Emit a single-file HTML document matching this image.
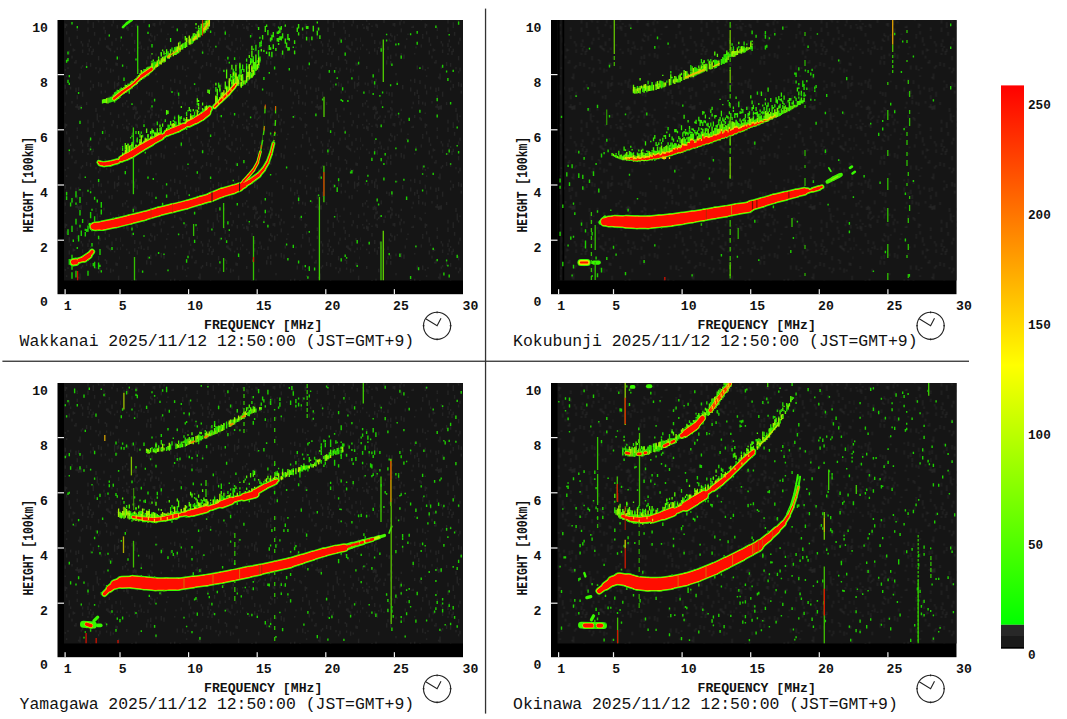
<!DOCTYPE html>
<html><head><meta charset="utf-8"><title>Ionogram</title>
<style>html,body{margin:0;padding:0;background:#fff;}svg{display:block}text{font-family:"Liberation Mono",monospace;fill:#111}.ax{font-size:13.15px;font-weight:bold}.st{font-size:16.45px}.cb{font-size:12.7px;font-weight:bold}</style></head><body>
<svg width="1067" height="719" viewBox="0 0 1067 719">
<defs><linearGradient id="cbg" x1="0" y1="0" x2="0" y2="1"><stop offset="0" stop-color="#ff0000"/><stop offset="0.519" stop-color="#ffff00"/><stop offset="1" stop-color="#00ff00"/></linearGradient><clipPath id="pc"><rect x="64" y="20" width="399" height="260.5"/></clipPath><filter id="bl" x="0" y="0" width="1067" height="719" filterUnits="userSpaceOnUse"><feGaussianBlur stdDeviation="0.45"/></filter><pattern id="noise" width="120" height="100" patternUnits="userSpaceOnUse"><path d="M38.7,14.5v3.5M9.3,51.4v2.6M6.7,48.7v1.6M52.0,6.7v1.8M50.7,79.4v1.9M26.7,60.2v4.3M69.3,38.1v4.4M5.3,82.4v2.4M17.3,11.3v2.4M97.3,17.3v3.2M77.3,35.8v3.1M8.0,5.7v2.1M81.3,41.0v2.4M70.6,43.5v2.4M96.0,67.1v2.2M69.3,50.4v4.1M88.0,27.6v4.4M14.7,40.1v3.8M18.7,46.9v1.6M80.0,73.4v3.2M105.3,30.1v3.6M72.0,55.7v2.9M101.3,90.7v2.9M80.0,5.8v3.6M77.3,95.3v4.0M34.7,37.0v3.5M2.7,44.3v2.0M14.7,5.7v3.8M16.0,23.8v2.7M104.0,7.7v2.8M65.3,84.8v4.0M104.0,26.7v2.7M42.7,84.9v4.4M18.7,16.9v2.2M28.0,46.6v3.3M32.0,0.4v2.8M44.0,54.4v4.4M82.6,49.5v3.4M81.3,5.2v4.2M93.3,84.0v3.9M46.7,38.3v1.8M76.0,6.0v1.7M25.3,15.6v2.5M6.7,0.0v2.0M12.0,34.9v1.6M105.3,59.0v1.9M30.7,33.3v2.6M14.7,81.5v4.5M56.0,46.4v1.8M12.0,32.9v2.3M100.0,15.5v1.6M114.6,50.7v1.9M65.3,2.6v3.1M117.3,82.9v3.6M32.0,35.2v2.0M92.0,51.1v3.8M40.0,21.4v3.9M118.6,81.9v3.9M98.6,71.0v2.2M62.7,34.1v1.6M4.0,26.8v2.3M82.6,91.8v2.8M112.0,94.9v4.4M44.0,21.2v2.2M24.0,19.6v3.4M108.0,80.7v2.9M78.6,76.8v1.8M78.6,87.3v3.8M90.6,45.9v2.0M94.6,31.9v3.9M116.0,38.0v2.7M113.3,69.6v2.0M14.7,14.5v4.2M97.3,14.0v4.0M117.3,63.1v2.6M65.3,12.6v1.5M116.0,62.4v3.1M112.0,41.6v4.1M98.6,20.3v2.3M34.7,23.1v3.3M30.7,40.2v1.9M109.3,34.0v2.9M70.6,86.8v2.8M110.6,48.2v3.1M62.7,1.8v2.8M21.3,0.4v3.9M21.3,45.5v3.7M66.6,31.3v3.1M66.6,75.3v1.8M66.6,23.9v2.3M93.3,48.7v3.2M90.6,87.6v2.8M73.3,48.5v3.0M82.6,43.4v3.1M57.3,90.4v3.6M105.3,90.4v2.3M66.6,90.6v4.0M16.0,11.7v2.8M9.3,23.1v1.7M80.0,75.3v4.2M18.7,68.7v3.5M17.3,84.8v4.4M26.7,91.4v2.7M58.7,95.0v4.0M20.0,41.4v3.0M41.3,18.8v2.5M86.6,1.9v3.2M53.3,1.7v2.5M74.6,49.2v1.7M118.6,75.7v4.4M12.0,25.5v1.6M93.3,26.0v1.9M50.7,87.5v4.0M30.7,14.3v4.3M68.0,67.2v1.8M6.7,66.1v2.8M9.3,90.1v3.4M96.0,8.0v4.1M8.0,82.8v2.9M41.3,53.1v4.3M32.0,12.4v3.1M28.0,10.5v2.0M6.7,19.4v2.4M36.0,72.9v2.4M60.0,17.1v2.5M2.7,24.0v1.5M88.0,52.9v2.1M57.3,89.7v1.8M98.6,41.5v3.0M100.0,37.7v3.0M82.6,94.3v2.5M100.0,67.8v3.4M48.0,33.4v1.7M16.0,6.8v3.7M30.7,15.7v1.8M101.3,83.6v3.5M33.3,23.3v2.4M54.7,15.1v2.8M32.0,92.3v4.4M65.3,23.5v4.4M37.3,34.2v1.5M45.3,45.6v3.0M24.0,48.5v1.5M32.0,8.6v2.7M5.3,2.2v2.4M28.0,56.2v3.1M90.6,63.1v3.6M105.3,37.4v2.5M118.6,14.3v3.7M77.3,4.2v4.0M106.6,60.2v3.7M97.3,13.4v3.1M60.0,80.2v3.9M98.6,56.1v4.2M81.3,66.6v2.2M4.0,12.8v2.6M12.0,80.2v3.2M76.0,60.1v3.5M58.7,0.3v3.9M89.3,48.3v3.1M78.6,6.3v3.7M30.7,7.1v2.3M88.0,19.7v3.7M117.3,47.4v2.6M57.3,65.6v3.8M74.6,61.7v1.7M17.3,24.4v3.7M36.0,54.5v1.5M6.7,25.8v3.5M82.6,64.9v2.4M61.3,44.6v2.9M14.7,85.8v2.1M117.3,89.9v1.6M54.7,78.7v4.4M53.3,25.8v2.1M113.3,20.2v3.2M17.3,50.3v4.4M16.0,78.7v3.0M106.6,67.5v2.2M108.0,46.7v1.6M0.0,47.2v2.9M36.0,13.5v2.5M37.3,80.7v1.5M90.6,80.6v1.9M110.6,68.5v4.2M34.7,35.7v2.7M120.0,56.6v2.6M52.0,26.4v1.6M12.0,80.1v2.4M112.0,23.9v2.3M61.3,18.2v2.6M114.6,84.9v3.9M76.0,87.7v4.3M65.3,69.1v1.6M88.0,43.3v3.8M77.3,27.5v1.6M110.6,12.2v2.9M41.3,28.6v3.7M117.3,25.0v3.5M36.0,53.5v2.7M20.0,15.5v2.1M109.3,47.7v2.2M109.3,95.7v2.8M17.3,18.5v1.8M41.3,8.7v2.2M30.7,54.7v4.2M89.3,39.6v2.7M62.7,36.2v2.5M8.0,26.6v4.4M14.7,48.3v3.4M104.0,20.7v2.3M29.3,38.4v2.8M114.6,81.5v4.1M2.7,3.1v3.6M108.0,45.4v3.3M0.0,37.6v4.3M98.6,82.1v4.4M29.3,10.5v2.0M62.7,65.5v4.3M86.6,62.1v3.8M54.7,52.9v1.6M93.3,22.3v4.3M77.3,29.2v1.9M30.7,61.1v3.6M13.3,6.8v3.1M69.3,37.3v2.2M72.0,1.0v2.4M54.7,92.1v3.4M106.6,45.6v2.2M29.3,92.2v3.6" stroke="#242424" stroke-width="1.3"/></pattern></defs>
<rect width="1067" height="719" fill="#fff"/>
<rect x="484.9" y="8.6" width="1.3" height="705" fill="#333"/>
<rect x="2.4" y="360.6" width="966.6" height="1.3" fill="#333"/>
<g transform="translate(0,0)">
<rect x="57.5" y="20" width="405.5" height="274.2" fill="#000"/>
<rect x="64" y="20" width="399" height="260.5" fill="#151515"/>
<rect x="64" y="20" width="399" height="260.5" fill="url(#noise)"/>
<g fill="none" stroke-linecap="round" clip-path="url(#pc)"><g filter="url(#bl)">
<path d="M93.2,226.6L95.1,226.3" stroke="#38f800" stroke-width="8.2"/>
<path d="M95.1,226.3L102.2,225.8" stroke="#38f800" stroke-width="9.7"/>
<path d="M102.2,225.8L116.2,222.9" stroke="#38f800" stroke-width="10.6"/>
<path d="M116.2,222.9L130.3,219.4" stroke="#38f800" stroke-width="10.7"/>
<path d="M130.3,219.4L144.3,215.9" stroke="#38f800" stroke-width="10.5"/>
<path d="M144.3,215.9L158.4,211.7" stroke="#38f800" stroke-width="10.2"/>
<path d="M158.4,211.7L172.5,208.2" stroke="#38f800" stroke-width="10.0"/>
<path d="M172.5,208.2L186.5,204.7" stroke="#38f800" stroke-width="9.9"/>
<path d="M186.5,204.7L200.6,200.4" stroke="#38f800" stroke-width="9.7"/>
<path d="M200.6,200.4L210.0,197.6" stroke="#38f800" stroke-width="9.7"/>
<path d="M210.0,197.6L211.7,196.8" stroke="#38f800" stroke-width="10.0"/>
<path d="M211.7,196.8L221.7,192.7" stroke="#38f800" stroke-width="10.3"/>
<path d="M221.7,192.7L233.4,189.3" stroke="#38f800" stroke-width="10.2"/>
<path d="M233.4,189.3L239.2,187.2" stroke="#38f800" stroke-width="9.7"/>
<path d="M239.2,187.2L243.7,185.0" stroke="#38f800" stroke-width="8.0"/>
<path d="M243.7,185.0L250.1,181.3" stroke="#38f800" stroke-width="6.5"/>
<path d="M250.1,181.3L258.4,175.3" stroke="#38f800" stroke-width="6.1"/>
<path d="M258.4,175.3L263.4,169.5" stroke="#38f800" stroke-width="5.4"/>
<path d="M263.4,169.5L267.6,162.6" stroke="#38f800" stroke-width="4.8"/>
<path d="M267.6,162.6L270.9,153.4" stroke="#38f800" stroke-width="4.3"/>
<path d="M270.9,153.4L273.4,143.4" stroke="#38f800" stroke-width="4.0"/>
<path d="M273.4,143.4L274.8,133.4" stroke="#38d800" stroke-width="1.6"/>
<path d="M274.8,133.4L275.5,120.0" stroke="#38d800" stroke-width="1.4"/>
<path d="M275.5,120.0L275.6,106.7" stroke="#38d800" stroke-width="1.3"/>
<path d="M240.6,184.5L243.7,181.1" stroke="#38f800" stroke-width="3.3"/>
<path d="M243.7,181.1L248.4,176.0" stroke="#38f800" stroke-width="3.8"/>
<path d="M248.4,176.0L253.4,170.1" stroke="#38f800" stroke-width="3.8"/>
<path d="M253.4,170.1L257.6,162.6" stroke="#38f800" stroke-width="3.4"/>
<path d="M257.6,162.6L260.4,151.8" stroke="#38f800" stroke-width="3.0"/>
<path d="M260.4,151.8L262.6,140.1" stroke="#38d800" stroke-width="1.6"/>
<path d="M262.6,140.1L264.3,128.4" stroke="#38d800" stroke-width="1.4"/>
<path d="M264.3,128.4L265.1,106.7" stroke="#38d800" stroke-width="1.3"/>
<path d="M89.8,224.3L91.6,226.0" stroke="#38f800" stroke-width="2.8"/>
<path d="M73.4,262.2L75.7,261.8" stroke="#38f800" stroke-width="8.4"/>
<path d="M79.3,260.4L84.2,258.9" stroke="#38f800" stroke-width="6.6"/>
<path d="M84.2,258.9L88.7,255.7" stroke="#38f800" stroke-width="7.5"/>
<path d="M88.7,255.7L92.1,251.7" stroke="#38f800" stroke-width="6.1"/>
<path d="M98.8,162.3L100.5,163.5" stroke="#38f800" stroke-width="4.8"/>
<path d="M100.5,163.5L104.0,164.1" stroke="#38f800" stroke-width="6.0"/>
<path d="M104.0,164.1L110.3,163.3" stroke="#38f800" stroke-width="6.4"/>
<path d="M110.3,163.3L117.6,161.3" stroke="#38f800" stroke-width="6.1"/>
<path d="M117.6,161.3L119.9,160.2" stroke="#38f800" stroke-width="4.6"/>
<path d="M119.9,160.2L121.8,158.8" stroke="#38f800" stroke-width="5.0"/>
<path d="M121.8,158.8L125.8,156.9" stroke="#38f800" stroke-width="7.5"/>
<path d="M125.8,156.9L131.4,154.1" stroke="#38f800" stroke-width="8.5"/>
<path d="M131.4,154.1L141.2,147.8" stroke="#38f800" stroke-width="8.6"/>
<path d="M141.2,147.8L151.1,142.2" stroke="#38f800" stroke-width="8.5"/>
<path d="M151.1,142.2L160.9,136.8" stroke="#38f800" stroke-width="7.8"/>
<path d="M160.9,136.8L164.1,135.3" stroke="#38f800" stroke-width="5.4"/>
<path d="M164.1,135.3L167.2,133.0" stroke="#38f800" stroke-width="5.4"/>
<path d="M167.2,133.0L172.2,130.9" stroke="#38f800" stroke-width="7.5"/>
<path d="M172.2,130.9L177.8,128.8" stroke="#38f800" stroke-width="7.8"/>
<path d="M177.8,128.8L183.4,126.1" stroke="#38f800" stroke-width="7.4"/>
<path d="M183.4,126.1L185.7,125.3" stroke="#38f800" stroke-width="5.4"/>
<path d="M185.7,125.3L189.0,123.6" stroke="#38f800" stroke-width="5.7"/>
<path d="M189.0,123.6L196.1,120.1" stroke="#38f800" stroke-width="7.9"/>
<path d="M196.1,120.1L201.7,116.9" stroke="#38f800" stroke-width="8.5"/>
<path d="M201.7,116.9L207.3,112.7" stroke="#38f800" stroke-width="8.3"/>
<path d="M207.3,112.7L209.8,108.7" stroke="#38f800" stroke-width="6.4"/>
<path d="M214.5,106.8L220.6,100.6" stroke="#38f800" stroke-width="4.8"/>
<path d="M220.6,100.6L228.2,93.3" stroke="#38f800" stroke-width="5.2"/>
<path d="M228.2,93.3L234.0,86.6" stroke="#38f800" stroke-width="5.0"/>
<path d="M234.0,86.6L235.9,84.1" stroke="#38f800" stroke-width="4.3"/>
<path d="M242.6,82.5V86.1M245.3,80.2V84.4M246.6,77.3V83.0M250.6,72.1V78.6M254.6,67.2V74.9M259.9,56.5V61.0" stroke="#30e800" stroke-width="1.45" stroke-linecap="butt"/>
<path d="M241.3,81.9V87.8M251.9,72.9V77.7M253.3,70.8V76.2M255.9,64.9V71.0M258.6,61.2V66.1" stroke="#58f800" stroke-width="1.45" stroke-linecap="butt"/>
<path d="M257.3,64.1V69.6" stroke="#90f000" stroke-width="1.45" stroke-linecap="butt"/>
<path d="M157.3,121.4V125.2M129.3,150.1V153.3M154.6,131.8V135.8M140.0,141.0V143.3M198.6,110.8V112.4M140.0,140.3V143.3M158.6,133.0V136.0M130.6,137.1V138.4M144.0,124.3V127.0M166.6,111.7V115.0M161.3,129.0V135.8M128.0,149.4V151.1M133.3,143.2V145.2M142.6,134.7V137.5M132.0,135.5V136.9M201.3,111.5V115.2M122.6,145.9V147.7M173.3,120.1V121.8M161.3,126.9V130.8M128.0,148.0V150.0M140.0,135.1V136.6M130.6,149.7V153.1M130.6,149.1V151.1M188.0,110.1V111.6M140.0,133.7V137.6M169.3,124.7V128.4M122.6,152.3V157.3M205.3,106.2V113.1M129.3,149.3V153.1M203.9,109.2V111.4M206.6,105.6V111.7M180.0,116.7V126.7M169.3,125.9V128.3M153.3,136.1V139.4M185.3,119.0V122.6M132.0,142.1V146.5M186.6,119.2V123.4M181.3,115.9V119.0M209.3,105.5V106.8M190.6,109.3V111.9M136.0,146.1V149.1M148.0,134.4V136.8M156.0,132.0V135.3M145.3,137.5V144.1M128.0,145.1V148.2M136.0,144.3V148.0M160.0,132.3V134.2M128.0,144.1V154.1M126.6,147.6V155.2M165.3,119.3V121.9M194.6,115.4V117.9M169.3,127.7V130.8M148.0,135.2V136.9M145.3,138.0V141.1M137.3,137.6V142.0M126.6,150.0V153.3M133.3,141.6V145.6M193.3,115.1V117.2M166.6,127.9V131.7M126.6,150.4V152.4M152.0,134.5V136.7M133.3,132.4V135.6M207.9,106.6V108.0M202.6,108.9V112.9M176.0,121.6V124.0M122.6,148.0V151.0M168.0,124.4V132.3M180.0,120.2V123.6M193.3,116.9V120.1M194.6,111.5V119.5M152.0,131.7V140.3M178.6,122.3V126.8M126.6,150.3V153.7M186.6,111.7V116.2M137.3,145.1V147.0M176.0,122.2V128.3M136.0,131.1V134.0M178.6,114.8V118.1M130.6,145.1V149.2M174.6,120.8V128.6" stroke="#25e000" stroke-width="1.3" stroke-linecap="butt"/>
<path d="M153.3,129.9V133.5M150.6,131.1V134.1M128.0,143.4V145.5M206.6,105.5V109.1M162.6,123.5V126.7M138.6,131.1V134.3M146.6,130.0V133.1M160.0,132.2V136.3M202.6,102.4V105.4M190.6,113.6V118.1M190.6,114.5V116.9M125.3,145.5V149.7M157.3,128.2V129.5M198.6,103.1V106.3M181.3,106.1V108.0M161.3,131.2V135.7M178.6,115.7V117.5M148.0,135.1V142.1M129.3,146.0V148.4M160.0,124.4V127.3M178.6,117.5V122.0M207.9,89.6V93.0M197.3,98.2V102.4M202.6,107.9V109.8M189.3,106.9V110.9M148.0,134.1V135.6M193.3,109.1V111.3M168.0,110.4V113.9M152.0,128.5V132.8M148.0,138.7V141.9M184.0,117.8V120.9M198.6,99.9V101.9M161.3,131.2V133.3M140.0,143.3V146.3M170.6,121.1V125.4M125.3,143.0V147.2M154.6,132.9V136.9M140.0,139.0V143.1M166.6,110.1V113.7M178.6,120.8V124.8M160.0,127.7V131.6M157.3,129.6V133.7M209.3,89.8V94.1M146.6,128.6V132.3M198.6,106.8V109.6M157.3,132.0V135.9M205.3,106.5V109.3M173.3,124.1V129.2" stroke="#50f800" stroke-width="1.3" stroke-linecap="butt"/>
<path d="M173.3,125.8V129.3M192.0,117.1V120.4M132.0,143.7V151.9M141.3,135.2V145.7M180.0,122.8V124.7M205.3,108.5V111.7M125.3,150.1V155.5M150.6,136.6V140.5M172.0,123.8V126.8M185.3,121.8V125.7M192.0,115.3V117.8M150.6,136.9V138.6M173.3,122.9V126.0M129.3,145.6V153.1M206.6,105.9V110.3M144.0,140.7V144.0M140.0,142.6V145.7M136.0,145.1V146.8M145.3,140.7V142.1M145.3,138.5V140.8M146.6,139.9V143.3M156.0,133.0V138.0M201.3,112.3V115.7M190.6,116.1V121.2M146.6,138.5V143.1M145.3,140.5V142.3M166.6,128.5V132.3M186.6,120.4V124.3M197.3,109.8V117.2M156.0,134.9V136.3M192.0,115.5V118.2M188.0,119.3V122.4M152.0,136.6V140.1M140.0,141.9V144.6M174.6,124.0V126.7M190.6,118.6V121.6M122.6,153.8V156.8M158.6,132.6V137.0M157.3,134.2V137.5M186.6,117.0V124.9M126.6,145.0V154.7M166.6,129.6V132.8" stroke="#a8f000" stroke-width="1.3" stroke-linecap="butt"/>
<path d="M221.3,93.3V98.1M246.6,63.6V69.6M255.9,61.3V63.0M227.9,86.5V88.1M258.6,54.6V68.2M247.9,73.5V75.2M227.9,87.9V90.5M254.6,68.9V71.0M254.6,67.5V70.5M253.3,56.2V62.2M241.3,69.3V73.8M259.9,59.1V62.1M234.6,71.3V77.7M243.9,68.9V72.1M242.6,77.3V85.2M226.6,85.7V90.6M218.6,82.7V87.7M238.6,74.5V80.4M241.3,82.8V85.9M247.9,71.8V78.8M251.9,58.6V63.0M226.6,88.6V91.9M226.6,85.9V87.2M258.6,54.2V61.4M233.3,79.6V87.0M242.6,82.0V84.4M242.6,79.3V81.3M234.6,77.9V84.6M239.9,69.9V75.3M215.9,96.0V101.5M229.3,80.8V90.7M253.3,66.5V72.6M231.9,79.7V88.1M253.3,74.1V75.6M259.9,58.4V62.5M253.3,48.4V50.0M251.9,67.2V68.6M215.9,100.9V105.3M239.9,72.9V79.4M230.6,78.0V81.5M234.6,79.6V82.9M221.3,95.9V97.6M241.3,78.7V80.1M251.9,67.5V69.6M249.3,70.6V72.9M258.6,49.9V56.0M255.9,44.7V50.8M223.9,69.8V71.9M217.3,94.3V100.5M251.9,70.1V71.5M233.3,68.7V74.9M249.3,65.6V68.6M261.3,40.6V44.6M219.9,88.5V92.2M251.9,73.6V77.2M215.9,87.0V91.7M230.6,88.1V92.4M217.3,94.0V104.0M215.9,96.8V102.5M259.9,41.9V47.3M250.6,58.1V64.6M233.3,74.4V88.2M231.9,82.4V86.8M222.6,95.5V98.8M247.9,77.7V80.7M246.6,58.4V61.7M261.3,44.8V46.3M238.6,82.8V85.9M239.9,64.3V70.1M253.3,71.2V74.5M226.6,90.2V95.6M242.6,64.6V69.9M230.6,74.0V80.6M229.3,87.1V90.2" stroke="#25e000" stroke-width="1.3" stroke-linecap="butt"/>
<path d="M221.3,92.6V97.5M215.9,97.7V104.6M225.3,81.6V87.8M249.3,55.1V58.1M226.6,69.5V72.2M242.6,74.0V78.8M219.9,84.8V90.8M246.6,72.0V75.9M231.9,64.8V69.6M239.9,62.8V68.4M235.9,64.8V71.3M251.9,45.7V50.1M238.6,80.7V84.2M217.3,97.5V103.7M241.3,83.3V86.5M253.3,60.3V65.8M261.3,48.9V51.4M246.6,66.2V72.3M258.6,57.5V62.1M255.9,65.0V70.0M250.6,61.3V64.8M251.9,50.5V57.2M217.3,88.8V91.2M225.3,84.0V89.3M251.9,51.0V55.8M255.9,54.6V67.3M246.6,71.8V75.2M242.6,78.4V82.6M251.9,67.7V69.9M253.3,64.5V68.8M215.9,97.4V100.7M215.9,82.7V85.4M217.3,89.2V95.1M249.3,64.0V69.0M231.9,81.7V83.9M246.6,71.4V77.1M255.9,57.9V63.3M235.9,72.2V78.6M231.9,76.1V77.6M254.6,62.1V68.9M239.9,74.4V76.7M226.6,72.3V78.5" stroke="#50f800" stroke-width="1.3" stroke-linecap="butt"/>
<path d="M249.3,74.5V79.0M233.3,83.9V87.0M249.3,64.6V79.5M246.6,75.7V81.7M251.9,74.5V77.5M226.6,91.1V95.5M233.3,72.6V87.4M258.6,57.7V61.7M233.3,77.7V86.2M241.3,81.7V86.4M223.9,90.2V96.5M249.3,69.9V76.5M247.9,72.0V77.1M234.6,83.3V87.4M237.3,76.6V81.9M253.3,70.0V74.7M222.6,92.2V95.7M241.3,74.6V81.3M249.3,69.3V75.7M258.6,58.9V64.9M223.9,93.1V98.5M238.6,79.6V84.3M233.3,83.2V86.9M243.9,80.5V84.6M219.9,97.0V99.3M215.9,100.5V104.2M237.3,77.4V85.6M251.9,65.5V72.3M226.6,87.3V91.3M221.3,95.4V97.5M229.3,81.9V92.3M229.3,78.3V93.1M235.9,73.2V85.4M215.9,95.5V106.1" stroke="#a8f000" stroke-width="1.3" stroke-linecap="butt"/>
<path d="M269.3,51.7v4.6M271.9,51.7v5.6M267.9,29.9v5.3M294.6,50.6v3.7M258.6,26.9v3.2M262.6,34.9v4.5M269.3,45.0v4.9M278.6,30.4v3.0M265.3,26.3v2.4M273.3,44.3v4.8M266.6,51.5v2.6M278.6,42.9v2.2M285.3,24.4v2.3M279.9,36.2v3.9M271.9,37.6v2.7M287.9,33.9v3.5M287.9,46.9v3.8M282.6,33.2v5.4M273.3,32.6v2.9M285.3,38.4v5.4M275.9,48.1v2.8M263.9,49.9v2.2M273.3,32.1v5.2M281.3,36.3v4.3M294.6,40.3v3.8M265.3,28.3v3.6M277.3,31.4v2.6M265.3,25.9v5.2M289.3,37.9v2.9M287.9,36.0v4.0M270.6,37.6v4.0M270.6,47.3v2.8M286.6,42.5v5.3M271.9,34.8v4.9M279.9,27.4v5.5M277.3,38.0v3.5M266.6,24.6v2.4M281.3,26.1v3.6M278.6,37.7v4.4M282.6,50.4v4.4M278.6,30.7v3.4M289.3,47.3v3.1" stroke="#30e000" stroke-width="1.4" stroke-linecap="butt"/>
<path d="M317.3,21.4v2.2M311.9,36.6v3.7M306.6,26.1v3.0M313.3,27.2v4.2M302.6,27.6v3.0M297.3,27.4v4.6M317.3,30.8v4.6M307.9,26.1v3.0M298.6,24.1v4.4M319.9,35.2v3.9M298.6,32.2v3.3M306.6,36.8v3.7M318.6,27.4v3.2M313.3,25.8v4.1" stroke="#30e000" stroke-width="1.4" stroke-linecap="butt"/>
<path d="M109.3,97.6V102.8M110.6,96.8V102.6M112.0,96.6V102.0" stroke="#30e800" stroke-width="1.45" stroke-linecap="butt"/>
<path d="M102.6,99.4V103.5M104.0,98.9V103.1M105.3,99.1V103.0M108.0,97.8V103.4M113.3,94.5V101.4" stroke="#58f800" stroke-width="1.45" stroke-linecap="butt"/>
<path d="M106.6,98.1V103.3" stroke="#90f000" stroke-width="1.45" stroke-linecap="butt"/>
<path d="M114.6,92.3V102.5M116.0,91.4V100.8M117.3,89.8V99.7M120.0,88.7V97.7M121.3,87.5V96.0M128.0,83.8V91.4M129.3,83.4V90.8M130.6,81.7V89.4M133.3,80.8V87.0M134.6,78.9V85.9M140.0,73.1V81.3M142.6,71.2V79.2M144.0,68.9V78.5M146.6,67.6V76.5M149.3,66.4V74.5M150.6,65.7V73.3" stroke="#30e800" stroke-width="1.45" stroke-linecap="butt"/>
<path d="M118.6,90.1V99.0M122.6,88.0V95.0M125.3,84.8V93.0M137.3,76.6V84.0M138.6,74.9V82.3M148.0,66.7V75.8" stroke="#58f800" stroke-width="1.45" stroke-linecap="butt"/>
<path d="M124.0,86.9V93.9M126.6,85.0V92.5M132.0,80.8V88.6M136.0,78.3V84.9M141.3,70.1V80.1M145.3,69.2V77.2" stroke="#90f000" stroke-width="1.45" stroke-linecap="butt"/>
<path d="M114.0,98.6L121.9,92.2" stroke="#38f800" stroke-width="4.6"/>
<path d="M121.9,92.2L129.8,86.8" stroke="#38f800" stroke-width="4.4"/>
<path d="M129.8,86.8L134.7,82.9" stroke="#38f800" stroke-width="3.9"/>
<path d="M134.7,82.9L141.6,76.0" stroke="#38f800" stroke-width="4.1"/>
<path d="M141.6,76.0L151.4,69.1" stroke="#38f800" stroke-width="5.0"/>
<path d="M153.3,62.6V70.1M158.6,58.3V66.3M168.0,51.2V59.1M181.3,45.2V49.8M184.0,43.1V48.1M192.0,36.4V43.9M193.3,35.4V42.6M196.0,34.3V40.0M201.3,26.8V35.3M205.3,20.6V32.7" stroke="#30e800" stroke-width="1.45" stroke-linecap="butt"/>
<path d="M160.0,60.2V64.5M164.0,56.5V62.4M165.3,55.5V61.8M170.6,49.2V57.2M174.6,48.5V55.0M176.0,46.7V55.0M177.3,48.0V53.7M178.6,46.8V53.2M182.6,44.4V49.4M185.3,41.7V48.1M186.6,37.8V46.9M197.3,31.3V39.5M199.9,30.8V37.3M203.9,23.1V33.6M206.6,21.5V30.6" stroke="#58f800" stroke-width="1.45" stroke-linecap="butt"/>
<path d="M152.0,65.4V71.2M154.6,63.6V69.6M156.0,62.6V67.8M157.3,60.4V67.1M161.3,58.3V64.5M162.6,56.7V62.5M169.3,53.2V58.8M173.3,50.5V56.2M180.0,45.6V51.8M189.3,39.6V44.7M190.6,38.6V44.5M194.6,33.2V40.8M198.6,29.4V37.6M207.9,19.7V28.9M209.3,16.1V26.4" stroke="#90f000" stroke-width="1.45" stroke-linecap="butt"/>
<path d="M170.6,37.9V42.0M202.6,20.8V25.0M177.3,46.8V50.1M196.0,27.4V28.6M206.6,18.1V20.3M199.9,28.1V33.5M153.3,62.4V66.9M203.9,26.0V31.0M166.6,52.5V57.1M165.3,53.1V54.3M207.9,17.1V21.3M154.6,62.8V66.6M196.0,27.2V28.6M156.0,61.7V65.5M154.6,61.5V65.4M172.0,47.4V51.3M202.6,24.0V28.5M174.6,47.1V52.6M198.6,27.6V29.0M205.3,23.4V28.2M201.3,25.9V31.3M152.0,60.8V62.7M161.3,51.9V54.5M180.0,41.4V44.4M207.9,17.3V21.3M194.6,33.6V35.9" stroke="#25e000" stroke-width="1.3" stroke-linecap="butt"/>
<path d="M193.3,33.2V39.2M161.3,52.3V56.4M185.3,36.1V40.4M158.6,56.5V58.3M198.6,25.6V27.6M166.6,49.2V52.7M153.3,59.4V61.6M189.3,36.8V38.2M152.0,53.3V54.6M164.0,51.3V54.7M166.6,50.3V53.2M162.6,49.4V51.3M182.6,43.5V46.5M201.3,23.8V27.9M205.3,13.3V16.0M196.0,23.1V25.2M152.0,63.9V67.4M207.9,15.1V16.4" stroke="#50f800" stroke-width="1.3" stroke-linecap="butt"/>
<path d="M186.6,38.1V41.9M177.3,46.6V51.4M157.3,62.2V65.2M210.6,16.7V20.1M181.3,44.6V46.6M202.6,23.4V30.7M178.6,45.9V49.2M189.3,39.2V42.9M178.6,42.5V49.4M206.6,20.5V23.5M205.3,23.2V24.4M158.6,59.5V60.8M196.0,34.3V37.4M189.3,35.4V42.4M177.3,48.1V51.9M152.0,63.1V67.0" stroke="#a8f000" stroke-width="1.3" stroke-linecap="butt"/>
<path d="M122.9,27.2L126.8,23.3" stroke="#38f800" stroke-width="2.5"/>
<path d="M126.8,23.3L131.8,19.9" stroke="#38f800" stroke-width="2.6"/>
<path d="M137.7,25.8V74.0" stroke="#30d000" stroke-width="1.3" stroke-linecap="butt"/>
<path d="M133.4,127.4V194.2" stroke="#30d000" stroke-width="1.3" stroke-linecap="butt"/>
<path d="M324.0,96.7V117.0" stroke="#50d000" stroke-width="1.3" stroke-linecap="butt"/>
<path d="M383.3,39.6V82.0" stroke="#50d000" stroke-width="1.3" stroke-linecap="butt"/>
<path d="M319.4,196.9V280.5" stroke="#40d000" stroke-width="1.3" stroke-linecap="butt"/>
<path d="M323.9,165.7V202.2" stroke="#40d000" stroke-width="1.3" stroke-linecap="butt"/>
<path d="M381.0,241.5V280.5" stroke="#40d000" stroke-width="1.3" stroke-linecap="butt"/>
<path d="M383.3,230.7V280.5" stroke="#60d000" stroke-width="1.3" stroke-linecap="butt"/>
<path d="M253.5,236.0V280.5" stroke="#30c000" stroke-width="1.3" stroke-linecap="butt"/>
<path d="M134.5,257.0V280.5" stroke="#30c000" stroke-width="1.3" stroke-linecap="butt"/>
<path d="M223.6,203.0V228.0" stroke="#30c000" stroke-width="1.3" stroke-linecap="butt"/>
<path d="M223.6,258.0V272.0" stroke="#30c000" stroke-width="1.3" stroke-linecap="butt"/>
<path d="M193.6,224.0V236.0" stroke="#30c000" stroke-width="1.3" stroke-linecap="butt"/>
<path d="M69.3,259.1v5.7M72.0,225.7v6.2M85.3,232.1v4.5M72.0,272.2v5.7M76.0,218.8v5.5M98.6,235.8v3.4M78.6,235.2v6.4M92.0,208.7v2.1M90.6,211.9v6.4M72.0,272.7v6.0M76.0,191.3v6.1M70.6,202.6v3.9M72.0,197.9v4.7M90.6,255.2v2.3M68.0,229.2v5.7M73.3,239.4v2.6M98.6,262.5v6.7M80.0,196.9v6.1M82.6,219.0v4.1M92.0,250.4v4.2M76.0,202.5v2.3M101.3,270.3v2.3M88.0,270.8v4.9M101.3,202.1v5.6M97.3,199.5v3.0M101.3,209.4v5.1M100.0,249.0v5.9M77.3,260.5v2.7M81.3,230.6v5.5M66.6,196.2v3.8M72.0,265.5v4.2M88.0,225.4v6.3M100.0,264.7v2.4M88.0,254.5v6.6M86.6,229.0v2.9M66.6,192.0v3.4M93.3,223.4v4.7M76.0,270.8v6.6M76.0,221.9v2.5M80.0,210.0v5.6M77.3,246.9v2.1M92.0,242.9v3.5M94.6,261.7v6.5M92.0,226.4v4.9M94.6,216.2v6.4" stroke="#1fd000" stroke-width="1.4" stroke-linecap="butt"/>
<path d="M377.2,198.4v3.0M85.3,228.7v2.4M337.2,187.3v2.3M357.2,240.1v3.5M72.0,254.8v3.1M301.3,215.8v2.2M225.3,31.4v3.4M385.2,152.9v2.7M391.9,63.5v2.6M351.9,169.9v3.5M166.6,194.6v3.1M219.9,261.2v2.3M122.6,64.5v2.3M457.2,254.8v3.3M327.9,149.6v2.8M305.3,264.9v2.3M219.9,207.3v3.1M358.6,61.8v2.8M172.0,91.1v2.0M68.0,51.6v2.8M381.2,48.3v3.4M249.3,220.9v1.6M97.3,229.1v1.7M80.0,189.0v1.6M229.3,229.3v1.7M399.9,253.5v3.5M309.3,230.9v1.8M293.3,244.7v3.2M133.3,232.7v2.3M267.9,224.7v2.8M194.6,239.7v3.4M386.6,33.7v1.5M293.3,46.4v1.7M410.6,33.2v2.1M186.6,259.3v3.4M375.9,138.2v1.7M447.9,78.1v2.8M374.6,151.2v3.3M437.2,114.5v2.9M102.6,131.1v2.8M174.6,116.4v3.0M149.3,256.7v1.8M153.3,178.0v2.0M398.6,112.7v1.8M330.6,130.2v2.7M109.3,34.5v2.1M269.3,71.9v1.9M397.2,82.8v2.2M410.6,276.0v3.0M121.3,216.4v1.7M382.6,91.5v1.9M234.6,57.3v2.8M391.9,191.3v3.1M129.3,90.6v3.2M194.6,211.8v2.6M124.0,77.6v3.3M422.6,173.3v1.5M72.0,260.6v3.1M342.6,87.3v3.3M94.6,196.8v2.9M211.9,228.6v1.9M446.6,259.4v2.2M196.0,224.1v2.2M298.6,197.6v3.4M363.9,91.5v2.2M94.6,226.5v3.2M153.3,141.6v2.2M177.3,28.5v2.7M442.6,64.7v3.0M371.9,157.8v3.2M233.3,179.7v1.6M125.3,171.0v3.2M253.3,259.5v2.5M227.9,221.2v3.3M422.6,189.5v1.9M188.0,163.4v1.6M184.0,222.3v2.0M322.6,98.6v1.8M197.3,103.1v2.1M188.0,255.7v2.6M262.6,88.5v2.1M382.6,106.3v1.8M218.6,193.0v3.4M395.9,147.4v1.8M417.2,31.1v2.7M450.6,102.0v2.5M186.6,127.2v1.7M310.6,200.2v1.8M69.3,82.7v2.2M237.3,203.0v2.5M77.3,25.9v2.4M132.0,227.5v3.0M383.9,178.6v1.9M379.9,94.9v1.8M80.0,120.7v3.4M337.2,189.6v2.3M238.6,253.4v3.5M197.3,171.2v2.5M145.3,151.7v1.7M381.2,124.4v2.8M374.6,81.2v3.4M457.2,145.0v1.6M318.6,194.4v1.9M373.2,93.0v2.0M98.6,179.1v3.0M341.2,99.0v2.1M86.6,65.9v2.0M148.0,31.8v2.3M69.3,149.6v1.5M215.9,45.7v1.8M341.2,39.6v3.1M334.6,184.7v2.6M351.9,77.3v2.3M72.0,22.1v2.3M309.3,267.7v3.2M86.6,255.4v2.3M229.3,61.7v1.7M243.9,160.1v3.2M329.3,70.0v2.7M390.6,84.2v2.1M168.0,269.4v1.8M315.9,113.4v2.9M263.9,76.9v3.2M278.6,26.6v1.9M132.0,103.3v1.8M321.3,176.5v2.3M166.6,183.3v2.3M369.2,241.7v2.9M437.2,98.0v3.2M226.6,240.2v2.7M178.6,92.6v3.2M257.3,60.0v2.7M121.3,36.6v2.0M373.2,74.2v3.2M81.3,107.1v1.5M338.6,178.2v3.1M389.2,252.9v2.3M210.6,176.5v2.5M141.3,131.5v2.3M417.2,41.7v3.0M345.2,254.5v2.6M345.2,52.5v3.2M85.3,176.4v1.7M156.0,196.7v2.3M337.2,77.2v1.7M202.6,150.2v3.1M409.2,117.7v3.4M289.3,68.1v2.5M334.6,215.9v1.7M450.6,163.3v1.5M178.6,233.6v1.6M189.3,194.3v1.8M350.6,171.6v2.0M386.6,39.6v1.9M367.9,174.8v1.9M221.3,237.7v1.8M90.6,148.4v1.9M335.9,83.5v1.9M309.3,266.2v2.6M449.2,274.4v3.0M293.3,116.1v1.7M274.6,66.8v2.6M237.3,163.3v2.7M287.9,258.0v2.6M112.0,247.0v3.0M210.6,134.4v2.6M219.9,192.1v3.5M85.3,255.4v3.5M407.9,139.4v2.8M250.6,116.4v1.8M145.3,142.9v2.1M148.0,176.6v2.1M395.9,43.5v2.0M233.3,75.7v3.2M259.9,36.8v1.9M342.6,99.9v2.1M149.3,24.2v3.0M194.6,83.3v1.7M265.3,209.8v3.4M435.9,25.4v2.5M257.3,161.3v2.4M433.2,172.7v2.4M446.6,153.3v1.5M314.6,267.6v2.8M144.0,235.2v1.6M401.2,55.5v3.2M136.0,58.4v2.0M265.3,197.9v2.5M93.3,263.0v3.2M210.6,30.6v2.3M447.9,264.7v1.8M142.6,270.6v2.2M341.2,258.3v3.2M383.9,177.5v3.1M158.6,252.0v1.9M113.3,217.6v3.5M366.6,180.2v1.7M274.6,66.6v2.6M227.9,56.8v2.6M378.6,203.6v1.8M437.2,259.1v2.2M453.2,69.7v2.3M398.6,43.0v2.3M69.3,75.1v2.2M395.9,180.8v1.7M381.2,214.9v2.1M133.3,208.8v3.4M152.0,105.3v2.2M449.2,34.0v1.5M137.3,139.1v3.4M80.0,224.8v2.6M418.6,267.3v2.9M164.0,253.6v1.5M457.2,126.6v2.0M415.9,148.4v2.3M186.6,128.1v2.0M270.6,132.4v2.0M66.6,59.7v3.1M346.6,257.0v1.8M433.2,247.7v2.2M443.9,272.4v3.2M286.6,243.6v1.8M117.3,56.5v2.9M446.6,70.6v1.8M415.9,245.4v1.8M78.6,92.1v2.0M68.0,58.1v3.2M90.6,137.6v2.9M347.9,100.1v1.8M234.6,113.0v2.4M181.3,142.4v3.4M68.0,79.7v3.2M263.9,221.3v1.7M458.6,21.6v3.1M162.6,202.8v3.1M357.2,265.0v1.9M403.9,178.8v1.9M152.0,44.1v3.3M196.0,109.6v1.7M383.9,163.1v1.9M381.2,158.1v3.1M345.2,131.2v2.2M419.9,67.3v1.7M406.6,196.6v3.4M307.9,276.3v2.4M90.6,191.2v2.0M221.3,115.1v2.2M270.6,174.0v1.6M419.9,109.8v3.0M202.6,51.5v2.2M154.6,98.7v2.8M334.6,69.9v2.9M309.3,62.5v2.7M88.0,189.8v2.0M298.6,260.6v2.9M286.6,166.6v2.0M250.6,34.9v2.5M449.2,149.5v3.0M423.9,165.6v1.8M458.6,151.0v2.4" stroke="#1fd000" stroke-width="1.4" stroke-linecap="butt"/>
<path d="M93.2,226.6L95.1,226.3" stroke="#f0e000" stroke-width="6.2"/>
<path d="M95.1,226.3L102.2,225.8" stroke="#f0e000" stroke-width="7.7"/>
<path d="M102.2,225.8L116.2,222.9" stroke="#f0e000" stroke-width="8.6"/>
<path d="M116.2,222.9L130.3,219.4" stroke="#f0e000" stroke-width="8.7"/>
<path d="M130.3,219.4L144.3,215.9" stroke="#f0e000" stroke-width="8.5"/>
<path d="M144.3,215.9L158.4,211.7" stroke="#f0e000" stroke-width="8.2"/>
<path d="M158.4,211.7L172.5,208.2" stroke="#f0e000" stroke-width="8.0"/>
<path d="M172.5,208.2L186.5,204.7" stroke="#f0e000" stroke-width="7.9"/>
<path d="M186.5,204.7L200.6,200.4" stroke="#f0e000" stroke-width="7.7"/>
<path d="M200.6,200.4L210.0,197.6" stroke="#f0e000" stroke-width="7.7"/>
<path d="M210.0,197.6L211.7,196.8" stroke="#f0e000" stroke-width="8.0"/>
<path d="M211.7,196.8L221.7,192.7" stroke="#f0e000" stroke-width="8.3"/>
<path d="M221.7,192.7L233.4,189.3" stroke="#f0e000" stroke-width="8.2"/>
<path d="M233.4,189.3L239.2,187.2" stroke="#f0e000" stroke-width="7.7"/>
<path d="M239.2,187.2L243.7,185.0" stroke="#f0e000" stroke-width="6.0"/>
<path d="M243.7,185.0L250.1,181.3" stroke="#f0e000" stroke-width="4.5"/>
<path d="M250.1,181.3L258.4,175.3" stroke="#f0e000" stroke-width="4.1"/>
<path d="M258.4,175.3L263.4,169.5" stroke="#f0e000" stroke-width="3.4"/>
<path d="M263.4,169.5L267.6,162.6" stroke="#f0e000" stroke-width="2.8"/>
<path d="M267.6,162.6L270.9,153.4" stroke="#f0e000" stroke-width="2.3"/>
<path d="M270.9,153.4L273.4,143.4" stroke="#f0e000" stroke-width="2.0"/>
<path d="M274.6,140.1L274.8,136.4" stroke="#f05000" stroke-width="1.0" fill="none"/>
<path d="M274.6,132.6L274.8,128.9" stroke="#f05000" stroke-width="1.0" fill="none"/>
<path d="M275.5,110.0L275.6,106.4" stroke="#f05000" stroke-width="1.0" fill="none"/>
<path d="M240.6,184.5L243.7,181.1" stroke="#f0e000" stroke-width="2.3"/>
<path d="M243.7,181.1L248.4,176.0" stroke="#f0e000" stroke-width="2.8"/>
<path d="M248.4,176.0L253.4,170.1" stroke="#f0e000" stroke-width="2.8"/>
<path d="M253.4,170.1L257.6,162.6" stroke="#f0e000" stroke-width="2.4"/>
<path d="M257.6,162.6L260.4,151.8" stroke="#f0e000" stroke-width="2.0"/>
<path d="M261.1,148.4L261.3,145.1" stroke="#f05000" stroke-width="1.0" fill="none"/>
<path d="M264.1,130.1L264.3,126.7" stroke="#f05000" stroke-width="1.0" fill="none"/>
<path d="M265.1,108.4L265.3,105.0" stroke="#f05000" stroke-width="1.0" fill="none"/>
<path d="M73.4,262.2L75.7,261.8" stroke="#f0e000" stroke-width="5.9"/>
<path d="M79.3,260.4L84.2,258.9" stroke="#f0e000" stroke-width="4.6"/>
<path d="M84.2,258.9L88.7,255.7" stroke="#f0e000" stroke-width="5.5"/>
<path d="M88.7,255.7L92.1,251.7" stroke="#f0e000" stroke-width="4.1"/>
<path d="M98.8,162.3L100.5,163.5" stroke="#f0e000" stroke-width="2.8"/>
<path d="M100.5,163.5L104.0,164.1" stroke="#f0e000" stroke-width="4.0"/>
<path d="M104.0,164.1L110.3,163.3" stroke="#f0e000" stroke-width="4.4"/>
<path d="M110.3,163.3L117.6,161.3" stroke="#f0e000" stroke-width="4.1"/>
<path d="M117.6,161.3L119.9,160.2" stroke="#f0e000" stroke-width="2.6"/>
<path d="M119.9,160.2L121.8,158.8" stroke="#f0e000" stroke-width="3.0"/>
<path d="M121.8,158.8L125.8,156.9" stroke="#f0e000" stroke-width="5.5"/>
<path d="M125.8,156.9L131.4,154.1" stroke="#f0e000" stroke-width="6.5"/>
<path d="M131.4,154.1L141.2,147.8" stroke="#f0e000" stroke-width="6.6"/>
<path d="M141.2,147.8L151.1,142.2" stroke="#f0e000" stroke-width="6.5"/>
<path d="M151.1,142.2L160.9,136.8" stroke="#f0e000" stroke-width="5.8"/>
<path d="M160.9,136.8L164.1,135.3" stroke="#f0e000" stroke-width="3.4"/>
<path d="M164.1,135.3L167.2,133.0" stroke="#f0e000" stroke-width="3.4"/>
<path d="M167.2,133.0L172.2,130.9" stroke="#f0e000" stroke-width="5.5"/>
<path d="M172.2,130.9L177.8,128.8" stroke="#f0e000" stroke-width="5.8"/>
<path d="M177.8,128.8L183.4,126.1" stroke="#f0e000" stroke-width="5.4"/>
<path d="M183.4,126.1L185.7,125.3" stroke="#f0e000" stroke-width="3.4"/>
<path d="M185.7,125.3L189.0,123.6" stroke="#f0e000" stroke-width="3.7"/>
<path d="M189.0,123.6L196.1,120.1" stroke="#f0e000" stroke-width="5.9"/>
<path d="M196.1,120.1L201.7,116.9" stroke="#f0e000" stroke-width="6.5"/>
<path d="M201.7,116.9L207.3,112.7" stroke="#f0e000" stroke-width="6.3"/>
<path d="M207.3,112.7L209.8,108.7" stroke="#f0e000" stroke-width="4.4"/>
<path d="M214.5,106.8L220.6,100.6" stroke="#f0e000" stroke-width="3.2"/>
<path d="M220.6,100.6L228.2,93.3" stroke="#f0e000" stroke-width="3.6"/>
<path d="M228.2,93.3L234.0,86.6" stroke="#f0e000" stroke-width="3.4"/>
<path d="M234.0,86.6L235.9,84.1" stroke="#f0e000" stroke-width="2.7"/>
<path d="M114.0,98.6L121.9,92.2" stroke="#f0e000" stroke-width="3.8"/>
<path d="M121.9,92.2L129.8,86.8" stroke="#f0e000" stroke-width="3.6"/>
<path d="M129.8,86.8L134.7,82.9" stroke="#f0e000" stroke-width="3.1"/>
<path d="M134.7,82.9L141.6,76.0" stroke="#f0e000" stroke-width="3.3"/>
<path d="M141.6,76.0L151.4,69.1" stroke="#f0e000" stroke-width="4.2"/>
<path d="M152.0,67.6V69.8M156.0,64.6V66.8M157.3,63.6V65.8M160.0,61.6V63.9M164.0,58.6V60.9M168.0,55.6V58.0M169.3,54.8V57.2M177.3,49.6V52.0M180.0,47.8V50.2M193.3,38.3V40.9M194.6,37.4V40.0M196.0,36.1V39.0M198.6,33.8V36.7M203.9,28.0V31.7M205.3,26.2V29.8M209.3,20.1V23.7" stroke="#e8d000" stroke-width="1.45" stroke-linecap="butt"/>
<path d="M167.2,57.3L171.1,54.4L176.0,51.4" stroke="#f0a000" stroke-width="1.2" fill="none"/>
<path d="M204.6,28.8L207.5,23.9" stroke="#f0c000" stroke-width="2.0" fill="none"/>
<path d="M202.6,20.0V35.7" stroke="#e03000" stroke-width="1.0" stroke-linecap="butt"/>
<path d="M323.9,172.0V196.0" stroke="#d02000" stroke-width="1.3" stroke-linecap="butt"/>
<path d="M77.6,271.0V280.5" stroke="#d01000" stroke-width="1.3" stroke-linecap="butt"/>
<path d="M253.5,257.0V262.0" stroke="#d02000" stroke-width="1.3" stroke-linecap="butt"/>
<path d="M93.2,226.6L95.1,226.3" stroke="#ff0800" stroke-width="5.2"/>
<path d="M95.1,226.3L102.2,225.8" stroke="#ff0800" stroke-width="6.7"/>
<path d="M102.2,225.8L116.2,222.9" stroke="#ff0800" stroke-width="7.6"/>
<path d="M116.2,222.9L130.3,219.4" stroke="#ff0800" stroke-width="7.7"/>
<path d="M130.3,219.4L144.3,215.9" stroke="#ff0800" stroke-width="7.5"/>
<path d="M144.3,215.9L158.4,211.7" stroke="#ff0800" stroke-width="7.2"/>
<path d="M158.4,211.7L172.5,208.2" stroke="#ff0800" stroke-width="7.0"/>
<path d="M172.5,208.2L186.5,204.7" stroke="#ff0800" stroke-width="6.9"/>
<path d="M186.5,204.7L200.6,200.4" stroke="#ff0800" stroke-width="6.7"/>
<path d="M200.6,200.4L210.0,197.6" stroke="#ff0800" stroke-width="6.7"/>
<path d="M210.0,197.6L211.7,196.8" stroke="#ff0800" stroke-width="7.0"/>
<path d="M211.7,196.8L221.7,192.7" stroke="#ff0800" stroke-width="7.3"/>
<path d="M221.7,192.7L233.4,189.3" stroke="#ff0800" stroke-width="7.2"/>
<path d="M233.4,189.3L239.2,187.2" stroke="#ff0800" stroke-width="6.7"/>
<path d="M239.2,187.2L243.7,185.0" stroke="#ff0800" stroke-width="5.0"/>
<path d="M243.7,185.0L250.1,181.3" stroke="#ff0800" stroke-width="3.5"/>
<path d="M250.1,181.3L258.4,175.3" stroke="#ff0800" stroke-width="3.1"/>
<path d="M258.4,175.3L263.4,169.5" stroke="#ff0800" stroke-width="2.4"/>
<path d="M263.4,169.5L267.6,162.6" stroke="#ff0800" stroke-width="1.8"/>
<path d="M267.6,162.6L270.9,153.4" stroke="#ff0800" stroke-width="1.3"/>
<path d="M270.9,153.4L273.4,143.4" stroke="#ff0800" stroke-width="1.0"/>
<path d="M240.6,184.5L243.7,181.1" stroke="#ff0800" stroke-width="1.3"/>
<path d="M243.7,181.1L248.4,176.0" stroke="#ff0800" stroke-width="1.8"/>
<path d="M248.4,176.0L253.4,170.1" stroke="#ff0800" stroke-width="1.8"/>
<path d="M253.4,170.1L257.6,162.6" stroke="#ff0800" stroke-width="1.4"/>
<path d="M257.6,162.6L260.4,151.8" stroke="#ff0800" stroke-width="1.0"/>
<path d="M73.4,262.2L75.7,261.8" stroke="#ff0800" stroke-width="4.9"/>
<path d="M79.3,260.4L84.2,258.9" stroke="#ff0800" stroke-width="3.6"/>
<path d="M84.2,258.9L88.7,255.7" stroke="#ff0800" stroke-width="4.5"/>
<path d="M88.7,255.7L92.1,251.7" stroke="#ff0800" stroke-width="3.1"/>
<path d="M98.8,162.3L100.5,163.5" stroke="#ff0800" stroke-width="1.8"/>
<path d="M100.5,163.5L104.0,164.1" stroke="#ff0800" stroke-width="3.0"/>
<path d="M104.0,164.1L110.3,163.3" stroke="#ff0800" stroke-width="3.4"/>
<path d="M110.3,163.3L117.6,161.3" stroke="#ff0800" stroke-width="3.1"/>
<path d="M117.6,161.3L119.9,160.2" stroke="#ff0800" stroke-width="1.6"/>
<path d="M119.9,160.2L121.8,158.8" stroke="#ff0800" stroke-width="2.0"/>
<path d="M121.8,158.8L125.8,156.9" stroke="#ff0800" stroke-width="4.5"/>
<path d="M125.8,156.9L131.4,154.1" stroke="#ff0800" stroke-width="5.5"/>
<path d="M131.4,154.1L141.2,147.8" stroke="#ff0800" stroke-width="5.6"/>
<path d="M141.2,147.8L151.1,142.2" stroke="#ff0800" stroke-width="5.5"/>
<path d="M151.1,142.2L160.9,136.8" stroke="#ff0800" stroke-width="4.8"/>
<path d="M160.9,136.8L164.1,135.3" stroke="#ff0800" stroke-width="2.4"/>
<path d="M164.1,135.3L167.2,133.0" stroke="#ff0800" stroke-width="2.4"/>
<path d="M167.2,133.0L172.2,130.9" stroke="#ff0800" stroke-width="4.5"/>
<path d="M172.2,130.9L177.8,128.8" stroke="#ff0800" stroke-width="4.8"/>
<path d="M177.8,128.8L183.4,126.1" stroke="#ff0800" stroke-width="4.4"/>
<path d="M183.4,126.1L185.7,125.3" stroke="#ff0800" stroke-width="2.4"/>
<path d="M185.7,125.3L189.0,123.6" stroke="#ff0800" stroke-width="2.7"/>
<path d="M189.0,123.6L196.1,120.1" stroke="#ff0800" stroke-width="4.9"/>
<path d="M196.1,120.1L201.7,116.9" stroke="#ff0800" stroke-width="5.5"/>
<path d="M201.7,116.9L207.3,112.7" stroke="#ff0800" stroke-width="5.3"/>
<path d="M207.3,112.7L209.8,108.7" stroke="#ff0800" stroke-width="3.4"/>
<path d="M214.5,106.8L220.6,100.6" stroke="#ff0800" stroke-width="1.6"/>
<path d="M220.6,100.6L228.2,93.3" stroke="#ff0800" stroke-width="2.0"/>
<path d="M228.2,93.3L234.0,86.6" stroke="#ff0800" stroke-width="1.8"/>
<path d="M234.0,86.6L235.9,84.1" stroke="#ff0800" stroke-width="1.1"/>
<path d="M114.0,98.6L121.9,92.2" stroke="#ff0800" stroke-width="2.4"/>
<path d="M121.9,92.2L129.8,86.8" stroke="#ff0800" stroke-width="2.2"/>
<path d="M129.8,86.8L134.7,82.9" stroke="#ff0800" stroke-width="1.7"/>
<path d="M134.7,82.9L141.6,76.0" stroke="#ff0800" stroke-width="1.9"/>
<path d="M141.6,76.0L151.4,69.1" stroke="#ff0800" stroke-width="2.8"/>
<path d="M275.5,113.4V120.0" stroke="#151515" stroke-width="2.6" stroke-linecap="butt"/>
<path d="M275.1,125.9V131.7" stroke="#151515" stroke-width="2.6" stroke-linecap="butt"/>
<path d="M264.8,113.4V125.9" stroke="#151515" stroke-width="2.6" stroke-linecap="butt"/>
<path d="M263.8,135.1V140.1" stroke="#151515" stroke-width="2.6" stroke-linecap="butt"/>
<path d="M274.5,135.9V140.1" stroke="#151515" stroke-width="2.6" stroke-linecap="butt"/>
<path d="M218.3,101.7V104.2" stroke="#f0e000" stroke-width="1.1" stroke-linecap="butt"/>
<path d="M222.9,97.1V99.6" stroke="#f0e000" stroke-width="1.1" stroke-linecap="butt"/>
<path d="M226.7,93.3V95.8" stroke="#f0e000" stroke-width="1.1" stroke-linecap="butt"/>
<path d="M231.0,88.7V91.2" stroke="#f0e000" stroke-width="1.1" stroke-linecap="butt"/>
<path d="M212.0,191.7V201.7" stroke="#151515" stroke-width="0.9" stroke-linecap="butt"/>
<path d="M239.6,182.6V191.4" stroke="#151515" stroke-width="0.9" stroke-linecap="butt"/>
<path d="M172.5,203.6V212.8" stroke="#c03000" stroke-width="0.7" stroke-linecap="butt"/>
<path d="M151.0,209.2V218.7" stroke="#c03000" stroke-width="0.7" stroke-linecap="butt"/>
</g></g>
<rect x="57.5" y="239.6" width="6.5" height="1.2" fill="#eee"/>
<rect x="57.5" y="184.4" width="6.5" height="1.2" fill="#eee"/>
<rect x="57.5" y="129.2" width="6.5" height="1.2" fill="#eee"/>
<rect x="57.5" y="74.0" width="6.5" height="1.2" fill="#eee"/>
<rect x="64.5" y="289.2" width="1.2" height="5" fill="#eee"/>
<rect x="119.4" y="289.2" width="1.2" height="5" fill="#eee"/>
<rect x="188.0" y="289.2" width="1.2" height="5" fill="#eee"/>
<rect x="256.6" y="289.2" width="1.2" height="5" fill="#eee"/>
<rect x="325.2" y="289.2" width="1.2" height="5" fill="#eee"/>
<rect x="393.8" y="289.2" width="1.2" height="5" fill="#eee"/>
<text class="ax" x="48" y="306.4" text-anchor="end">0</text>
<text class="ax" x="48" y="252.4" text-anchor="end">2</text>
<text class="ax" x="48" y="197.2" text-anchor="end">4</text>
<text class="ax" x="48" y="142.0" text-anchor="end">6</text>
<text class="ax" x="48" y="86.8" text-anchor="end">8</text>
<text class="ax" x="48" y="31.6" text-anchor="end">10</text>
<text class="ax" x="63.8" y="309.8">1</text>
<text class="ax" x="118.7" y="309.8">5</text>
<text class="ax" x="187.3" y="309.8">10</text>
<text class="ax" x="255.9" y="309.8">15</text>
<text class="ax" x="324.5" y="309.8">20</text>
<text class="ax" x="393.1" y="309.8">25</text>
<text class="ax" x="462.6" y="309.8">30</text>
<text class="ax" x="204" y="328.6">FREQUENCY [MHz]</text>
<text class="ax" transform="translate(33,232.5) rotate(-90) scale(0.866,1.16)">HEIGHT [100km]</text>
<text class="st" x="19.6" y="346.3">Wakkanai 2025/11/12 12:50:00 (JST=GMT+9)</text>
<g fill="none" stroke="#222" stroke-width="1.1">
<circle cx="437.1" cy="325.8" r="13.6"/>
<path d="M425.70000000000005,318.8 L437.1,325.8 L441.0,318.2"/>
<path d="M437.1,311.4 v1.8 M437.1,338.40000000000003 v1.8 M422.7,325.8 h1.8 M449.70000000000005,325.8 h1.8"/>
</g>
</g>
<g transform="translate(493.5,0)">
<rect x="57.5" y="20" width="405.5" height="274.2" fill="#000"/>
<rect x="64" y="20" width="399" height="260.5" fill="#151515"/>
<rect x="64" y="20" width="399" height="260.5" fill="url(#noise)"/>
<rect x="64" y="20" width="2.2" height="260.5" fill="#000"/><rect x="68.9" y="20" width="1.8" height="260.5" fill="#000"/>
<g fill="none" stroke-linecap="round" clip-path="url(#pc)"><g filter="url(#bl)">
<path d="M111.0,221.7L115.0,221.4" stroke="#38f800" stroke-width="9.9"/>
<path d="M115.0,221.4L121.2,221.2" stroke="#38f800" stroke-width="12.0"/>
<path d="M121.2,221.2L132.4,221.7" stroke="#38f800" stroke-width="13.1"/>
<path d="M132.4,221.7L143.5,222.3" stroke="#38f800" stroke-width="13.9"/>
<path d="M143.5,222.3L154.6,222.3" stroke="#38f800" stroke-width="14.1"/>
<path d="M154.6,222.3L165.7,221.2" stroke="#38f800" stroke-width="13.9"/>
<path d="M165.7,221.2L176.9,220.1" stroke="#38f800" stroke-width="13.7"/>
<path d="M176.9,220.1L188.0,218.5" stroke="#38f800" stroke-width="13.5"/>
<path d="M188.0,218.5L199.1,216.8" stroke="#38f800" stroke-width="13.0"/>
<path d="M199.1,216.8L210.2,215.0" stroke="#38f800" stroke-width="12.8"/>
<path d="M210.2,215.0L221.3,213.0" stroke="#38f800" stroke-width="12.8"/>
<path d="M221.3,213.0L232.5,211.2" stroke="#38f800" stroke-width="12.6"/>
<path d="M232.5,211.2L243.6,209.0" stroke="#38f800" stroke-width="12.1"/>
<path d="M243.6,209.0L254.7,207.4" stroke="#38f800" stroke-width="11.9"/>
<path d="M254.7,207.4L257.7,205.5" stroke="#38f800" stroke-width="11.4"/>
<path d="M257.7,205.5L269.0,202.2" stroke="#38f800" stroke-width="10.8"/>
<path d="M269.0,202.2L280.2,198.8" stroke="#38f800" stroke-width="10.5"/>
<path d="M280.2,198.8L291.5,196.0" stroke="#38f800" stroke-width="10.2"/>
<path d="M291.5,196.0L302.7,193.2" stroke="#38f800" stroke-width="9.6"/>
<path d="M302.7,193.2L310.6,191.3" stroke="#38f800" stroke-width="9.0"/>
<path d="M310.6,191.3L314.0,190.6" stroke="#38f800" stroke-width="6.8"/>
<path d="M314.0,190.6L316.5,190.8" stroke="#38f800" stroke-width="4.3"/>
<path d="M316.5,190.8L319.6,189.8" stroke="#38f800" stroke-width="4.7"/>
<path d="M319.6,189.8L325.2,188.1" stroke="#38f800" stroke-width="5.9"/>
<path d="M325.2,188.1L328.4,186.8" stroke="#38f800" stroke-width="5.0"/>
<path d="M334.0,181.7L339.8,178.6" stroke="#40f000" stroke-width="4.1"/>
<path d="M339.8,178.6L345.5,175.7" stroke="#40f000" stroke-width="4.5"/>
<path d="M345.5,175.7L347.5,174.7" stroke="#40f000" stroke-width="3.8"/>
<path d="M356.5,167.9L358.4,166.7" stroke="#38f800" stroke-width="2.7"/>
<path d="M359.0,173.5L361.4,171.8" stroke="#38f800" stroke-width="2.5"/>
<path d="M335.3,167.9L337.4,171.2" stroke="#38f800" stroke-width="1.7"/>
<path d="M107.0,222.1L111.4,217.2" stroke="#38f800" stroke-width="3.6"/>
<path d="M107.0,222.5L110.1,222.1" stroke="#38f800" stroke-width="4.3"/>
<path d="M87.4,262.4L93.7,262.4" stroke="#38f800" stroke-width="7.0"/>
<path d="M100.1,262.6L105.2,262.6" stroke="#38f800" stroke-width="4.3"/>
<path d="M118.6,153.1V155.7M121.3,154.9V156.9M122.6,154.4V158.0M125.3,156.4V158.7M128.0,154.6V159.7M132.0,153.5V160.3M134.6,154.8V160.7M136.0,151.1V161.0M137.3,152.1V160.7M138.6,153.2V161.0M141.3,155.2V161.6M144.0,152.5V161.9M145.3,153.5V161.4M146.6,154.6V161.8M153.3,152.9V161.3M154.6,150.7V161.1M157.3,152.1V160.3M160.0,147.3V159.6M161.3,150.5V159.7M162.6,151.1V159.8M164.0,146.4V159.3M165.3,150.4V159.2M166.6,147.3V158.6M169.3,148.5V157.6M172.0,146.0V157.5M174.6,146.3V157.1M177.3,147.4V156.3M178.6,142.5V155.9M180.0,144.4V155.3M181.3,143.1V154.9M182.6,143.4V154.4M190.6,137.0V151.9M192.0,138.7V151.8M193.3,141.7V150.8M194.6,136.7V150.6M196.0,136.5V150.5M197.3,133.7V149.9M198.6,133.6V149.2M199.9,133.5V148.8M202.6,139.3V148.2M205.3,133.0V147.3M206.6,134.4V147.1M207.9,131.5V146.5M209.3,128.7V145.8M211.9,128.2V145.0M213.3,132.9V144.6M217.3,132.1V143.4M218.6,126.5V143.2M221.3,127.7V141.9M222.6,127.9V141.5M227.9,121.2V139.3M230.6,126.9V139.1M231.9,125.1V138.1M234.6,123.8V137.2M235.9,120.8V136.6M237.3,122.7V136.4M242.6,119.8V134.4M243.9,121.5V133.8M245.3,123.0V132.8M247.9,120.6V132.2M249.3,122.7V131.9M251.9,119.5V130.5M253.3,122.2V130.3M254.6,120.0V129.1M258.6,118.3V127.7M259.9,116.3V127.0M261.3,119.7V127.1M262.6,118.8V126.6M265.3,113.8V125.4M266.6,116.3V124.8M267.9,115.3V124.0M269.3,118.4V123.8M270.6,115.7V122.6M278.6,112.5V119.8M285.3,110.6V116.6M286.6,113.1V115.9M287.9,108.5V115.1M289.3,110.2V113.9M291.9,109.7V113.1M294.6,107.5V111.2M295.9,101.5V111.2M297.3,105.7V110.2M299.9,104.7V108.5M302.6,105.0V107.3M303.9,101.0V106.6M305.3,100.9V105.1M306.6,101.0V104.9M307.9,97.6V103.6M309.3,100.2V103.4M310.6,97.7V102.1" stroke="#40f000" stroke-width="1.45" stroke-linecap="butt"/>
<path d="M120.0,153.8V156.3M124.0,155.7V158.2M126.6,154.7V159.2M129.3,156.3V160.2M130.6,154.7V160.2M133.3,151.9V160.8M140.0,156.3V161.8M142.6,156.2V161.8M148.0,149.7V161.1M149.3,152.3V161.1M150.6,155.1V161.3M152.0,153.3V161.0M156.0,153.9V160.5M158.6,152.3V160.4M168.0,145.4V158.6M170.6,147.1V157.9M173.3,145.2V157.3M176.0,148.0V156.4M184.0,145.4V153.9M185.3,143.7V153.4M186.6,145.1V153.6M188.0,139.3V153.0M189.3,138.3V152.7M201.3,139.4V148.7M203.9,136.2V147.9M210.6,132.4V145.6M214.6,128.8V144.5M215.9,133.5V144.1M219.9,130.7V142.2M223.9,128.6V140.8M225.3,128.7V140.6M226.6,124.6V140.4M229.3,123.7V139.0M233.3,125.6V138.2M238.6,121.2V136.0M239.9,121.7V135.4M241.3,122.4V134.5M246.6,124.2V132.7M250.6,122.3V131.3M255.9,116.7V128.7M257.3,118.8V128.0M263.9,117.4V125.6M271.9,111.1V122.2M273.3,112.6V121.9M274.6,111.4V121.4M275.9,113.8V120.5M277.3,111.9V119.7M279.9,112.7V118.5M281.3,109.2V117.8M282.6,112.1V117.7M283.9,107.7V117.0M290.6,106.2V113.2M293.3,107.3V112.3M298.6,105.7V109.2M301.3,104.7V107.5" stroke="#78f800" stroke-width="1.45" stroke-linecap="butt"/>
<path d="M122.6,152.9V154.3M125.3,150.7V155.2M130.6,146.5V150.7M132.0,149.2V151.0M137.3,145.7V147.8M138.6,148.9V150.5M140.0,152.2V155.8M145.3,149.6V151.4M146.6,153.0V154.4M149.3,148.7V151.3M150.6,152.8V154.7M152.0,141.2V145.6M153.3,150.5V152.1M156.0,151.1V153.8M157.3,140.7V142.3M158.6,150.1V151.8M160.0,137.5V141.2M161.3,135.0V138.8M162.6,141.9V146.1M164.0,144.5V146.1M165.3,142.3V145.0M166.6,139.2V141.3M168.0,141.9V144.6M169.3,137.8V142.1M170.6,135.1V137.1M172.0,135.0V139.1M173.3,131.6V133.2M174.6,142.2V145.4M176.0,145.1V148.0M176.0,133.7V137.1M177.3,143.1V146.8M177.3,142.4V146.1M178.6,136.6V139.3M178.6,138.9V140.2M180.0,138.5V141.8M181.3,128.9V132.3M182.6,128.9V132.2M184.0,130.7V133.2M184.0,139.8V142.1M185.3,135.9V139.3M186.6,137.8V141.7M186.6,139.1V143.0M188.0,126.0V130.3M188.0,125.3V129.0M189.3,132.2V134.7M189.3,132.5V136.8M190.6,131.1V133.6M190.6,114.7V118.8M192.0,129.0V130.7M192.0,131.4V135.7M193.3,137.3V139.4M193.3,131.8V134.2M194.6,132.5V135.5M194.6,120.0V122.4M196.0,129.5V133.4M196.0,126.1V129.2M197.3,131.6V133.3M198.6,131.9V133.6M198.6,128.3V130.1M199.9,128.4V131.3M201.3,129.9V133.4M201.3,121.5V123.3M202.6,132.1V135.4M202.6,119.8V124.0M203.9,131.7V134.2M203.9,130.5V133.2M205.3,116.8V121.3M205.3,127.3V130.8M206.6,122.6V125.9M206.6,119.8V123.4M207.9,128.1V129.7M207.9,120.1V123.2M209.3,111.1V114.7M209.3,121.8V126.0M210.6,120.2V122.4M210.6,111.6V113.5M211.9,114.6V118.4M211.9,120.4V123.2M213.3,123.4V125.7M213.3,128.0V131.3M214.6,122.8V126.8M214.6,124.4V125.8M215.9,126.0V128.6M215.9,117.6V119.0M217.3,109.6V113.0M217.3,122.5V126.4M218.6,106.8V109.9M218.6,113.5V116.4M219.9,121.4V125.8M219.9,123.7V126.5M221.3,116.9V118.4M221.3,115.0V117.6M222.6,115.0V117.0M222.6,124.9V127.7M223.9,124.6V127.6M223.9,124.3V127.8M225.3,120.9V125.2M225.3,119.3V120.9M226.6,98.7V100.1M226.6,117.1V121.0M227.9,110.7V113.4M227.9,112.8V116.6M229.3,103.9V105.3M229.3,117.5V121.3M230.6,123.8V125.1M230.6,119.6V122.5M231.9,121.3V123.9M231.9,117.4V119.9M233.3,115.2V117.0M233.3,116.4V118.1M234.6,116.2V119.0M234.6,117.1V119.2M235.9,101.9V106.3M235.9,111.2V114.3M237.3,113.0V116.0M237.3,113.3V117.6M238.6,117.0V120.2M239.9,109.7V112.1M239.9,106.6V109.0M241.3,113.9V118.1M241.3,112.9V115.5M242.6,113.2V114.9M242.6,96.6V99.1M243.9,113.1V117.4M243.9,115.2V116.8M245.3,101.5V105.9M245.3,103.9V107.2M246.6,111.2V114.0M246.6,118.6V121.5M247.9,108.6V110.6M247.9,111.6V113.6M249.3,119.2V121.1M249.3,109.1V113.3M250.6,117.9V121.7M250.6,118.7V120.6M251.9,114.1V118.5M251.9,114.1V118.0M253.3,106.8V109.7M253.3,107.8V110.1M254.6,116.9V118.3M254.6,113.0V116.8M255.9,111.2V115.4M257.3,95.2V98.5M258.6,107.1V110.7M258.6,100.5V104.2M259.9,104.7V109.1M259.9,111.5V115.4M261.3,112.5V114.1M262.6,112.0V114.6M262.6,107.1V111.1M263.9,113.6V117.1M263.9,111.4V114.0M265.3,103.0V104.9M266.6,109.4V112.0M266.6,113.5V115.5M267.9,111.8V113.5M267.9,91.6V95.9M269.3,111.1V114.6M269.3,104.6V106.5M270.6,111.7V113.7M270.6,106.9V110.8M271.9,98.2V100.4M271.9,102.4V105.3M273.3,108.0V112.0M273.3,105.2V108.0M274.6,87.6V91.8M274.6,102.6V106.7M275.9,108.3V112.1M277.3,98.0V102.1M278.6,109.0V112.3M278.6,105.0V109.2M279.9,106.9V108.8M281.3,104.2V106.8M281.3,105.1V107.6M282.6,100.2V102.8M282.6,97.2V101.6M283.9,99.5V103.8M285.3,105.6V109.2M285.3,96.1V99.8M286.6,103.7V108.0M286.6,98.9V100.5M287.9,92.5V96.7M287.9,98.3V101.4M289.3,100.5V104.0M289.3,104.9V109.1M290.6,95.6V99.7M290.6,103.2V104.9M291.9,106.1V108.3M291.9,105.2V109.2M294.6,100.0V102.5M295.9,98.0V101.0M297.3,98.0V100.8M298.6,102.2V104.6M299.9,100.4V104.7M301.3,96.2V98.2M302.6,97.7V101.0M303.9,87.5V91.4M305.3,91.5V95.4M306.6,99.6V100.9M307.9,90.7V94.7M310.6,92.2V96.2" stroke="#30e800" stroke-width="1.3" stroke-linecap="butt"/>
<path d="M176.0,157.0v1.9M165.3,156.4v2.1M164.0,153.1v2.8M157.3,154.4v2.5M152.0,156.1v2.2M157.3,155.6v2.5M169.3,156.4v2.7M156.0,155.2v2.8M140.0,155.3v2.3M156.0,152.6v1.9M170.6,156.4v3.0M172.0,156.4v2.7M145.3,155.5v2.8M172.0,153.4v2.6" stroke="#f0d800" stroke-width="1.3" stroke-linecap="butt"/>
<path d="M309.3,80.6v3.3M314.6,69.9v3.1M302.6,72.5v3.6M319.9,74.1v3.4M305.3,82.9v2.4M302.6,80.6v2.9M318.6,68.7v2.2M301.3,72.5v2.2M317.3,98.8v2.0M310.6,83.9v2.7M321.3,99.2v1.6M309.3,84.0v3.1M311.9,94.5v1.7M310.6,94.9v1.9M305.3,87.2v1.9M311.9,69.5v2.0M307.9,93.2v3.0M313.3,87.6v2.5M321.3,86.4v3.1M302.6,74.0v3.0M321.3,90.3v1.6M317.3,72.6v3.0M305.3,67.2v3.4M310.6,86.8v3.3M313.3,80.0v2.3" stroke="#1fd000" stroke-width="1.4" stroke-linecap="butt"/>
<path d="M144.0,86.4V93.5M149.3,86.2V92.1M153.3,86.6V92.2M157.3,85.4V91.1M158.6,82.1V90.4M168.0,83.9V88.5M169.3,81.2V87.4M177.3,78.2V84.9M180.0,78.7V83.4M182.6,76.6V82.5M185.3,76.3V82.4M192.0,73.7V79.2M197.3,71.4V77.6M201.3,67.1V76.2M202.6,67.6V75.5M203.9,68.4V74.7M207.9,64.6V73.3M221.3,60.3V68.6M222.6,59.8V68.0M223.9,60.5V66.5M227.9,59.1V64.9M229.3,57.0V63.7M230.6,57.8V64.1M235.9,53.4V57.5M237.3,53.5V57.2M251.9,47.7V52.2M257.3,45.7V49.4M258.6,46.1V49.0" stroke="#30e800" stroke-width="1.45" stroke-linecap="butt"/>
<path d="M140.0,89.2V93.3M141.3,87.1V93.8M146.6,85.9V93.5M150.6,87.4V92.7M152.0,83.9V91.1M162.6,84.4V89.9M172.0,82.7V86.5M184.0,78.7V82.4M186.6,77.5V82.2M188.0,76.9V81.1M193.3,71.2V78.8M198.6,71.7V77.1M209.3,66.6V72.6M213.3,63.7V71.6M217.3,63.6V69.6M231.9,55.3V62.7M233.3,55.7V62.5M239.9,49.0V57.1M247.9,46.0V53.8M249.3,47.5V52.6M250.6,46.6V52.7M254.6,47.3V50.0" stroke="#58f800" stroke-width="1.45" stroke-linecap="butt"/>
<path d="M142.6,88.8V93.4M145.3,87.7V93.1M154.6,85.8V91.3M156.0,85.2V90.9M160.0,84.8V90.6M164.0,81.0V89.0M165.3,83.4V88.9M166.6,81.5V87.5M170.6,82.6V87.3M176.0,79.3V85.4M181.3,76.1V83.9M190.6,72.6V80.1M194.6,73.7V78.4M199.9,70.4V77.2M205.3,68.4V74.3M206.6,68.3V73.6M210.6,64.4V71.7M211.9,64.7V70.8M215.9,60.8V69.3M218.6,63.3V69.1M225.3,60.6V66.0M234.6,52.4V60.0M238.6,51.8V56.7M241.3,51.0V56.7M242.6,51.1V55.3M243.9,50.2V54.9M246.6,49.3V53.3M253.3,46.8V50.7" stroke="#90f000" stroke-width="1.45" stroke-linecap="butt"/>
<path d="M162.6,82.2V85.0M253.3,43.6V45.2M210.6,61.0V62.5M207.9,59.1V63.5M245.3,45.9V48.4M207.9,67.9V70.2M221.3,59.6V61.7M158.6,84.6V87.1M144.0,86.1V91.0M193.3,73.8V75.4M239.9,46.3V49.9M215.9,61.5V62.9M193.3,72.8V76.0M165.3,84.5V86.5M168.0,80.8V84.9M193.3,72.7V76.4M217.3,58.9V63.1M243.9,47.2V48.7M190.6,76.3V77.6M214.6,59.2V61.3M180.0,79.4V82.7M197.3,68.0V71.1M238.6,43.3V45.8M190.6,73.8V76.7M233.3,54.1V57.4M206.6,67.5V68.7M250.6,41.6V45.4M177.3,71.1V73.4M173.3,80.5V82.7M154.6,80.8V84.4M247.9,47.1V50.5M181.3,77.5V79.3M257.3,40.7V43.2M166.6,80.5V83.3M150.6,87.4V89.6M239.9,50.5V53.7M193.3,74.9V77.0M209.3,67.1V69.3M144.0,86.5V91.1M234.6,52.3V55.7M230.6,54.3V57.7M185.3,75.3V77.1M233.3,53.1V56.7M231.9,54.0V58.9M210.6,64.9V67.2" stroke="#25e000" stroke-width="1.3" stroke-linecap="butt"/>
<path d="M219.9,60.1V62.2M169.3,74.7V76.0M177.3,74.2V78.5M250.6,48.9V51.5M190.6,70.1V72.5M211.9,63.8V68.9M210.6,60.1V62.7M221.3,51.5V55.4M238.6,51.9V54.4M188.0,72.7V75.2M237.3,46.9V51.1M242.6,51.4V54.2M178.6,76.7V78.2M209.3,62.2V64.8M205.3,65.5V68.1M186.6,73.7V76.6M246.6,49.3V52.8M210.6,61.6V62.9M198.6,66.2V70.4M215.9,61.7V63.8M209.3,63.4V64.9M245.3,41.8V44.2M233.3,50.6V55.1M198.6,69.4V71.6M146.6,78.1V80.6M150.6,85.4V88.3M153.3,85.5V89.0M223.9,53.8V57.1M258.6,43.6V45.5M209.3,65.4V66.9M258.6,40.4V42.1M249.3,45.9V48.6M166.6,80.7V82.9M140.0,84.7V87.1" stroke="#50f800" stroke-width="1.3" stroke-linecap="butt"/>
<path d="M162.6,84.3V86.2M176.0,79.1V82.2M144.0,88.2V91.1M180.0,79.7V82.7M211.9,66.4V68.4M245.3,50.8V53.2M150.6,84.4V88.2M238.6,51.0V55.6M140.0,86.7V89.5M257.3,42.4V46.8M238.6,51.3V56.3M239.9,51.0V53.8M172.0,82.5V85.0M218.6,61.4V64.5M199.9,67.9V72.0M140.0,89.1V91.5M206.6,68.9V70.9M243.9,48.5V52.4M182.6,78.6V82.1M192.0,71.1V77.2M207.9,66.3V68.5M146.6,88.0V90.2M241.3,50.9V53.4M148.0,85.4V88.4M186.6,75.5V79.7M152.0,83.9V89.7M247.9,47.0V50.7M249.3,49.2V51.3M255.9,47.3V49.3M210.6,64.5V69.2M247.9,50.2V52.5" stroke="#a8f000" stroke-width="1.3" stroke-linecap="butt"/>
<path d="M258.6,30.6v3.7M271.9,31.1v3.5M275.9,37.2v2.1M271.9,35.1v3.6M271.9,45.6v3.9M281.3,33.1v2.4M273.3,44.8v3.0M262.6,34.7v3.1" stroke="#1fd000" stroke-width="1.4" stroke-linecap="butt"/>
<path d="M120.8,20.0V54.0" stroke="#60c000" stroke-width="1.3" stroke-linecap="butt"/>
<path d="M120.8,56.0V60.0" stroke="#40b000" stroke-width="1.3" stroke-linecap="butt"/>
<path d="M120.8,62.0V66.0" stroke="#40b000" stroke-width="1.3" stroke-linecap="butt"/>
<path d="M236.7,22.0V27.7" stroke="#38b800" stroke-width="1.3" stroke-linecap="butt"/>
<path d="M236.7,40.0V43.7" stroke="#38b800" stroke-width="1.3" stroke-linecap="butt"/>
<path d="M236.7,49.0V53.8" stroke="#38b800" stroke-width="1.3" stroke-linecap="butt"/>
<path d="M236.7,58.0V62.1" stroke="#38b800" stroke-width="1.3" stroke-linecap="butt"/>
<path d="M236.7,67.0V70.9" stroke="#38b800" stroke-width="1.3" stroke-linecap="butt"/>
<path d="M236.7,85.0V91.7" stroke="#38b800" stroke-width="1.3" stroke-linecap="butt"/>
<path d="M236.7,94.0V98.4" stroke="#38b800" stroke-width="1.3" stroke-linecap="butt"/>
<path d="M236.7,103.0V107.8" stroke="#38b800" stroke-width="1.3" stroke-linecap="butt"/>
<path d="M236.7,121.0V126.0" stroke="#38b800" stroke-width="1.3" stroke-linecap="butt"/>
<path d="M236.7,130.0V134.7" stroke="#38b800" stroke-width="1.3" stroke-linecap="butt"/>
<path d="M236.7,139.0V145.8" stroke="#38b800" stroke-width="1.3" stroke-linecap="butt"/>
<path d="M236.7,148.0V153.8" stroke="#38b800" stroke-width="1.3" stroke-linecap="butt"/>
<path d="M236.7,157.0V160.4" stroke="#38b800" stroke-width="1.3" stroke-linecap="butt"/>
<path d="M236.7,175.0V179.1" stroke="#38b800" stroke-width="1.3" stroke-linecap="butt"/>
<path d="M236.7,211.0V215.7" stroke="#38b800" stroke-width="1.3" stroke-linecap="butt"/>
<path d="M236.7,220.0V226.8" stroke="#38b800" stroke-width="1.3" stroke-linecap="butt"/>
<path d="M236.7,229.0V235.1" stroke="#38b800" stroke-width="1.3" stroke-linecap="butt"/>
<path d="M236.7,238.0V242.8" stroke="#38b800" stroke-width="1.3" stroke-linecap="butt"/>
<path d="M236.7,247.0V251.6" stroke="#38b800" stroke-width="1.3" stroke-linecap="butt"/>
<path d="M236.7,256.0V260.8" stroke="#38b800" stroke-width="1.3" stroke-linecap="butt"/>
<path d="M236.7,265.0V269.2" stroke="#38b800" stroke-width="1.3" stroke-linecap="butt"/>
<path d="M236.7,274.0V278.6" stroke="#38b800" stroke-width="1.3" stroke-linecap="butt"/>
<path d="M236.7,30.0V50.0" stroke="#70c000" stroke-width="1.3" stroke-linecap="butt"/>
<path d="M236.7,70.0V83.0" stroke="#70c000" stroke-width="1.3" stroke-linecap="butt"/>
<path d="M236.7,117.0V145.0" stroke="#60c000" stroke-width="1.3" stroke-linecap="butt"/>
<path d="M236.7,157.0V178.0" stroke="#70c000" stroke-width="1.3" stroke-linecap="butt"/>
<path d="M236.7,262.0V276.0" stroke="#50c000" stroke-width="1.3" stroke-linecap="butt"/>
<path d="M113.2,109.5V125.0" stroke="#2a9000" stroke-width="1.3" stroke-linecap="butt"/>
<path d="M244.7,228.0V239.0" stroke="#30b000" stroke-width="1.3" stroke-linecap="butt"/>
<path d="M97.9,212.0V216.0" stroke="#30c000" stroke-width="1.3" stroke-linecap="butt"/>
<path d="M97.9,220.0V224.0" stroke="#30c000" stroke-width="1.3" stroke-linecap="butt"/>
<path d="M97.9,228.0V232.0" stroke="#30c000" stroke-width="1.3" stroke-linecap="butt"/>
<path d="M97.9,236.0V240.0" stroke="#30c000" stroke-width="1.3" stroke-linecap="butt"/>
<path d="M97.9,244.0V248.0" stroke="#30c000" stroke-width="1.3" stroke-linecap="butt"/>
<path d="M97.9,252.0V256.0" stroke="#30c000" stroke-width="1.3" stroke-linecap="butt"/>
<path d="M97.9,260.0V264.0" stroke="#30c000" stroke-width="1.3" stroke-linecap="butt"/>
<path d="M97.9,268.0V272.0" stroke="#30c000" stroke-width="1.3" stroke-linecap="butt"/>
<path d="M97.9,276.0V280.0" stroke="#30c000" stroke-width="1.3" stroke-linecap="butt"/>
<path d="M101.7,225.0V250.0" stroke="#30c000" stroke-width="1.3" stroke-linecap="butt"/>
<path d="M101.7,262.0V280.0" stroke="#30c000" stroke-width="1.3" stroke-linecap="butt"/>
<path d="M399.2,44.5V52.0" stroke="#50c000" stroke-width="1.3" stroke-linecap="butt"/>
<path d="M399.2,55.0V58.0" stroke="#30c000" stroke-width="1.3" stroke-linecap="butt"/>
<path d="M399.2,60.0V63.0" stroke="#30c000" stroke-width="1.3" stroke-linecap="butt"/>
<path d="M399.2,65.0V68.0" stroke="#30c000" stroke-width="1.3" stroke-linecap="butt"/>
<path d="M399.2,70.0V73.0" stroke="#30c000" stroke-width="1.3" stroke-linecap="butt"/>
<path d="M394.3,82.0V85.0" stroke="#30c000" stroke-width="1.3" stroke-linecap="butt"/>
<path d="M394.3,110.0V120.0" stroke="#30c000" stroke-width="1.3" stroke-linecap="butt"/>
<path d="M394.3,150.0V156.0" stroke="#30c000" stroke-width="1.3" stroke-linecap="butt"/>
<path d="M394.3,178.0V190.0" stroke="#30c000" stroke-width="1.3" stroke-linecap="butt"/>
<path d="M394.3,208.0V222.0" stroke="#30c000" stroke-width="1.3" stroke-linecap="butt"/>
<path d="M394.3,244.0V258.0" stroke="#30c000" stroke-width="1.3" stroke-linecap="butt"/>
<path d="M394.3,273.0V280.0" stroke="#30c000" stroke-width="1.3" stroke-linecap="butt"/>
<path d="M311.5,150.0V156.0" stroke="#2cb000" stroke-width="1.3" stroke-linecap="butt"/>
<path d="M311.5,165.0V168.0" stroke="#2cb000" stroke-width="1.3" stroke-linecap="butt"/>
<path d="M311.5,178.0V186.0" stroke="#2cb000" stroke-width="1.3" stroke-linecap="butt"/>
<path d="M311.5,245.0V249.0" stroke="#2cb000" stroke-width="1.3" stroke-linecap="butt"/>
<path d="M311.5,273.0V276.0" stroke="#2cb000" stroke-width="1.3" stroke-linecap="butt"/>
<path d="M311.5,32.0V36.0" stroke="#2cb000" stroke-width="1.3" stroke-linecap="butt"/>
<path d="M311.5,60.0V66.0" stroke="#2cb000" stroke-width="1.3" stroke-linecap="butt"/>
<path d="M311.5,105.0V108.0" stroke="#2cb000" stroke-width="1.3" stroke-linecap="butt"/>
<path d="M413.5,30.0V33.0" stroke="#2cc000" stroke-width="1.3" stroke-linecap="butt"/>
<path d="M413.5,40.0V43.0" stroke="#2cc000" stroke-width="1.3" stroke-linecap="butt"/>
<path d="M413.5,60.0V62.0" stroke="#2cc000" stroke-width="1.3" stroke-linecap="butt"/>
<path d="M414.8,80.0V84.0" stroke="#2cc000" stroke-width="1.3" stroke-linecap="butt"/>
<path d="M416.1,91.0V97.0" stroke="#2cc000" stroke-width="1.3" stroke-linecap="butt"/>
<path d="M416.1,110.0V114.0" stroke="#2cc000" stroke-width="1.3" stroke-linecap="butt"/>
<path d="M416.1,118.0V126.0" stroke="#2cc000" stroke-width="1.3" stroke-linecap="butt"/>
<path d="M413.5,132.0V136.0" stroke="#2cc000" stroke-width="1.3" stroke-linecap="butt"/>
<path d="M413.5,140.0V145.0" stroke="#2cc000" stroke-width="1.3" stroke-linecap="butt"/>
<path d="M413.5,152.0V156.0" stroke="#2cc000" stroke-width="1.3" stroke-linecap="butt"/>
<path d="M413.5,160.0V166.0" stroke="#2cc000" stroke-width="1.3" stroke-linecap="butt"/>
<path d="M414.8,172.0V176.0" stroke="#2cc000" stroke-width="1.3" stroke-linecap="butt"/>
<path d="M413.5,183.0V186.0" stroke="#2cc000" stroke-width="1.3" stroke-linecap="butt"/>
<path d="M416.1,196.0V199.0" stroke="#2cc000" stroke-width="1.3" stroke-linecap="butt"/>
<path d="M416.1,205.0V211.0" stroke="#2cc000" stroke-width="1.3" stroke-linecap="butt"/>
<path d="M414.8,218.0V223.0" stroke="#2cc000" stroke-width="1.3" stroke-linecap="butt"/>
<path d="M414.8,244.0V250.0" stroke="#2cc000" stroke-width="1.3" stroke-linecap="butt"/>
<path d="M413.5,255.0V258.0" stroke="#2cc000" stroke-width="1.3" stroke-linecap="butt"/>
<path d="M414.8,274.0V278.0" stroke="#2cc000" stroke-width="1.3" stroke-linecap="butt"/>
<path d="M298.5,218.0V227.0" stroke="#30c000" stroke-width="1.3" stroke-linecap="butt"/>
<path d="M355.9,222.0v2.7M331.9,149.4v3.5M134.6,208.7v2.8M377.2,122.8v1.7M243.9,255.8v1.9M415.9,274.0v2.7M68.0,115.8v2.1M197.3,65.0v3.3M136.0,173.7v2.0M391.9,250.7v2.6M215.9,177.5v2.2M386.6,181.5v2.6M397.2,102.7v2.7M353.2,77.0v3.3M174.6,42.4v2.4M181.3,169.8v2.8M137.3,27.4v1.7M322.6,85.1v3.0M331.9,111.8v2.4M263.9,91.4v3.4M411.9,192.6v2.3M407.9,70.9v2.1M457.2,46.6v2.3M74.6,244.5v2.1M78.6,274.5v2.1M132.0,272.1v3.2M198.6,274.2v2.2M457.2,85.9v3.5M293.3,196.9v2.5M196.0,130.2v3.3M234.6,100.0v1.5M409.2,40.4v2.1M305.3,96.4v2.4M261.3,141.4v3.3M401.2,110.3v2.9M153.3,112.5v3.1M319.9,180.3v2.8M82.6,95.3v1.8M265.3,259.2v1.9M116.0,64.8v2.8M457.2,23.6v2.6M323.9,33.2v1.6M168.0,225.0v3.4M150.6,260.0v3.1M401.2,32.7v2.5M122.6,253.6v2.1M258.6,48.8v2.3M80.0,202.6v2.1M334.6,203.8v1.6M104.0,210.2v2.5M385.2,132.8v3.3M164.0,36.5v2.8M261.3,219.8v3.0M419.9,179.9v2.0M161.3,45.9v2.9M161.3,157.4v3.5M303.9,220.8v1.7M90.6,157.0v2.7M333.2,93.9v3.2M279.9,205.6v2.7M289.3,26.4v3.4M370.6,175.0v2.5M323.9,188.5v2.0M120.0,245.8v3.0M81.3,212.3v2.7M161.3,244.3v2.1M345.2,59.6v1.8M113.3,138.8v3.0M117.3,209.5v1.5M299.9,237.1v1.9M345.2,159.3v1.8M189.3,104.6v2.2M98.6,232.0v3.5M359.9,196.3v1.8M104.0,104.7v3.3M439.9,99.2v2.2M411.9,238.6v3.0M207.9,223.2v2.5M322.6,121.7v3.1M314.6,45.4v2.7M389.2,120.1v1.9M94.6,87.3v1.9M355.9,230.5v2.7M116.0,114.9v2.6M297.3,250.0v3.1M419.9,55.4v2.2M144.0,198.1v1.5M389.2,127.5v2.9M92.0,229.3v3.1M174.6,127.1v3.2M349.2,111.5v2.2M410.6,127.9v2.4M94.6,108.0v2.8M89.3,186.3v3.4M132.0,113.6v1.7M96.0,47.7v1.8M379.9,270.4v1.6M114.6,149.6v2.6M227.9,254.1v2.5M219.9,159.1v2.4" stroke="#1fd000" stroke-width="1.4" stroke-linecap="butt"/>
<path d="M98.6,274.9v2.2M96.0,179.6v3.3M66.6,178.6v3.8M118.6,219.4v4.0M105.3,188.6v3.9M73.3,172.2v4.4M76.0,182.2v3.9M108.0,153.6v3.9M74.6,164.7v2.4M66.6,185.7v3.0M80.0,264.8v3.6M80.0,235.7v2.0M77.3,236.5v3.3M102.6,162.9v2.2M69.3,204.6v3.3M78.6,164.3v4.0M92.0,240.6v4.6M89.3,174.8v4.2M108.0,267.7v4.9M85.3,150.8v2.6M88.0,222.4v3.3M110.6,152.1v2.2M102.6,256.5v3.0M85.3,173.3v4.7M92.0,244.7v3.8M100.0,171.2v4.7M104.0,273.2v4.1M66.6,231.8v4.3M113.3,257.1v2.8M69.3,261.8v4.4" stroke="#1fd000" stroke-width="1.4" stroke-linecap="butt"/>
<path d="M111.0,221.7L115.0,221.4" stroke="#f0e000" stroke-width="7.9"/>
<path d="M115.0,221.4L121.2,221.2" stroke="#f0e000" stroke-width="10.0"/>
<path d="M121.2,221.2L132.4,221.7" stroke="#f0e000" stroke-width="11.1"/>
<path d="M132.4,221.7L143.5,222.3" stroke="#f0e000" stroke-width="11.9"/>
<path d="M143.5,222.3L154.6,222.3" stroke="#f0e000" stroke-width="12.1"/>
<path d="M154.6,222.3L165.7,221.2" stroke="#f0e000" stroke-width="11.9"/>
<path d="M165.7,221.2L176.9,220.1" stroke="#f0e000" stroke-width="11.7"/>
<path d="M176.9,220.1L188.0,218.5" stroke="#f0e000" stroke-width="11.5"/>
<path d="M188.0,218.5L199.1,216.8" stroke="#f0e000" stroke-width="11.0"/>
<path d="M199.1,216.8L210.2,215.0" stroke="#f0e000" stroke-width="10.8"/>
<path d="M210.2,215.0L221.3,213.0" stroke="#f0e000" stroke-width="10.8"/>
<path d="M221.3,213.0L232.5,211.2" stroke="#f0e000" stroke-width="10.6"/>
<path d="M232.5,211.2L243.6,209.0" stroke="#f0e000" stroke-width="10.1"/>
<path d="M243.6,209.0L254.7,207.4" stroke="#f0e000" stroke-width="9.9"/>
<path d="M254.7,207.4L257.7,205.5" stroke="#f0e000" stroke-width="9.4"/>
<path d="M257.7,205.5L269.0,202.2" stroke="#f0e000" stroke-width="8.8"/>
<path d="M269.0,202.2L280.2,198.8" stroke="#f0e000" stroke-width="8.5"/>
<path d="M280.2,198.8L291.5,196.0" stroke="#f0e000" stroke-width="8.2"/>
<path d="M291.5,196.0L302.7,193.2" stroke="#f0e000" stroke-width="7.6"/>
<path d="M302.7,193.2L310.6,191.3" stroke="#f0e000" stroke-width="7.0"/>
<path d="M310.6,191.3L314.0,190.6" stroke="#f0e000" stroke-width="4.8"/>
<path d="M314.0,190.6L316.5,190.8" stroke="#f0e000" stroke-width="2.3"/>
<path d="M316.5,190.8L319.6,189.8" stroke="#f0e000" stroke-width="2.7"/>
<path d="M319.6,189.8L325.2,188.1" stroke="#f0e000" stroke-width="3.9"/>
<path d="M325.2,188.1L328.4,186.8" stroke="#f0e000" stroke-width="3.0"/>
<path d="M337.6,180.0L344.3,176.4" stroke="#90f000" stroke-width="1.4" fill="none"/>
<path d="M87.4,262.4L93.7,262.4" stroke="#f0e000" stroke-width="5.0"/>
<path d="M130.6,158.6V159.1M132.0,156.9V159.2M133.3,157.3V159.7M134.6,157.0V159.6M136.0,157.1V159.9M137.3,156.7V159.6M138.6,156.4V159.9M140.0,157.8V160.7M141.3,157.1V160.5M142.6,158.1V160.7M144.0,156.3V160.8M145.3,157.3V160.3M146.6,157.3V160.7M148.0,156.7V160.0M149.3,156.6V160.0M150.6,157.8V160.2M152.0,156.3V159.9M153.3,156.1V160.2M154.6,156.1V160.0M156.0,155.9V159.4M157.3,155.4V159.2M158.6,155.5V159.3M160.0,153.3V158.5M161.3,154.6V158.6M162.6,153.9V158.7M164.0,153.7V158.2M165.3,152.5V158.1M166.6,153.9V157.5M168.0,152.9V157.5M169.3,151.4V156.5M170.6,151.7V156.8M172.0,151.9V156.4M173.3,151.6V156.2M174.6,151.3V156.0M176.0,151.2V155.3M177.3,150.2V155.2M178.6,149.8V154.8M180.0,148.0V154.2M181.3,147.8V153.8M182.6,147.4V153.3M184.0,148.0V152.8M185.3,147.0V152.3M186.6,147.6V152.5M188.0,145.5V151.9M189.3,143.4V151.6M190.6,143.8V150.8M192.0,144.1V150.7M193.3,144.6V149.7M194.6,142.0V149.5M196.0,141.9V149.4M197.3,138.7V148.8M198.6,138.4V148.1M199.9,139.9V147.7M201.3,141.5V147.6M202.6,141.5V147.1M203.9,138.5V146.8M205.3,138.4V146.2M206.6,138.1V146.0M207.9,139.1V145.4M209.3,134.1V144.7M210.6,137.1V144.5M211.9,135.9V143.9M213.3,135.9V143.5M214.6,136.5V143.4M215.9,136.5V143.0M217.3,136.3V142.3M218.6,135.8V142.1M219.9,134.8V141.1M221.3,134.3V140.8M222.6,134.1V140.4M223.9,133.5V139.7M225.3,133.4V139.5M226.6,131.4V139.3M227.9,129.0V138.2M229.3,132.0V137.9M230.6,130.3V138.0M231.9,129.6V137.0M233.3,129.5V137.1M234.6,130.6V136.1M235.9,127.0V135.5M237.3,129.2V135.3M238.6,128.6V134.9M239.9,127.4V134.3M241.3,126.4V133.4M242.6,125.8V133.3M243.9,126.6V132.7M245.3,127.5V131.7M246.6,126.9V131.6M247.9,126.1V131.1M249.3,125.6V130.8M250.6,124.8V130.2M251.9,124.8V129.4M253.3,124.4V129.2M254.6,123.6V128.0M255.9,123.9V127.6M257.3,124.4V126.9M258.6,122.0V126.6M259.9,121.4V125.9M261.3,122.4V126.0M262.6,121.9V125.5M263.9,120.8V124.5M265.3,122.1V124.3M266.6,120.5V123.7M267.9,120.2V122.9M269.3,120.9V122.7M270.6,119.0V121.5M271.9,118.9V121.1M273.3,119.3V120.8M274.6,118.8V120.3M275.9,117.2V119.4M277.3,116.2V118.6M278.6,116.5V118.7M279.9,116.1V117.4M281.3,114.6V116.7M282.6,116.7V116.6" stroke="#f0d800" stroke-width="1.45" stroke-linecap="butt"/>
<path d="M192.3,77.6L200.1,74.0L210.0,70.1" stroke="#e8c000" stroke-width="2.2" fill="none"/>
<path d="M219.8,66.6L225.7,63.8" stroke="#e0d000" stroke-width="1.5" fill="none"/>
<path d="M399.2,20.0V44.5" stroke="#e0a000" stroke-width="1.3" stroke-linecap="butt"/>
<path d="M171.3,277.0V280.5" stroke="#d01000" stroke-width="1.3" stroke-linecap="butt"/>
<path d="M111.0,221.7L115.0,221.4" stroke="#ff0800" stroke-width="6.9"/>
<path d="M115.0,221.4L121.2,221.2" stroke="#ff0800" stroke-width="9.0"/>
<path d="M121.2,221.2L132.4,221.7" stroke="#ff0800" stroke-width="10.1"/>
<path d="M132.4,221.7L143.5,222.3" stroke="#ff0800" stroke-width="10.9"/>
<path d="M143.5,222.3L154.6,222.3" stroke="#ff0800" stroke-width="11.1"/>
<path d="M154.6,222.3L165.7,221.2" stroke="#ff0800" stroke-width="10.9"/>
<path d="M165.7,221.2L176.9,220.1" stroke="#ff0800" stroke-width="10.7"/>
<path d="M176.9,220.1L188.0,218.5" stroke="#ff0800" stroke-width="10.5"/>
<path d="M188.0,218.5L199.1,216.8" stroke="#ff0800" stroke-width="10.0"/>
<path d="M199.1,216.8L210.2,215.0" stroke="#ff0800" stroke-width="9.8"/>
<path d="M210.2,215.0L221.3,213.0" stroke="#ff0800" stroke-width="9.8"/>
<path d="M221.3,213.0L232.5,211.2" stroke="#ff0800" stroke-width="9.6"/>
<path d="M232.5,211.2L243.6,209.0" stroke="#ff0800" stroke-width="9.1"/>
<path d="M243.6,209.0L254.7,207.4" stroke="#ff0800" stroke-width="8.9"/>
<path d="M254.7,207.4L257.7,205.5" stroke="#ff0800" stroke-width="8.4"/>
<path d="M257.7,205.5L269.0,202.2" stroke="#ff0800" stroke-width="7.8"/>
<path d="M269.0,202.2L280.2,198.8" stroke="#ff0800" stroke-width="7.5"/>
<path d="M280.2,198.8L291.5,196.0" stroke="#ff0800" stroke-width="7.2"/>
<path d="M291.5,196.0L302.7,193.2" stroke="#ff0800" stroke-width="6.6"/>
<path d="M302.7,193.2L310.6,191.3" stroke="#ff0800" stroke-width="6.0"/>
<path d="M310.6,191.3L314.0,190.6" stroke="#ff0800" stroke-width="3.8"/>
<path d="M314.0,190.6L316.5,190.8" stroke="#ff0800" stroke-width="1.3"/>
<path d="M316.5,190.8L319.6,189.8" stroke="#ff0800" stroke-width="1.7"/>
<path d="M319.6,189.8L325.2,188.1" stroke="#ff0800" stroke-width="2.9"/>
<path d="M325.2,188.1L328.4,186.8" stroke="#ff0800" stroke-width="2.0"/>
<path d="M87.4,262.4L93.7,262.4" stroke="#ff0800" stroke-width="2.0"/>
<path d="M132.0,159.0V159.0M133.3,159.3V159.5M134.6,158.6V159.4M136.0,159.1V159.7M137.3,157.9V159.4M138.6,157.8V159.7M140.0,159.6V160.5M141.3,159.2V160.3M142.6,159.3V160.5M144.0,158.3V160.6M145.3,158.8V160.1M146.6,158.9V160.5M148.0,158.4V159.8M149.3,157.7V159.8M150.6,158.6V160.0M152.0,157.9V159.7M153.3,157.7V160.0M154.6,157.6V159.8M156.0,157.7V159.2M157.3,156.5V159.0M158.6,157.1V159.1M160.0,155.0V158.3M161.3,156.1V158.4M162.6,155.1V158.5M164.0,154.6V158.0M165.3,154.2V157.9M166.6,155.5V157.3M168.0,154.7V157.3M169.3,153.4V156.3M170.6,153.9V156.6M172.0,153.7V156.2M173.3,152.5V156.0M174.6,152.4V155.8M176.0,152.8V155.1M177.3,151.9V155.0M178.6,151.6V154.6M180.0,149.3V154.0M181.3,149.8V153.6M182.6,148.3V153.1M184.0,149.5V152.6M185.3,148.0V152.1M186.6,148.6V152.3M188.0,147.5V151.7M189.3,145.2V151.4M190.6,145.8V150.6M192.0,145.7V150.5M193.3,145.7V149.5M194.6,142.9V149.3M196.0,143.2V149.2M197.3,140.8V148.6M198.6,140.2V147.9M199.9,140.8V147.5M201.3,143.0V147.4M202.6,142.5V146.9M203.9,140.6V146.6M205.3,140.4V146.0M206.6,139.0V145.8M207.9,141.0V145.2M209.3,136.3V144.5M210.6,138.5V144.3M211.9,137.3V143.7M213.3,137.1V143.3M214.6,138.1V143.2M215.9,137.8V142.8M217.3,137.3V142.1M218.6,137.0V141.9M219.9,135.7V140.9M221.3,135.4V140.6M222.6,135.7V140.2M223.9,134.8V139.5M225.3,134.6V139.3M226.6,133.6V139.1M227.9,131.2V138.0M229.3,133.7V137.7M230.6,132.4V137.8M231.9,130.5V136.8M233.3,131.0V136.9M234.6,132.4V135.9M235.9,129.1V135.3M237.3,131.0V135.1M238.6,130.1V134.7M239.9,129.5V134.1M241.3,128.1V133.2M242.6,127.8V133.1M243.9,127.7V132.5M245.3,129.0V131.5M246.6,128.5V131.4M247.9,128.1V130.9M249.3,127.1V130.6M250.6,126.8V130.0M251.9,125.6V129.2M253.3,126.5V129.0M254.6,124.6V127.8M255.9,125.6V127.4M257.3,125.3V126.7M258.6,123.8V126.4M259.9,123.6V125.7M261.3,124.4V125.8M262.6,123.7V125.3M263.9,122.5V124.3M265.3,123.3V124.1M266.6,122.3V123.5M267.9,121.8V122.7M269.3,121.9V122.5M270.6,120.3V121.3M271.9,120.4V120.9M273.3,120.2V120.6M274.6,119.9V120.1M275.9,119.1V119.2M277.3,118.2V118.4M278.6,118.4V118.5M279.9,117.1V117.2M281.3,116.7V116.5" stroke="#ff0800" stroke-width="1.45" stroke-linecap="butt"/>
<path d="M258.9,201.1V209.3" stroke="#501000" stroke-width="0.8" stroke-linecap="butt"/>
<path d="M263.4,199.8V207.9" stroke="#501000" stroke-width="0.8" stroke-linecap="butt"/>
<path d="M295.4,191.5V198.5" stroke="#501000" stroke-width="0.8" stroke-linecap="butt"/>
<path d="M212.9,209.5V219.5" stroke="#b03000" stroke-width="0.8" stroke-linecap="butt"/>
<path d="M238.0,205.4V214.7" stroke="#c0a000" stroke-width="0.8" stroke-linecap="butt"/>
<path d="M259.2,201.0V209.2" stroke="#701000" stroke-width="0.8" stroke-linecap="butt"/>
</g></g>
<rect x="57.5" y="239.6" width="6.5" height="1.2" fill="#eee"/>
<rect x="57.5" y="184.4" width="6.5" height="1.2" fill="#eee"/>
<rect x="57.5" y="129.2" width="6.5" height="1.2" fill="#eee"/>
<rect x="57.5" y="74.0" width="6.5" height="1.2" fill="#eee"/>
<rect x="64.5" y="289.2" width="1.2" height="5" fill="#eee"/>
<rect x="119.4" y="289.2" width="1.2" height="5" fill="#eee"/>
<rect x="188.0" y="289.2" width="1.2" height="5" fill="#eee"/>
<rect x="256.6" y="289.2" width="1.2" height="5" fill="#eee"/>
<rect x="325.2" y="289.2" width="1.2" height="5" fill="#eee"/>
<rect x="393.8" y="289.2" width="1.2" height="5" fill="#eee"/>
<text class="ax" x="48" y="306.4" text-anchor="end">0</text>
<text class="ax" x="48" y="252.4" text-anchor="end">2</text>
<text class="ax" x="48" y="197.2" text-anchor="end">4</text>
<text class="ax" x="48" y="142.0" text-anchor="end">6</text>
<text class="ax" x="48" y="86.8" text-anchor="end">8</text>
<text class="ax" x="48" y="31.6" text-anchor="end">10</text>
<text class="ax" x="63.8" y="309.8">1</text>
<text class="ax" x="118.7" y="309.8">5</text>
<text class="ax" x="187.3" y="309.8">10</text>
<text class="ax" x="255.9" y="309.8">15</text>
<text class="ax" x="324.5" y="309.8">20</text>
<text class="ax" x="393.1" y="309.8">25</text>
<text class="ax" x="462.6" y="309.8">30</text>
<text class="ax" x="204" y="328.6">FREQUENCY [MHz]</text>
<text class="ax" transform="translate(33,232.5) rotate(-90) scale(0.866,1.16)">HEIGHT [100km]</text>
<text class="st" x="19.6" y="346.3">Kokubunji 2025/11/12 12:50:00 (JST=GMT+9)</text>
<g fill="none" stroke="#222" stroke-width="1.1">
<circle cx="437.1" cy="325.8" r="13.6"/>
<path d="M425.70000000000005,318.8 L437.1,325.8 L441.0,318.2"/>
<path d="M437.1,311.4 v1.8 M437.1,338.40000000000003 v1.8 M422.7,325.8 h1.8 M449.70000000000005,325.8 h1.8"/>
</g>
</g>
<g transform="translate(0,363)">
<rect x="57.5" y="20" width="405.5" height="274.2" fill="#000"/>
<rect x="64" y="20" width="399" height="260.5" fill="#151515"/>
<rect x="64" y="20" width="399" height="260.5" fill="url(#noise)"/>
<g fill="none" stroke-linecap="round" clip-path="url(#pc)"><g filter="url(#bl)">
<path d="M104.4,230.8L109.5,225.7" stroke="#38f800" stroke-width="6.3"/>
<path d="M109.5,225.7L115.1,221.4" stroke="#38f800" stroke-width="8.3"/>
<path d="M115.1,221.4L121.7,219.4" stroke="#38f800" stroke-width="10.8"/>
<path d="M121.7,219.4L132.9,219.0" stroke="#38f800" stroke-width="13.2"/>
<path d="M132.9,219.0L144.0,220.1" stroke="#38f800" stroke-width="14.3"/>
<path d="M144.0,220.1L155.1,221.2" stroke="#38f800" stroke-width="14.3"/>
<path d="M155.1,221.2L166.2,221.2" stroke="#38f800" stroke-width="13.9"/>
<path d="M166.2,221.2L177.4,221.2" stroke="#38f800" stroke-width="13.7"/>
<path d="M177.4,221.2L192.9,219.0" stroke="#38f800" stroke-width="13.2"/>
<path d="M192.9,219.0L206.3,217.2" stroke="#38f800" stroke-width="12.6"/>
<path d="M206.3,217.2L221.8,214.5" stroke="#38f800" stroke-width="12.6"/>
<path d="M221.8,214.5L233.0,212.3" stroke="#38f800" stroke-width="12.8"/>
<path d="M233.0,212.3L248.5,209.0" stroke="#38f800" stroke-width="12.6"/>
<path d="M248.5,209.0L259.7,206.7" stroke="#38f800" stroke-width="12.1"/>
<path d="M259.7,206.7L290.0,199.8" stroke="#38f800" stroke-width="11.5"/>
<path d="M290.0,199.8L301.2,196.3" stroke="#38f800" stroke-width="10.9"/>
<path d="M301.2,196.3L312.5,192.7" stroke="#38f800" stroke-width="10.4"/>
<path d="M312.5,192.7L323.7,189.3" stroke="#38f800" stroke-width="10.0"/>
<path d="M323.7,189.3L335.0,186.5" stroke="#38f800" stroke-width="9.5"/>
<path d="M335.0,186.5L344.5,184.7" stroke="#38f800" stroke-width="9.0"/>
<path d="M344.5,184.7L351.9,182.3" stroke="#48f800" stroke-width="6.7"/>
<path d="M351.9,182.3L363.1,179.1" stroke="#48f800" stroke-width="5.9"/>
<path d="M363.1,179.1L372.1,176.5" stroke="#48f800" stroke-width="5.2"/>
<path d="M372.1,176.5L378.8,174.3" stroke="#48f800" stroke-width="4.3"/>
<path d="M378.8,174.3L384.5,172.4" stroke="#48f800" stroke-width="3.2"/>
<path d="M389.1,170.0L391.8,163.4" stroke="#38f800" stroke-width="1.7"/>
<path d="M83.5,261.2L93.3,262.1" stroke="#38f800" stroke-width="7.0"/>
<path d="M86.6,261.2L91.0,262.6" stroke="#38f800" stroke-width="6.3"/>
<path d="M93.9,257.9L97.7,254.1" stroke="#38f800" stroke-width="3.2"/>
<path d="M97.7,262.4L100.8,262.4" stroke="#38f800" stroke-width="3.6"/>
<path d="M122.6,148.9V154.7M130.6,148.2V156.3M132.0,150.9V156.1M140.0,150.6V158.3M141.3,148.1V157.8M142.6,149.3V159.2M144.0,152.3V159.3M145.3,150.1V159.3M149.3,152.6V158.3M170.6,150.2V157.7M177.3,148.2V156.4" stroke="#30e800" stroke-width="1.45" stroke-linecap="butt"/>
<path d="M120.0,148.8V154.7M121.3,149.9V155.5M124.0,150.0V155.8M129.3,147.6V156.5M133.3,149.3V157.4M150.6,152.6V158.7M152.0,152.4V159.6M153.3,149.1V160.0M157.3,150.9V159.6M158.6,152.1V158.8M162.6,151.8V158.8M169.3,150.2V157.3M173.3,148.9V156.9" stroke="#58f800" stroke-width="1.45" stroke-linecap="butt"/>
<path d="M118.6,149.0V154.1M125.3,148.5V154.7M128.0,147.8V155.5M134.6,148.5V157.3M136.0,150.0V158.0M137.3,151.6V157.2M138.6,151.6V158.4M146.6,150.2V158.6M148.0,149.4V159.7M154.6,149.8V159.3M156.0,152.7V160.2M161.3,150.7V158.0M164.0,149.9V158.2M165.3,150.6V158.5M168.0,149.5V157.5M172.0,150.2V157.1M174.6,149.5V156.3M176.0,147.9V156.8" stroke="#90f000" stroke-width="1.45" stroke-linecap="butt"/>
<path d="M132.9,154.0L144.0,155.8" stroke="#38f800" stroke-width="5.2"/>
<path d="M144.0,155.8L155.1,156.7" stroke="#38f800" stroke-width="5.9"/>
<path d="M155.1,156.7L166.2,155.1" stroke="#38f800" stroke-width="6.3"/>
<path d="M166.2,155.1L177.4,152.5" stroke="#38f800" stroke-width="6.6"/>
<path d="M177.4,152.5L182.2,151.4" stroke="#38f800" stroke-width="5.2"/>
<path d="M182.2,151.4L188.5,150.5" stroke="#38f800" stroke-width="5.9"/>
<path d="M188.5,150.5L192.9,149.6" stroke="#38f800" stroke-width="8.1"/>
<path d="M192.9,149.6L206.3,146.0" stroke="#38f800" stroke-width="8.6"/>
<path d="M206.3,146.0L211.8,144.5" stroke="#38f800" stroke-width="6.6"/>
<path d="M211.8,144.5L221.8,141.1" stroke="#38f800" stroke-width="6.8"/>
<path d="M221.8,141.1L230.7,137.8" stroke="#38f800" stroke-width="9.2"/>
<path d="M230.7,137.8L235.2,136.2" stroke="#38f800" stroke-width="6.8"/>
<path d="M235.2,136.2L244.1,134.0" stroke="#38f800" stroke-width="6.8"/>
<path d="M244.1,134.0L255.2,131.1" stroke="#38f800" stroke-width="9.0"/>
<path d="M255.2,131.1L255.0,129.2" stroke="#38f800" stroke-width="8.1"/>
<path d="M255.0,129.2L264.8,123.6" stroke="#38f800" stroke-width="7.5"/>
<path d="M264.8,123.6L274.7,118.9" stroke="#38f800" stroke-width="6.9"/>
<path d="M274.7,118.9L277.0,117.3" stroke="#38f800" stroke-width="5.2"/>
<path d="M293.3,105.3V112.3M299.9,105.3V109.7M301.3,101.9V108.5M302.6,103.1V108.5M303.9,100.6V107.0M305.3,102.6V107.4M306.6,102.2V106.6M327.9,91.8V96.6M333.3,90.6V92.5M338.6,87.6V91.3M341.2,86.4V90.4" stroke="#30e800" stroke-width="1.45" stroke-linecap="butt"/>
<path d="M278.6,114.5V118.4M285.3,108.9V114.5M286.6,109.5V113.6M289.3,106.8V113.9M290.6,107.2V112.0M291.9,107.6V111.8M295.9,105.2V111.2M307.9,102.5V105.5M309.3,102.2V105.7M311.9,100.9V104.5M314.6,99.5V103.1M321.3,97.2V100.5M325.3,91.9V98.2M329.3,92.2V95.3M335.9,87.8V91.7" stroke="#58f800" stroke-width="1.45" stroke-linecap="butt"/>
<path d="M281.3,113.1V117.3M282.6,110.1V116.4M298.6,105.7V109.3M313.3,101.1V104.4M315.9,99.5V103.6M318.6,96.6V101.4M326.6,91.3V97.7M342.6,86.9V88.9" stroke="#90f000" stroke-width="1.45" stroke-linecap="butt"/>
<path d="M267.9,104.4V107.4M259.9,117.4V121.0M202.6,136.9V140.7M269.3,115.2V119.4M261.3,119.2V124.9M133.3,149.7V153.2M126.6,141.9V145.3M142.6,148.9V150.5M197.3,143.5V145.3M275.9,108.4V111.5M136.0,144.9V147.3M249.3,127.0V129.1M174.6,144.0V151.9M150.6,151.1V154.8M254.6,125.3V128.0M189.3,145.3V148.8M178.6,148.3V149.5M149.3,150.6V151.9M181.3,148.7V151.8M214.6,133.5V143.3M149.3,146.1V154.8M173.3,143.5V145.9M206.6,136.8V140.7M239.9,128.1V134.4M274.6,115.0V118.3M201.3,138.4V142.5M194.6,140.0V147.5M251.9,125.6V130.2M230.6,125.4V127.6M221.3,132.0V138.9M170.6,149.3V152.7M218.6,121.9V124.6M197.3,142.7V146.6M221.3,123.3V126.1M274.6,100.5V102.9M197.3,137.8V146.5M234.6,133.4V136.5M145.3,136.5V140.1M219.9,136.7V139.8M156.0,150.2V152.4M152.0,149.3V154.9M124.0,138.0V140.8M197.3,140.2V146.7M134.6,149.5V153.5M194.6,134.1V135.7M239.9,124.3V126.5M210.6,139.3V142.1M172.0,148.1V152.6M229.3,131.6V133.4M207.9,138.6V141.2M234.6,132.6V136.4M222.6,133.7V137.8M170.6,143.9V152.7M223.9,133.7V138.6M199.9,139.8V143.7M263.9,118.0V122.4M154.6,149.6V155.0M177.3,143.1V151.3M234.6,125.3V129.4M154.6,152.0V155.0M196.0,141.7V143.7M218.6,136.8V141.0M221.3,120.5V123.6M226.6,132.7V136.9M177.3,148.1V151.4M205.3,136.9V139.3M136.0,149.6V153.6M132.0,150.0V153.1M140.0,136.6V138.2M230.6,129.9V135.7M271.9,116.2V119.5M227.9,128.0V131.0M227.9,132.8V136.6M213.3,136.1V139.4M181.3,146.2V151.6M246.6,124.4V126.6M202.6,141.9V144.9M237.3,132.4V135.4M249.3,119.7V121.9" stroke="#25e000" stroke-width="1.3" stroke-linecap="butt"/>
<path d="M178.6,137.4V141.8M210.6,136.4V138.1M254.6,107.8V112.0M197.3,136.6V140.2M178.6,141.3V144.2M203.9,134.6V138.1M192.0,130.5V134.4M267.9,112.8V116.2M265.3,116.4V118.6M140.0,147.7V154.1M258.6,116.0V117.4M138.6,142.4V145.4M198.6,131.4V134.8M122.6,134.5V136.4M185.3,144.6V147.4M190.6,128.7V132.5M156.0,138.7V142.8M246.6,125.4V126.7M217.3,137.2V140.1M219.9,135.4V137.9M190.6,140.8V148.5M239.9,118.8V120.1M194.6,130.4V131.6M245.3,128.0V131.7M250.6,110.1V114.4M235.9,123.5V125.9M243.9,117.3V119.9M177.3,135.5V138.4M215.9,136.6V140.0M125.3,144.8V152.5M202.6,126.2V129.1M203.9,141.7V144.7M136.0,144.0V146.1M129.3,141.4V145.4M169.3,136.9V139.4M253.3,110.2V113.7M218.6,137.0V138.7M142.6,148.9V150.7M196.0,134.7V137.3M221.3,127.9V131.4M138.6,148.8V152.1M275.9,109.9V113.1M156.0,151.8V154.8M246.6,112.6V115.3M152.0,138.5V140.7M133.3,140.5V142.4M198.6,143.3V146.4M158.6,145.4V147.4M130.6,150.2V151.9M186.6,142.8V145.6M219.9,135.5V136.8M223.9,129.8V133.5M233.3,127.3V136.1M206.6,137.2V139.4M161.3,146.0V148.0M189.3,139.1V143.6M205.3,136.1V138.7M144.0,145.8V147.5M270.6,112.4V115.3" stroke="#50f800" stroke-width="1.3" stroke-linecap="butt"/>
<path d="M213.3,137.0V144.0M162.6,148.9V154.2M213.3,138.9V143.4M223.9,135.3V138.6M124.0,149.3V152.4M124.0,148.1V149.4M170.6,148.5V152.8M211.9,141.2V144.8M148.0,148.1V152.0M185.3,142.1V150.9M149.3,147.8V154.8M146.6,147.4V154.7M142.6,145.5V154.4M218.6,137.7V140.0M199.9,140.3V145.9M275.9,113.7V118.0M181.3,145.9V149.8M170.6,148.3V151.5M254.6,123.7V125.2M190.6,145.5V148.5M229.3,132.1V135.0M251.9,125.4V129.7M124.0,143.8V152.4M142.6,149.8V154.4M152.0,150.4V154.9M154.6,152.0V155.0M219.9,130.8V140.1M185.3,147.4V150.5M134.6,148.8V150.9M237.3,129.8V135.6M274.6,113.2V118.4M194.6,143.5V147.5M215.9,138.5V142.4M205.3,139.9V144.3M270.6,115.0V118.2M217.3,138.0V139.6M154.6,150.0V152.6M126.6,145.9V152.6M227.9,132.3V133.5M118.6,148.0V152.4M122.6,148.0V152.4M201.3,142.5V145.6M206.6,135.9V144.3M266.6,115.3V118.9M235.9,132.9V136.1M203.9,140.5V142.7M141.3,151.1V154.3M217.3,136.1V142.2M196.0,143.5V147.0M174.6,143.5V151.8M166.6,150.5V151.9M118.6,145.6V152.4M129.3,149.9V152.9M249.3,127.6V130.6M207.9,138.4V142.4M251.9,126.6V129.9M118.6,148.3V152.4M273.3,114.7V116.2M266.6,115.4V118.4M128.0,149.3V151.6M184.0,144.8V151.0M198.6,139.3V143.1" stroke="#a8f000" stroke-width="1.3" stroke-linecap="butt"/>
<path d="M301.3,103.4V107.4M309.3,96.1V99.3M341.2,83.9V86.1M333.2,86.8V89.7M278.6,104.8V106.3M338.6,87.0V90.8M283.9,109.8V113.4M334.6,87.6V90.7M330.6,88.9V92.2M291.9,105.9V110.2M282.6,105.7V109.5M315.9,96.0V101.4M282.6,111.5V114.1M275.9,114.4V117.4M337.2,87.7V91.5M295.9,97.9V101.4M303.9,94.8V97.0M337.2,87.6V91.0M309.3,94.1V98.3M330.6,86.4V90.1M327.9,91.9V95.4M329.3,89.2V95.2M342.6,82.7V89.7M310.6,100.2V103.6" stroke="#25e000" stroke-width="1.3" stroke-linecap="butt"/>
<path d="M337.2,85.0V88.1M330.6,87.0V91.2M310.6,96.6V97.9M287.9,106.0V109.2M317.3,97.3V99.2M333.2,88.0V90.7M323.9,93.0V96.1M275.9,114.0V117.2M319.9,86.9V89.1M341.2,83.5V85.8M277.3,109.3V112.9M278.6,109.8V112.2M278.6,112.8V116.1" stroke="#50f800" stroke-width="1.3" stroke-linecap="butt"/>
<path d="M330.6,92.0V95.0M318.6,96.8V101.1M303.9,102.8V105.9M278.6,111.2V114.2M298.6,104.2V107.3M319.9,95.8V98.7M293.3,107.1V108.9M342.6,83.2V88.7M327.9,92.8V95.9M299.9,103.9V107.7M282.6,108.7V112.6M287.9,108.5V112.1M317.3,96.8V99.3" stroke="#a8f000" stroke-width="1.3" stroke-linecap="butt"/>
<path d="M374.6,87.5v4.2M330.6,80.4v3.5M338.6,101.3v3.2M334.6,70.1v1.6M373.2,65.0v4.4M330.6,81.0v2.6M330.6,76.6v4.4M349.2,82.4v3.4M321.3,83.8v3.9M338.6,84.8v3.5M341.2,93.4v2.7M342.6,80.2v3.8M343.9,80.5v2.9M321.3,87.9v4.2M325.3,98.7v3.0M341.2,62.3v4.9M367.9,78.3v1.7M361.2,78.9v2.4M325.3,79.4v4.8M375.9,69.3v4.7M341.2,78.5v1.6M334.6,85.9v4.9M334.6,100.0v2.8M361.2,73.5v2.1M341.2,91.5v2.4M329.3,72.5v2.0M371.9,101.2v4.2M351.9,94.9v3.0M373.2,92.0v2.9M335.9,77.3v3.5M325.3,77.1v1.9M371.9,88.5v2.8M367.9,72.4v4.4M362.6,87.9v3.8M366.6,68.2v2.7M323.9,101.4v2.6M355.9,93.9v4.0M331.9,89.8v2.9M369.2,88.1v2.3M334.6,96.8v2.4M334.6,98.1v1.9M365.2,82.5v4.8M321.3,97.1v2.9M370.6,100.2v4.4M353.2,99.5v2.6" stroke="#1fd000" stroke-width="1.4" stroke-linecap="butt"/>
<path d="M146.6,85.8V90.1M166.6,84.0V88.0M170.6,81.2V86.7M176.0,80.6V86.1M180.0,80.7V85.0M181.3,78.6V84.3M185.3,76.9V83.7M192.0,74.0V80.8M197.3,75.0V79.0M199.9,72.2V77.6M201.3,72.9V77.4M213.3,68.5V71.9M219.9,63.9V69.2M226.6,60.8V65.5M231.9,56.7V62.7M235.9,56.2V59.7M238.6,54.1V58.7M247.9,49.1V53.0M249.3,46.9V53.2M250.6,45.0V51.2M255.9,45.4V49.4M261.3,44.1V46.7" stroke="#30e800" stroke-width="1.45" stroke-linecap="butt"/>
<path d="M148.0,86.7V90.8M150.6,85.1V89.6M153.3,85.8V89.3M154.6,86.4V89.6M156.0,85.8V90.2M162.6,83.8V88.6M168.0,82.9V86.8M169.3,82.9V87.7M177.3,81.9V85.2M182.6,80.4V84.2M188.0,75.5V82.1M193.3,74.1V81.2M198.6,72.1V78.9M202.6,72.4V76.2M205.3,70.0V75.8M210.6,67.6V73.2M214.6,64.9V71.6M217.3,63.6V70.6M223.9,60.1V67.1M229.3,59.5V64.1M233.3,56.5V61.9M234.6,55.5V61.4M237.3,55.5V59.0M239.9,53.7V57.6M242.6,51.7V56.0M253.3,46.5V49.9M254.6,43.7V49.5M259.9,44.4V47.4" stroke="#58f800" stroke-width="1.45" stroke-linecap="butt"/>
<path d="M149.3,87.1V90.6M157.3,85.3V89.1M158.6,83.7V88.7M161.3,84.2V88.4M164.0,84.7V87.6M178.6,81.5V84.7M186.6,76.4V83.1M189.3,77.4V81.4M190.6,76.4V81.1M196.0,73.1V79.6M206.6,68.6V75.5M207.9,70.6V74.3M209.3,68.6V73.3M211.9,67.4V72.4M215.9,67.3V71.1M218.6,63.8V69.3M221.3,61.5V68.2M222.6,61.9V68.1M230.6,56.6V63.8M241.3,52.7V56.8M243.9,48.5V55.8M245.3,49.4V54.3M251.9,46.3V50.6" stroke="#90f000" stroke-width="1.45" stroke-linecap="butt"/>
<path d="M186.6,77.7V79.5M250.6,46.2V49.7M211.9,66.8V69.2M148.0,85.9V88.6M185.3,74.5V79.0M245.3,49.0V52.8M202.6,72.6V74.8M217.3,64.1V67.4M152.0,83.9V86.0M172.0,78.3V82.6M186.6,76.8V80.9M198.6,71.3V72.6M156.0,85.6V88.3M215.9,63.0V67.4M161.3,85.2V87.2M251.9,37.9V40.9M226.6,58.4V62.6M181.3,80.9V83.1M158.6,82.3V85.3M242.6,50.2V54.3M173.3,74.4V76.0M156.0,79.6V83.7M161.3,76.9V81.4M211.9,61.9V65.2M217.3,66.0V69.4M221.3,62.4V66.5M247.9,44.0V46.5M190.6,75.4V79.3M149.3,86.9V89.1" stroke="#25e000" stroke-width="1.3" stroke-linecap="butt"/>
<path d="M184.0,77.7V80.0M246.6,45.5V48.4M192.0,69.2V72.3M189.3,73.9V77.3M249.3,47.5V49.2M249.3,41.6V44.7M199.9,68.8V71.2M223.9,60.4V62.5M219.9,62.7V64.5M241.3,52.6V54.9M193.3,76.6V78.8M222.6,62.5V64.4M214.6,60.6V64.1M178.6,77.4V80.9M246.6,44.2V47.4M218.6,62.5V65.7M253.3,43.2V47.0M201.3,69.0V71.2M229.3,59.3V60.6M188.0,71.2V72.7M156.0,80.8V84.7M250.6,44.2V47.9M178.6,79.3V81.0M182.6,78.5V79.8M234.6,54.1V57.1" stroke="#50f800" stroke-width="1.3" stroke-linecap="butt"/>
<path d="M246.6,49.8V51.9M238.6,52.4V57.2M162.6,80.8V85.0M189.3,77.8V80.2M259.9,44.1V46.1M245.3,48.3V52.7M148.0,86.5V89.6M177.3,81.0V82.5M234.6,56.3V59.3M197.3,72.6V75.7M234.6,55.0V59.6M254.6,46.3V48.5M190.6,77.0V79.9M229.3,57.6V61.6M146.6,85.8V87.8M169.3,79.7V83.7" stroke="#a8f000" stroke-width="1.3" stroke-linecap="butt"/>
<path d="M126.6,82.3v2.1M121.3,83.8v2.6M126.6,81.5v2.4M122.6,79.4v2.3M133.3,79.5v3.0M124.0,84.0v2.7" stroke="#1fd000" stroke-width="1.4" stroke-linecap="butt"/>
<path d="M267.9,26.7v4.7M298.6,39.7v3.8M279.9,39.2v4.5M293.3,28.3v4.5M298.6,34.6v2.0M263.9,36.3v3.3M295.9,36.1v4.1M262.6,33.5v4.1M295.9,41.8v2.8M278.6,43.5v2.3M258.6,26.0v4.2M270.6,37.6v4.5M291.9,22.9v4.1M290.6,37.5v4.6" stroke="#1fd000" stroke-width="1.4" stroke-linecap="butt"/>
<path d="M123.9,29.8V46.5" stroke="#a0c000" stroke-width="1.3" stroke-linecap="butt"/>
<path d="M131.4,93.7V112.4" stroke="#80c000" stroke-width="1.3" stroke-linecap="butt"/>
<path d="M133.7,125.0V147.0" stroke="#40a000" stroke-width="1.0" stroke-linecap="butt"/>
<path d="M206.0,117.0V123.0" stroke="#30d000" stroke-width="1.3" stroke-linecap="butt"/>
<path d="M206.0,126.0V134.0" stroke="#30d000" stroke-width="1.3" stroke-linecap="butt"/>
<path d="M206.0,136.0V141.0" stroke="#30d000" stroke-width="1.3" stroke-linecap="butt"/>
<path d="M244.0,24.0V28.0" stroke="#30c000" stroke-width="1.3" stroke-linecap="butt"/>
<path d="M244.0,31.0V35.0" stroke="#30c000" stroke-width="1.3" stroke-linecap="butt"/>
<path d="M244.0,38.0V42.0" stroke="#30c000" stroke-width="1.3" stroke-linecap="butt"/>
<path d="M244.0,45.0V49.0" stroke="#30c000" stroke-width="1.3" stroke-linecap="butt"/>
<path d="M244.0,52.0V56.0" stroke="#30c000" stroke-width="1.3" stroke-linecap="butt"/>
<path d="M244.0,59.0V63.0" stroke="#30c000" stroke-width="1.3" stroke-linecap="butt"/>
<path d="M244.0,66.0V70.0" stroke="#30c000" stroke-width="1.3" stroke-linecap="butt"/>
<path d="M123.5,173.4V190.0" stroke="#b0b000" stroke-width="1.3" stroke-linecap="butt"/>
<path d="M133.5,177.8V204.5" stroke="#40c000" stroke-width="1.3" stroke-linecap="butt"/>
<path d="M234.8,170.0V175.0" stroke="#30c000" stroke-width="1.3" stroke-linecap="butt"/>
<path d="M234.8,179.0V184.0" stroke="#30c000" stroke-width="1.3" stroke-linecap="butt"/>
<path d="M234.8,188.0V193.0" stroke="#30c000" stroke-width="1.3" stroke-linecap="butt"/>
<path d="M234.8,197.0V202.0" stroke="#30c000" stroke-width="1.3" stroke-linecap="butt"/>
<path d="M234.8,206.0V211.0" stroke="#30c000" stroke-width="1.3" stroke-linecap="butt"/>
<path d="M234.8,215.0V220.0" stroke="#30c000" stroke-width="1.3" stroke-linecap="butt"/>
<path d="M234.8,224.0V229.0" stroke="#30c000" stroke-width="1.3" stroke-linecap="butt"/>
<path d="M234.8,233.0V238.0" stroke="#30c000" stroke-width="1.3" stroke-linecap="butt"/>
<path d="M363.3,20.0V40.6" stroke="#40d000" stroke-width="1.3" stroke-linecap="butt"/>
<path d="M381.0,113.4V159.0" stroke="#40d000" stroke-width="1.3" stroke-linecap="butt"/>
<path d="M390.9,95.7V143.0" stroke="#60c000" stroke-width="1.6" stroke-linecap="butt"/>
<path d="M391.2,143.0V261.0" stroke="#58c000" stroke-width="1.3" stroke-linecap="butt"/>
<path d="M307.2,21.0V25.0" stroke="#30c000" stroke-width="1.3" stroke-linecap="butt"/>
<path d="M307.2,27.0V31.0" stroke="#30c000" stroke-width="1.3" stroke-linecap="butt"/>
<path d="M307.2,33.0V37.0" stroke="#30c000" stroke-width="1.3" stroke-linecap="butt"/>
<path d="M307.2,39.0V43.0" stroke="#30c000" stroke-width="1.3" stroke-linecap="butt"/>
<path d="M307.2,45.0V49.0" stroke="#30c000" stroke-width="1.3" stroke-linecap="butt"/>
<path d="M307.2,51.0V55.0" stroke="#30c000" stroke-width="1.3" stroke-linecap="butt"/>
<path d="M274.7,54.0V58.0" stroke="#30c000" stroke-width="1.3" stroke-linecap="butt"/>
<path d="M274.7,65.0V69.0" stroke="#30c000" stroke-width="1.3" stroke-linecap="butt"/>
<path d="M274.7,76.0V80.0" stroke="#30c000" stroke-width="1.3" stroke-linecap="butt"/>
<path d="M274.7,98.0V102.0" stroke="#30c000" stroke-width="1.3" stroke-linecap="butt"/>
<path d="M274.7,109.0V113.0" stroke="#30c000" stroke-width="1.3" stroke-linecap="butt"/>
<path d="M274.7,153.0V157.0" stroke="#30c000" stroke-width="1.3" stroke-linecap="butt"/>
<path d="M274.7,164.0V168.0" stroke="#30c000" stroke-width="1.3" stroke-linecap="butt"/>
<path d="M274.7,175.0V179.0" stroke="#30c000" stroke-width="1.3" stroke-linecap="butt"/>
<path d="M274.7,186.0V190.0" stroke="#30c000" stroke-width="1.3" stroke-linecap="butt"/>
<path d="M274.7,197.0V201.0" stroke="#30c000" stroke-width="1.3" stroke-linecap="butt"/>
<path d="M274.7,208.0V212.0" stroke="#30c000" stroke-width="1.3" stroke-linecap="butt"/>
<path d="M274.7,219.0V223.0" stroke="#30c000" stroke-width="1.3" stroke-linecap="butt"/>
<path d="M274.7,230.0V234.0" stroke="#30c000" stroke-width="1.3" stroke-linecap="butt"/>
<path d="M274.7,252.0V256.0" stroke="#30c000" stroke-width="1.3" stroke-linecap="butt"/>
<path d="M274.7,263.0V267.0" stroke="#30c000" stroke-width="1.3" stroke-linecap="butt"/>
<path d="M274.7,274.0V278.0" stroke="#30c000" stroke-width="1.3" stroke-linecap="butt"/>
<path d="M253.3,58.0v3.4M209.3,232.9v2.4M194.6,235.6v2.0M269.3,184.3v3.5M343.9,34.1v2.4M442.6,239.4v2.2M116.0,89.8v3.0M136.0,248.9v2.0M338.6,198.3v2.0M270.6,181.5v2.0M275.9,181.3v3.4M177.3,65.4v2.5M301.3,145.5v3.3M145.3,150.9v2.4M144.0,137.2v2.4M214.6,218.6v3.5M449.2,76.7v2.2M442.6,42.2v1.7M90.6,266.3v2.5M237.3,46.1v3.3M458.6,196.7v3.3M290.6,100.5v1.9M185.3,59.3v2.2M84.0,31.4v3.3M401.2,229.2v2.2M243.9,159.7v3.1M185.3,151.9v2.6M398.6,110.3v1.5M225.3,246.8v1.8M313.3,54.8v2.0M313.3,47.2v2.4M298.6,120.2v3.0M401.2,92.3v3.0M365.2,173.3v2.7M290.6,210.0v2.9M172.0,187.1v2.9M247.9,249.9v2.1M283.9,166.3v2.7M138.6,191.7v1.7M277.3,136.3v2.9M405.2,272.5v2.0M426.6,141.6v2.5M81.3,240.6v2.0M174.6,99.0v2.0M180.0,94.6v2.6M207.9,214.3v3.4M434.6,116.9v2.9M355.9,206.2v2.3M141.3,214.6v2.8M203.9,191.3v1.6M375.9,250.5v3.4M110.6,197.6v3.1M121.3,176.9v1.9M152.0,28.2v2.1M402.6,170.9v3.1M450.6,59.7v3.2M421.2,186.9v2.2M134.6,133.2v2.2M168.0,193.3v2.8M168.0,65.1v2.5M346.6,191.0v2.8M421.2,214.6v2.4M361.2,190.8v2.2M132.0,117.4v2.9M362.6,98.7v2.6M94.6,173.8v2.4M369.2,241.0v1.6M447.9,64.8v3.4M455.9,77.7v2.1M122.6,253.6v3.0M449.2,227.2v2.2M371.9,112.0v2.2M234.6,199.9v2.1M287.9,166.0v3.1M251.9,128.4v2.6M247.9,207.9v1.7M136.0,30.8v2.3M402.6,174.2v2.8M435.9,230.9v2.1M153.3,158.3v2.0M301.3,41.2v2.3M351.9,86.1v1.8M362.6,70.5v3.3M307.9,248.1v2.6M258.6,86.9v1.6M443.9,76.9v1.7M434.6,158.2v2.7M429.2,208.0v2.0M177.3,188.7v2.9M154.6,84.8v2.5M88.0,226.6v2.8M125.3,169.1v2.7M100.0,130.8v3.1M245.3,206.7v2.0M461.2,191.8v2.6M69.3,111.9v1.5M239.9,66.2v2.0M186.6,57.9v2.1M265.3,55.3v2.6M441.2,205.3v3.4M108.0,189.8v2.0M435.9,147.7v2.9M373.2,54.9v1.7M386.6,230.3v2.4M74.6,27.2v3.1M341.2,116.5v2.9M385.2,22.8v3.0M453.2,243.1v3.3M239.9,176.0v1.7M379.9,189.6v2.3M85.3,66.8v2.3M430.6,141.5v3.2M140.0,85.7v2.0M178.6,224.2v2.2M192.0,195.1v2.4M413.2,198.8v3.2M234.6,121.9v2.4M457.2,262.2v2.6M261.3,39.5v3.2M306.6,126.3v1.8M251.9,202.1v2.0M170.6,151.6v2.5M68.0,37.0v2.2M346.6,118.5v1.5M161.3,70.9v3.0M156.0,271.6v2.1M136.0,25.8v2.5M269.3,220.6v2.8M279.9,34.6v3.4M164.0,80.9v1.8M298.6,188.3v2.1M166.6,23.8v2.7M347.9,51.6v2.0M363.9,202.4v1.8M457.2,204.1v2.9M192.0,267.9v2.4M317.3,272.1v3.2M134.6,54.2v1.9M112.0,247.2v2.6M254.6,115.2v2.5M238.6,206.3v2.3M409.2,237.1v3.2M362.6,65.0v2.3M398.6,112.1v2.6M149.3,231.7v2.2M207.9,229.8v1.7M68.0,129.5v2.4M109.3,121.3v3.0M415.9,256.6v3.1M94.6,114.4v2.4M76.0,220.5v2.1M374.6,193.6v2.0M201.3,136.0v1.9M69.3,128.7v2.0M166.6,222.1v3.0M227.9,27.3v3.0M169.3,46.7v3.0M423.9,86.4v2.6M417.2,153.8v2.2M126.6,28.1v3.3M387.9,67.4v2.8M141.3,211.9v2.3M341.2,157.5v1.7M290.6,188.1v1.6M80.0,89.9v2.9M453.2,135.2v3.2M346.6,90.8v2.4M399.9,144.3v2.5M351.9,58.9v2.4M271.9,166.0v2.9M172.0,142.1v2.4M106.6,222.0v3.4M286.6,125.9v2.2M245.3,115.6v2.0M441.2,114.6v1.9M326.6,22.4v2.2M287.9,230.3v2.1M85.3,268.2v1.5M230.6,151.7v3.5M206.6,82.8v2.1M214.6,58.1v3.3M269.3,208.6v2.1M329.3,254.1v2.0M443.9,93.8v2.9M438.6,139.5v3.4M222.6,132.7v3.3M303.9,34.6v1.8M277.3,107.8v1.6M387.9,104.3v3.3M210.6,67.9v2.3M393.2,252.1v2.6M165.3,155.8v2.0M207.9,22.9v1.5M435.9,217.0v2.0M309.3,31.4v3.2M307.9,205.0v2.4M237.3,229.5v2.1M96.0,50.4v3.3M174.6,37.3v2.6M116.0,130.0v3.0M157.3,128.8v3.4M410.6,242.9v1.6M450.6,164.2v1.8M455.9,52.4v3.5M77.3,41.0v2.4M306.6,170.6v3.1M108.0,206.4v2.1M443.9,180.9v2.9M117.3,254.6v2.1M148.0,128.4v3.1M193.3,141.3v2.7M162.6,51.3v2.3M347.9,194.3v1.9M326.6,234.7v2.9M137.3,31.8v3.5M346.6,90.8v3.0M295.9,182.0v2.2M330.6,118.7v2.3M193.3,209.2v3.2M181.3,40.1v2.0M365.2,112.0v1.5M399.9,132.0v1.6M361.2,150.7v3.2M395.9,231.4v3.3M217.3,227.7v2.5M323.9,76.5v2.8M94.6,240.9v1.9M290.6,236.2v3.2M405.2,129.7v1.6M455.9,99.0v3.2M227.9,133.7v2.6M281.3,220.3v2.7M132.0,157.0v1.7M403.9,66.0v2.2M299.9,108.3v3.3M379.9,106.0v2.4M358.6,151.5v2.8M198.6,166.4v2.7M422.6,110.8v3.1M150.6,95.2v2.0M433.2,45.4v2.1M250.6,202.5v2.8M113.3,120.8v2.9M121.3,52.2v3.1M65.3,41.3v1.9M395.9,110.0v2.4M279.9,248.7v1.6M141.3,123.7v2.8M117.3,132.2v2.6M90.6,105.8v1.6M426.6,23.8v1.8M307.9,79.8v2.6M199.9,274.1v2.6M205.3,67.1v2.5M371.9,203.9v2.9M270.6,259.8v2.3M282.6,265.1v3.1M253.3,224.2v3.0M181.3,123.2v3.0M213.3,110.6v2.6M94.6,87.8v3.5M164.0,227.1v1.5M186.6,152.7v2.1M439.9,265.8v2.1M120.0,256.1v3.1M270.6,36.0v1.5M338.6,196.0v2.4M197.3,91.5v2.2M230.6,177.4v2.3M198.6,78.5v2.8M437.2,68.0v3.0M321.3,80.2v1.8M397.2,58.9v1.7M101.3,229.1v2.3M65.3,92.7v2.5M253.3,58.6v3.2M341.2,90.9v2.1M166.6,26.5v2.7M173.3,189.9v3.2M192.0,94.0v2.2M253.3,33.0v2.3M189.3,49.4v3.2M341.2,145.7v1.6M353.2,118.0v3.3M321.3,82.3v3.0M299.9,111.5v3.1M196.0,57.7v1.6M307.9,90.9v1.8M84.0,218.6v2.1M406.6,249.2v3.1M154.6,262.0v2.7M401.2,253.0v2.1M214.6,250.1v2.1M104.0,30.7v2.6M186.6,262.8v1.5M222.6,202.9v2.7M395.9,187.1v3.2M449.2,241.3v2.7M223.9,156.5v1.9M166.6,153.7v2.4M218.6,42.8v3.5M197.3,143.6v2.2M285.3,220.3v3.4M303.9,260.6v2.2M253.3,107.3v3.4M116.0,78.5v3.0M160.0,37.7v2.2M249.3,137.2v2.0M202.6,94.4v1.9M266.6,79.2v1.9M434.6,247.5v2.3M274.6,45.9v1.5M269.3,262.5v1.7M245.3,223.7v1.5M297.3,87.9v3.0M391.9,246.6v3.1M100.0,188.9v2.6M184.0,72.3v2.4M233.3,125.0v3.4M156.0,239.7v1.8M338.6,134.2v2.3M254.6,55.0v1.9M227.9,70.1v3.2M339.9,181.8v2.9M129.3,23.7v1.7M415.9,145.6v3.4M193.3,119.4v2.8M401.2,130.3v2.5M206.6,81.9v3.3M423.9,132.5v1.8M410.6,139.6v3.0M230.6,41.6v3.0M106.6,260.5v1.8M201.3,21.9v1.9M322.6,44.5v1.7M89.3,24.5v2.5M154.6,213.3v2.9M265.3,258.1v3.4M186.6,218.9v2.9M138.6,221.4v1.6M331.9,252.4v2.8M341.2,189.4v2.3M109.3,117.6v2.1M387.9,245.7v3.4M197.3,249.4v3.3M73.3,160.8v1.7M97.3,134.2v2.9M136.0,103.1v2.5M281.3,52.5v1.8M70.6,103.2v3.5M138.6,213.9v2.8M406.6,226.3v1.6M196.0,234.0v2.8M403.9,29.2v3.2M222.6,222.3v2.7M206.6,155.3v1.6M435.9,244.3v2.8M321.3,209.1v2.4M161.3,186.8v3.5M409.2,224.9v1.8M189.3,92.7v2.6M422.6,179.6v2.7M234.6,65.9v2.0M454.6,253.0v2.8M337.2,78.7v1.5M74.6,25.6v1.9M454.6,168.5v1.9M101.3,25.4v1.5M118.6,106.9v1.8M156.0,180.7v1.8M118.6,218.3v2.1M314.6,93.8v2.9M69.3,90.1v3.2M181.3,183.6v1.9M108.0,129.4v2.4M78.6,155.9v2.3M207.9,214.8v3.3M226.6,98.8v3.0M366.6,151.8v2.7M199.9,206.2v2.7M406.6,97.7v1.6M409.2,170.7v3.1M361.2,218.1v2.2M407.9,178.6v2.3M132.0,45.4v2.0M192.0,105.5v2.7M446.6,165.0v2.8M69.3,198.8v2.6M373.2,110.3v2.8M267.9,220.6v2.4M391.9,243.0v2.6M263.9,201.3v2.5M450.6,259.7v2.5M338.6,48.0v3.3M310.6,27.6v1.5M401.2,220.7v2.7M225.3,83.1v2.5M425.2,182.0v1.6M146.6,42.7v3.2M401.2,257.6v2.4M190.6,36.6v2.0M201.3,120.4v2.2M354.6,240.3v2.3M389.2,95.6v2.0M381.2,43.8v1.7M458.6,141.4v2.3M371.9,248.5v2.2M385.2,54.0v3.3M229.3,119.5v1.5M92.0,120.9v1.7M327.9,275.6v2.1M363.9,170.3v2.7M373.2,144.8v3.2M128.0,195.2v2.6M144.0,79.5v3.4M317.3,148.0v2.5M402.6,182.8v1.9M437.2,238.0v3.1M346.6,192.9v2.1M453.2,203.0v1.8M386.6,130.1v1.6M415.9,78.6v2.3M102.6,154.4v2.6M391.9,264.6v3.3M330.6,123.5v3.4M156.0,101.8v2.6M210.6,166.0v1.7M162.6,26.3v2.4M160.0,229.3v2.0M141.3,204.2v1.9M398.6,156.4v1.8M343.9,275.8v2.1M285.3,160.6v3.4M457.2,36.7v2.3M385.2,128.0v2.5M289.3,24.1v1.6M421.2,122.2v2.4M286.6,213.0v3.3M98.6,182.4v1.5M281.3,229.5v2.5M211.9,239.7v2.9M427.9,159.3v2.1M339.9,145.6v1.5M116.0,266.0v2.8M78.6,213.2v3.0M84.0,273.8v1.8M266.6,202.9v2.5M202.6,143.0v2.8M442.6,246.0v3.5M383.9,142.9v2.2M426.6,256.5v2.1M377.2,110.0v1.6M251.9,250.7v2.6M387.9,236.0v3.1M184.0,253.7v1.7M265.3,42.3v2.3M417.2,228.7v3.5M287.9,153.9v1.8M257.3,252.7v2.2M403.9,98.6v3.1M141.3,267.2v1.7M97.3,167.4v3.1M346.6,124.6v2.9M145.3,104.7v2.1M154.6,31.9v1.9M279.9,176.2v2.2M307.9,105.5v3.1M70.6,218.3v3.3M294.6,183.8v3.5M122.6,45.3v2.5M351.9,157.9v2.5M237.3,138.6v3.3M92.0,188.6v1.7M399.9,88.0v3.1M192.0,183.0v2.5M443.9,141.7v2.5M263.9,85.0v3.4M201.3,59.6v1.9M350.6,251.7v2.7M445.2,78.3v3.3M370.6,75.6v1.7M233.3,127.9v2.5M351.9,79.4v2.0M197.3,62.2v2.4M302.6,90.6v1.8M354.6,43.2v3.2M309.3,78.9v1.5M399.9,26.7v3.0M277.3,197.4v1.9M354.6,86.3v2.7M447.9,173.3v1.8M161.3,125.2v3.2M381.2,121.0v2.7M205.3,146.3v2.1M439.9,116.2v2.1M311.9,77.2v1.7M241.3,232.2v2.2M177.3,95.1v2.7M172.0,157.2v2.5M80.0,103.3v3.1M149.3,212.6v1.7M258.6,129.0v2.8M66.6,52.2v2.3M429.2,149.3v3.2M275.9,273.0v1.7M410.6,86.4v1.9M274.6,127.8v3.5M435.9,206.0v2.0M157.3,133.6v2.1M152.0,73.5v2.0M184.0,49.2v2.1M442.6,234.9v2.7M445.2,260.9v1.7M84.0,106.2v2.6M461.2,27.9v2.9M379.9,88.1v3.0M409.2,44.8v2.8M253.3,218.0v1.8M327.9,24.0v1.6M235.9,109.6v2.4" stroke="#1fd000" stroke-width="1.4" stroke-linecap="butt"/>
<path d="M104.4,230.8L109.5,225.7" stroke="#f0e000" stroke-width="4.3"/>
<path d="M109.5,225.7L115.1,221.4" stroke="#f0e000" stroke-width="6.3"/>
<path d="M115.1,221.4L121.7,219.4" stroke="#f0e000" stroke-width="8.8"/>
<path d="M121.7,219.4L132.9,219.0" stroke="#f0e000" stroke-width="11.2"/>
<path d="M132.9,219.0L144.0,220.1" stroke="#f0e000" stroke-width="12.3"/>
<path d="M144.0,220.1L155.1,221.2" stroke="#f0e000" stroke-width="12.3"/>
<path d="M155.1,221.2L166.2,221.2" stroke="#f0e000" stroke-width="11.9"/>
<path d="M166.2,221.2L177.4,221.2" stroke="#f0e000" stroke-width="11.7"/>
<path d="M177.4,221.2L192.9,219.0" stroke="#f0e000" stroke-width="11.2"/>
<path d="M192.9,219.0L206.3,217.2" stroke="#f0e000" stroke-width="10.6"/>
<path d="M206.3,217.2L221.8,214.5" stroke="#f0e000" stroke-width="10.6"/>
<path d="M221.8,214.5L233.0,212.3" stroke="#f0e000" stroke-width="10.8"/>
<path d="M233.0,212.3L248.5,209.0" stroke="#f0e000" stroke-width="10.6"/>
<path d="M248.5,209.0L259.7,206.7" stroke="#f0e000" stroke-width="10.1"/>
<path d="M259.7,206.7L290.0,199.8" stroke="#f0e000" stroke-width="9.5"/>
<path d="M290.0,199.8L301.2,196.3" stroke="#f0e000" stroke-width="8.9"/>
<path d="M301.2,196.3L312.5,192.7" stroke="#f0e000" stroke-width="8.4"/>
<path d="M312.5,192.7L323.7,189.3" stroke="#f0e000" stroke-width="8.0"/>
<path d="M323.7,189.3L335.0,186.5" stroke="#f0e000" stroke-width="7.5"/>
<path d="M335.0,186.5L344.5,184.7" stroke="#f0e000" stroke-width="7.0"/>
<path d="M344.5,184.7L351.9,182.3L363.1,179.1L372.1,176.5L378.8,174.3" stroke="#c8f000" stroke-width="2.6" fill="none"/>
<path d="M86.6,261.2L91.0,262.6" stroke="#f0e000" stroke-width="4.3"/>
<path d="M86.1,270.0V280.5" stroke="#d01000" stroke-width="1.3" stroke-linecap="butt"/>
<path d="M96.2,275.0V280.5" stroke="#d01000" stroke-width="1.3" stroke-linecap="butt"/>
<path d="M118.0,277.0V280.5" stroke="#d01000" stroke-width="1.3" stroke-linecap="butt"/>
<path d="M132.9,154.0L144.0,155.8" stroke="#f0e000" stroke-width="3.2"/>
<path d="M144.0,155.8L155.1,156.7" stroke="#f0e000" stroke-width="3.9"/>
<path d="M155.1,156.7L166.2,155.1" stroke="#f0e000" stroke-width="4.3"/>
<path d="M166.2,155.1L177.4,152.5" stroke="#f0e000" stroke-width="4.6"/>
<path d="M177.4,152.5L182.2,151.4" stroke="#f0e000" stroke-width="3.2"/>
<path d="M182.2,151.4L188.5,150.5" stroke="#f0e000" stroke-width="3.9"/>
<path d="M188.5,150.5L192.9,149.6" stroke="#f0e000" stroke-width="6.1"/>
<path d="M192.9,149.6L206.3,146.0" stroke="#f0e000" stroke-width="6.6"/>
<path d="M206.3,146.0L211.8,144.5" stroke="#f0e000" stroke-width="4.6"/>
<path d="M211.8,144.5L221.8,141.1" stroke="#f0e000" stroke-width="4.8"/>
<path d="M221.8,141.1L230.7,137.8" stroke="#f0e000" stroke-width="7.2"/>
<path d="M230.7,137.8L235.2,136.2" stroke="#f0e000" stroke-width="4.8"/>
<path d="M235.2,136.2L244.1,134.0" stroke="#f0e000" stroke-width="4.8"/>
<path d="M244.1,134.0L255.2,131.1" stroke="#f0e000" stroke-width="7.0"/>
<path d="M255.2,131.1L255.0,129.2" stroke="#f0e000" stroke-width="6.1"/>
<path d="M255.0,129.2L264.8,123.6" stroke="#f0e000" stroke-width="5.5"/>
<path d="M264.8,123.6L274.7,118.9" stroke="#f0e000" stroke-width="4.9"/>
<path d="M274.7,118.9L277.0,117.3" stroke="#f0e000" stroke-width="3.2"/>
<path d="M281.3,114.3V116.0M286.6,111.7V113.4M298.6,106.9V108.7M309.3,103.2V104.8" stroke="#d0e800" stroke-width="1.45" stroke-linecap="butt"/>
<path d="M191.6,79.6L194.0,78.4" stroke="#f08000" stroke-width="2.0" fill="none"/>
<path d="M205.0,74.2L207.3,73.1" stroke="#f08000" stroke-width="2.0" fill="none"/>
<path d="M230.6,61.8L232.9,60.7" stroke="#f08000" stroke-width="2.0" fill="none"/>
<path d="M242.4,54.0L244.7,52.8" stroke="#f08000" stroke-width="2.0" fill="none"/>
<path d="M104.8,72.0V78.0" stroke="#d0a000" stroke-width="1.3" stroke-linecap="butt"/>
<path d="M104.4,230.8L109.5,225.7" stroke="#ff0800" stroke-width="3.3"/>
<path d="M109.5,225.7L115.1,221.4" stroke="#ff0800" stroke-width="5.3"/>
<path d="M115.1,221.4L121.7,219.4" stroke="#ff0800" stroke-width="7.8"/>
<path d="M121.7,219.4L132.9,219.0" stroke="#ff0800" stroke-width="10.2"/>
<path d="M132.9,219.0L144.0,220.1" stroke="#ff0800" stroke-width="11.3"/>
<path d="M144.0,220.1L155.1,221.2" stroke="#ff0800" stroke-width="11.3"/>
<path d="M155.1,221.2L166.2,221.2" stroke="#ff0800" stroke-width="10.9"/>
<path d="M166.2,221.2L177.4,221.2" stroke="#ff0800" stroke-width="10.7"/>
<path d="M177.4,221.2L192.9,219.0" stroke="#ff0800" stroke-width="10.2"/>
<path d="M192.9,219.0L206.3,217.2" stroke="#ff0800" stroke-width="9.6"/>
<path d="M206.3,217.2L221.8,214.5" stroke="#ff0800" stroke-width="9.6"/>
<path d="M221.8,214.5L233.0,212.3" stroke="#ff0800" stroke-width="9.8"/>
<path d="M233.0,212.3L248.5,209.0" stroke="#ff0800" stroke-width="9.6"/>
<path d="M248.5,209.0L259.7,206.7" stroke="#ff0800" stroke-width="9.1"/>
<path d="M259.7,206.7L290.0,199.8" stroke="#ff0800" stroke-width="8.5"/>
<path d="M290.0,199.8L301.2,196.3" stroke="#ff0800" stroke-width="7.9"/>
<path d="M301.2,196.3L312.5,192.7" stroke="#ff0800" stroke-width="7.4"/>
<path d="M312.5,192.7L323.7,189.3" stroke="#ff0800" stroke-width="7.0"/>
<path d="M323.7,189.3L335.0,186.5" stroke="#ff0800" stroke-width="6.5"/>
<path d="M335.0,186.5L344.5,184.7" stroke="#ff0800" stroke-width="6.0"/>
<path d="M347.0,183.7L349.9,182.9" stroke="#ff0800" stroke-width="2.6" fill="none"/>
<path d="M352.0,182.2L354.0,181.6" stroke="#ff0800" stroke-width="2.6" fill="none"/>
<path d="M356.0,181.2L358.5,180.5" stroke="#ff0800" stroke-width="2.6" fill="none"/>
<path d="M361.1,179.8L362.9,179.3" stroke="#ff0800" stroke-width="2.6" fill="none"/>
<path d="M366.5,178.1L368.7,177.5" stroke="#ff0800" stroke-width="2.6" fill="none"/>
<path d="M370.9,176.8L372.9,176.2" stroke="#ff0800" stroke-width="2.6" fill="none"/>
<path d="M86.6,261.2L91.0,262.6" stroke="#ff0800" stroke-width="3.3"/>
<path d="M132.9,154.0L144.0,155.8" stroke="#ff0800" stroke-width="2.2"/>
<path d="M144.0,155.8L155.1,156.7" stroke="#ff0800" stroke-width="2.9"/>
<path d="M155.1,156.7L166.2,155.1" stroke="#ff0800" stroke-width="3.3"/>
<path d="M166.2,155.1L177.4,152.5" stroke="#ff0800" stroke-width="3.6"/>
<path d="M177.4,152.5L182.2,151.4" stroke="#ff0800" stroke-width="2.2"/>
<path d="M182.2,151.4L188.5,150.5" stroke="#ff0800" stroke-width="2.9"/>
<path d="M188.5,150.5L192.9,149.6" stroke="#ff0800" stroke-width="5.1"/>
<path d="M192.9,149.6L206.3,146.0" stroke="#ff0800" stroke-width="5.6"/>
<path d="M206.3,146.0L211.8,144.5" stroke="#ff0800" stroke-width="3.6"/>
<path d="M211.8,144.5L221.8,141.1" stroke="#ff0800" stroke-width="3.8"/>
<path d="M221.8,141.1L230.7,137.8" stroke="#ff0800" stroke-width="6.2"/>
<path d="M230.7,137.8L235.2,136.2" stroke="#ff0800" stroke-width="3.8"/>
<path d="M235.2,136.2L244.1,134.0" stroke="#ff0800" stroke-width="3.8"/>
<path d="M244.1,134.0L255.2,131.1" stroke="#ff0800" stroke-width="6.0"/>
<path d="M255.2,131.1L255.0,129.2" stroke="#ff0800" stroke-width="5.1"/>
<path d="M255.0,129.2L264.8,123.6" stroke="#ff0800" stroke-width="4.5"/>
<path d="M264.8,123.6L274.7,118.9" stroke="#ff0800" stroke-width="3.9"/>
<path d="M274.7,118.9L277.0,117.3" stroke="#ff0800" stroke-width="2.2"/>
<path d="M184.0,215.1V225.5" stroke="#d08000" stroke-width="0.9" stroke-linecap="butt"/>
<path d="M213.0,211.2V220.9" stroke="#d08000" stroke-width="0.9" stroke-linecap="butt"/>
<path d="M239.6,206.0V215.8" stroke="#d08000" stroke-width="0.9" stroke-linecap="butt"/>
<path d="M259.7,202.2V211.3" stroke="#d08000" stroke-width="0.9" stroke-linecap="butt"/>
<path d="M259.4,202.2V211.3" stroke="#a03000" stroke-width="0.8" stroke-linecap="butt"/>
<path d="M261.7,201.7V210.8" stroke="#a03000" stroke-width="0.8" stroke-linecap="butt"/>
<path d="M136.2,152.2V155.8" stroke="#f0e000" stroke-width="1.1" stroke-linecap="butt"/>
<path d="M142.2,154.5V158.0" stroke="#f0e000" stroke-width="1.1" stroke-linecap="butt"/>
<path d="M148.4,153.6V157.1" stroke="#f0e000" stroke-width="1.1" stroke-linecap="butt"/>
<path d="M154.4,155.8V159.4" stroke="#f0e000" stroke-width="1.1" stroke-linecap="butt"/>
<path d="M160.9,153.6V157.1" stroke="#f0e000" stroke-width="1.1" stroke-linecap="butt"/>
<path d="M167.3,154.0V157.6" stroke="#f0e000" stroke-width="1.1" stroke-linecap="butt"/>
<path d="M172.9,151.4V154.9" stroke="#f0e000" stroke-width="1.1" stroke-linecap="butt"/>
<path d="M178.5,151.1V154.7" stroke="#f0e000" stroke-width="1.1" stroke-linecap="butt"/>
<path d="M390.9,98.0V117.0" stroke="#f02000" stroke-width="1.1" stroke-linecap="butt"/>
<path d="M390.9,117.0V139.0" stroke="#e05000" stroke-width="1.0" stroke-linecap="butt"/>
</g></g>
<rect x="57.5" y="239.6" width="6.5" height="1.2" fill="#eee"/>
<rect x="57.5" y="184.4" width="6.5" height="1.2" fill="#eee"/>
<rect x="57.5" y="129.2" width="6.5" height="1.2" fill="#eee"/>
<rect x="57.5" y="74.0" width="6.5" height="1.2" fill="#eee"/>
<rect x="64.5" y="289.2" width="1.2" height="5" fill="#eee"/>
<rect x="119.4" y="289.2" width="1.2" height="5" fill="#eee"/>
<rect x="188.0" y="289.2" width="1.2" height="5" fill="#eee"/>
<rect x="256.6" y="289.2" width="1.2" height="5" fill="#eee"/>
<rect x="325.2" y="289.2" width="1.2" height="5" fill="#eee"/>
<rect x="393.8" y="289.2" width="1.2" height="5" fill="#eee"/>
<text class="ax" x="48" y="306.4" text-anchor="end">0</text>
<text class="ax" x="48" y="252.4" text-anchor="end">2</text>
<text class="ax" x="48" y="197.2" text-anchor="end">4</text>
<text class="ax" x="48" y="142.0" text-anchor="end">6</text>
<text class="ax" x="48" y="86.8" text-anchor="end">8</text>
<text class="ax" x="48" y="31.6" text-anchor="end">10</text>
<text class="ax" x="63.8" y="309.8">1</text>
<text class="ax" x="118.7" y="309.8">5</text>
<text class="ax" x="187.3" y="309.8">10</text>
<text class="ax" x="255.9" y="309.8">15</text>
<text class="ax" x="324.5" y="309.8">20</text>
<text class="ax" x="393.1" y="309.8">25</text>
<text class="ax" x="462.6" y="309.8">30</text>
<text class="ax" x="204" y="328.6">FREQUENCY [MHz]</text>
<text class="ax" transform="translate(33,232.5) rotate(-90) scale(0.866,1.16)">HEIGHT [100km]</text>
<text class="st" x="19.6" y="346.3">Yamagawa 2025/11/12 12:50:00 (JST=GMT+9)</text>
<g fill="none" stroke="#222" stroke-width="1.1">
<circle cx="437.1" cy="325.8" r="13.6"/>
<path d="M425.70000000000005,318.8 L437.1,325.8 L441.0,318.2"/>
<path d="M437.1,311.4 v1.8 M437.1,338.40000000000003 v1.8 M422.7,325.8 h1.8 M449.70000000000005,325.8 h1.8"/>
</g>
</g>
<g transform="translate(493.5,363)">
<rect x="57.5" y="20" width="405.5" height="274.2" fill="#000"/>
<rect x="64" y="20" width="399" height="260.5" fill="#151515"/>
<rect x="64" y="20" width="399" height="260.5" fill="url(#noise)"/>
<g fill="none" stroke-linecap="round" clip-path="url(#pc)"><g filter="url(#bl)">
<path d="M105.7,227.9L112.3,223.0" stroke="#38f800" stroke-width="7.4"/>
<path d="M112.3,223.0L119.0,218.1" stroke="#38f800" stroke-width="9.5"/>
<path d="M119.0,218.1L125.7,215.9" stroke="#38f800" stroke-width="11.2"/>
<path d="M125.7,215.9L134.6,217.2" stroke="#38f800" stroke-width="13.2"/>
<path d="M134.6,217.2L143.5,220.1" stroke="#38f800" stroke-width="14.6"/>
<path d="M143.5,220.1L154.6,221.2" stroke="#38f800" stroke-width="15.0"/>
<path d="M154.6,221.2L165.7,221.2" stroke="#38f800" stroke-width="14.8"/>
<path d="M165.7,221.2L176.9,219.7" stroke="#38f800" stroke-width="14.6"/>
<path d="M176.9,219.7L192.4,216.3" stroke="#38f800" stroke-width="14.1"/>
<path d="M192.4,216.3L203.5,212.8" stroke="#38f800" stroke-width="13.7"/>
<path d="M203.5,212.8L221.3,205.6" stroke="#38f800" stroke-width="13.5"/>
<path d="M221.3,205.6L232.5,200.1" stroke="#38f800" stroke-width="13.0"/>
<path d="M232.5,200.1L248.0,192.3" stroke="#38f800" stroke-width="12.6"/>
<path d="M248.0,192.3L256.9,187.4" stroke="#38f800" stroke-width="12.1"/>
<path d="M256.9,187.4L264.5,183.4" stroke="#38f800" stroke-width="11.9"/>
<path d="M264.5,183.4L266.5,181.3" stroke="#38f800" stroke-width="10.8"/>
<path d="M266.5,181.3L274.9,174.6" stroke="#38f800" stroke-width="9.3"/>
<path d="M274.9,174.6L283.2,167.1" stroke="#38f800" stroke-width="8.3"/>
<path d="M283.2,167.1L289.9,160.5" stroke="#38f800" stroke-width="6.8"/>
<path d="M289.9,160.5L294.9,152.9" stroke="#38f800" stroke-width="5.3"/>
<path d="M294.9,152.9L299.1,143.8" stroke="#38f800" stroke-width="4.3"/>
<path d="M299.1,143.8L302.4,133.7" stroke="#38f800" stroke-width="3.8"/>
<path d="M302.4,133.7L305.0,123.7" stroke="#38f800" stroke-width="3.6"/>
<path d="M305.0,123.7L306.6,113.7" stroke="#38f800" stroke-width="2.0"/>
<path d="M293.6,150.8L297.4,142.1" stroke="#38f800" stroke-width="1.9"/>
<path d="M297.4,142.1L300.8,130.4" stroke="#38f800" stroke-width="1.9"/>
<path d="M300.8,130.4L302.9,120.4" stroke="#38f800" stroke-width="1.9"/>
<path d="M302.9,120.4L304.3,112.0" stroke="#38f800" stroke-width="1.8"/>
<path d="M87.9,262.1L110.1,262.6" stroke="#38f800" stroke-width="6.7"/>
<path d="M91.4,262.4L98.1,262.6" stroke="#38f800" stroke-width="7.0"/>
<path d="M104.8,262.6L107.9,262.6" stroke="#38f800" stroke-width="6.6"/>
<path d="M97.9,256.8L100.1,252.8" stroke="#38f800" stroke-width="3.2"/>
<path d="M93.4,234.6L97.2,233.7" stroke="#38f800" stroke-width="3.4"/>
<path d="M90.8,210.1L91.9,213.4" stroke="#38f800" stroke-width="2.4"/>
<path d="M121.3,146.5V150.3M136.0,150.9V159.2M137.3,148.9V158.8M140.0,151.2V160.7M144.0,151.8V160.2M145.3,151.7V160.8M146.6,148.6V160.5M154.6,151.1V160.7M156.0,151.2V159.7M158.6,147.0V160.1" stroke="#30e800" stroke-width="1.45" stroke-linecap="butt"/>
<path d="M122.6,147.1V151.7M125.3,145.9V154.5M126.6,145.5V155.7M129.3,146.1V156.8M134.6,148.0V158.7M141.3,148.4V160.4M142.6,151.3V160.7M150.6,151.4V160.6M153.3,151.5V160.8" stroke="#58f800" stroke-width="1.45" stroke-linecap="butt"/>
<path d="M124.0,145.4V152.4M128.0,149.3V155.3M130.6,148.6V157.1M132.0,150.1V157.1M133.3,150.6V157.7M138.6,147.6V159.8M149.3,148.8V161.7M152.0,149.3V160.6M157.3,148.5V161.1" stroke="#90f000" stroke-width="1.45" stroke-linecap="butt"/>
<path d="M129.0,153.1L136.8,155.8" stroke="#38f800" stroke-width="5.7"/>
<path d="M136.8,155.8L147.9,156.9" stroke="#38f800" stroke-width="7.0"/>
<path d="M147.9,156.9L159.1,155.8" stroke="#38f800" stroke-width="7.9"/>
<path d="M159.1,155.8L170.2,152.2" stroke="#38f800" stroke-width="9.5"/>
<path d="M170.2,152.2L179.1,148.9" stroke="#38f800" stroke-width="10.6"/>
<path d="M179.1,148.9L184.2,146.9" stroke="#38f800" stroke-width="7.4"/>
<path d="M184.2,146.9L192.4,143.3" stroke="#38f800" stroke-width="7.9"/>
<path d="M192.4,143.3L201.3,137.8" stroke="#38f800" stroke-width="11.2"/>
<path d="M201.3,137.8L210.2,132.2" stroke="#38f800" stroke-width="10.8"/>
<path d="M210.2,132.2L202.1,137.0" stroke="#38f800" stroke-width="10.1"/>
<path d="M202.1,137.0L210.0,132.1" stroke="#38f800" stroke-width="9.1"/>
<path d="M210.0,132.1L212.9,130.1" stroke="#38f800" stroke-width="6.2"/>
<path d="M212.9,130.1L219.8,125.2" stroke="#38f800" stroke-width="5.9"/>
<path d="M219.8,125.2L227.7,119.3" stroke="#38f800" stroke-width="7.5"/>
<path d="M227.7,119.3L235.6,112.4" stroke="#38f800" stroke-width="7.1"/>
<path d="M235.6,112.4L243.4,104.6" stroke="#38f800" stroke-width="6.9"/>
<path d="M243.4,104.6L251.3,96.7" stroke="#38f800" stroke-width="6.9"/>
<path d="M251.3,96.7L259.2,89.8" stroke="#38f800" stroke-width="6.7"/>
<path d="M259.2,89.8L254.5,93.7" stroke="#38f800" stroke-width="6.0"/>
<path d="M254.5,93.7L260.4,87.8" stroke="#38f800" stroke-width="4.7"/>
<path d="M265.3,80.8V85.5M266.6,76.0V83.6M269.3,76.4V80.3M270.6,75.4V78.9M281.3,59.8V67.2M282.6,59.5V64.9M285.3,58.5V62.4M294.6,40.9V46.3" stroke="#30e800" stroke-width="1.45" stroke-linecap="butt"/>
<path d="M267.9,77.8V81.4M271.9,73.7V78.5M274.6,71.1V74.7M275.9,66.6V74.0M277.3,65.1V71.6M278.6,64.8V70.0M283.9,59.3V63.4M286.6,55.9V60.4M291.9,48.0V51.1M295.9,40.0V43.6M297.3,36.5V39.3M298.6,33.7V37.0" stroke="#58f800" stroke-width="1.45" stroke-linecap="butt"/>
<path d="M263.9,81.0V86.8M273.3,72.0V77.0M287.9,51.5V57.3M289.3,51.1V55.9" stroke="#90f000" stroke-width="1.45" stroke-linecap="butt"/>
<path d="M174.6,138.9V140.6M150.6,148.4V151.4M225.3,116.3V119.7M184.0,138.5V141.9M176.0,134.7V136.9M215.9,123.5V126.6M152.0,147.2V149.6M172.0,140.1V148.3M203.9,119.0V120.6M219.9,114.1V116.3M136.0,145.8V153.8M234.6,108.1V111.6M141.3,147.6V151.8M227.9,104.8V108.3M222.6,116.6V118.3M225.3,101.8V105.3M210.6,124.9V130.4M206.6,125.8V129.8M174.6,141.2V145.1M237.3,105.1V109.5M227.9,113.5V115.9M231.9,111.7V115.5M207.9,127.0V130.4M245.3,96.0V99.1M144.0,147.7V150.1M184.0,143.0V145.3M157.3,146.4V153.4M258.6,86.5V90.0M225.3,113.3V120.2M194.6,131.8V139.0M121.3,144.3V145.8M184.0,140.8V142.9M150.6,146.9V150.0M157.3,149.7V153.4M137.3,150.9V153.9M121.3,144.9V146.9M237.3,106.7V109.7M229.3,110.9V114.3M190.6,134.7V142.6M257.3,84.1V87.7M247.9,88.5V91.2M169.3,143.7V147.3M217.3,115.0V119.4M229.3,105.8V109.6M214.6,120.7V129.0M173.3,139.2V141.0M209.3,127.6V130.8M158.6,147.3V150.4M164.0,145.0V148.6M133.3,139.7V143.7M145.3,142.5V145.4M121.3,137.7V139.8M239.9,90.4V94.8M189.3,136.6V138.4M137.3,146.9V153.9M190.6,137.7V142.1M181.3,138.0V146.5M209.3,123.3V127.5M231.9,110.7V112.3M231.9,108.8V111.6M207.9,126.6V128.9M235.9,108.8V111.9M193.3,135.7V139.5M188.0,126.0V129.7M258.6,80.6V82.1M146.6,146.0V147.4M242.6,98.0V101.7M144.0,144.0V147.0M242.6,99.2V102.9M211.9,121.2V125.2M245.3,95.8V101.0M205.3,119.4V123.2M246.6,94.3V97.6M164.0,146.4V151.9M258.6,78.5V80.3M259.9,78.6V81.0M213.3,114.5V117.6M229.3,113.1V116.2M173.3,136.6V140.6" stroke="#25e000" stroke-width="1.3" stroke-linecap="butt"/>
<path d="M223.9,115.5V120.3M239.9,103.2V106.3M192.0,132.8V135.1M178.6,134.0V136.5M241.3,102.7V104.5M222.6,106.5V109.7M133.3,138.7V141.9M149.3,145.8V150.1M148.0,149.4V152.5M258.6,78.4V81.5M253.3,85.0V88.2M258.6,84.1V90.0M207.9,122.3V125.6M126.6,140.7V144.7M222.6,117.4V119.2M136.0,144.1V148.2M140.0,138.4V140.1M158.6,143.1V147.6M254.6,82.7V84.3M188.0,137.0V139.4M144.0,145.4V147.9M172.0,140.5V144.9M152.0,145.7V149.3M181.3,129.2V133.5M201.3,125.2V129.6M134.6,145.5V148.5M241.3,89.8V94.3M218.6,117.9V121.4M254.6,85.7V88.3M156.0,143.1V147.4M189.3,134.3V136.5M196.0,121.7V124.0M219.9,113.6V116.7M258.6,85.2V86.7M157.3,150.3V153.4M250.6,92.3V94.1M250.6,89.2V93.1M242.6,92.4V96.6M206.6,128.5V131.5M134.6,145.5V148.7M189.3,134.4V136.6M121.3,130.8V135.0M188.0,138.5V140.5M189.3,135.9V140.0M173.3,135.6V138.1M259.9,82.8V86.2M251.9,91.4V92.9M257.3,85.4V87.1M184.0,140.1V142.8M211.9,127.4V130.6M222.6,112.1V113.4M173.3,140.1V142.0M180.0,140.5V144.6M257.3,84.0V85.4M132.0,144.5V148.5M202.6,127.1V129.6M193.3,130.9V133.0M257.3,80.7V84.5M253.3,89.6V91.4M227.9,110.0V114.4" stroke="#50f800" stroke-width="1.3" stroke-linecap="butt"/>
<path d="M196.0,132.6V136.7M237.3,104.9V108.6M136.0,148.7V152.0M209.3,126.8V129.8M203.9,125.7V133.1M189.3,138.1V140.6M125.3,142.6V151.0M206.6,128.8V132.0M253.3,88.7V95.0M211.9,125.3V130.5M144.0,145.7V154.3M254.6,86.9V90.5M233.3,110.1V113.1M178.6,139.1V143.6M245.3,99.2V102.3M162.6,146.8V152.1M197.3,134.7V137.7M170.6,143.9V149.2M180.0,139.2V143.3M130.6,147.7V150.5M222.6,117.5V120.1M209.3,126.4V129.0M196.0,131.4V137.8M180.0,141.5V144.8M178.6,142.7V146.2M176.0,140.7V144.7M202.6,129.5V131.8M230.6,111.1V116.3M245.3,99.3V102.3M197.3,131.4V135.3M225.3,115.2V120.6M186.6,139.8V144.2M185.3,141.5V146.9M154.6,147.4V151.6M149.3,151.4V154.4M227.9,114.8V116.6M196.0,132.2V137.8M251.9,90.6V93.5M258.6,85.9V89.5M202.6,127.8V132.0M246.6,96.7V100.4M231.9,109.2V114.4M148.0,150.4V152.9M207.9,125.7V131.2M214.6,122.1V126.6M133.3,149.9V151.5M247.9,91.7V96.1M217.3,122.5V126.8M201.3,129.8V134.6M237.3,102.8V109.1M134.6,147.1V151.2" stroke="#a8f000" stroke-width="1.3" stroke-linecap="butt"/>
<path d="M290.6,46.9V48.6M285.3,56.3V62.4M289.3,39.2V43.6M285.3,53.6V58.0M289.3,52.3V54.9M293.3,45.4V48.5M270.6,68.7V72.9M281.3,61.6V64.2M262.6,75.9V78.6M281.3,60.0V64.4M277.3,61.3V65.2M263.9,76.1V84.0M278.6,64.6V69.9M298.6,19.0V22.9M293.3,44.1V46.2M275.9,70.3V74.8M271.9,72.4V75.4M270.6,70.1V72.5M275.9,65.8V68.5" stroke="#25e000" stroke-width="1.3" stroke-linecap="butt"/>
<path d="M297.3,32.9V34.7M290.6,42.7V44.0M293.3,40.0V43.8M282.6,54.7V59.1M269.3,73.2V76.0M270.6,74.1V79.0M286.6,47.3V51.4M269.3,68.6V73.0M263.9,69.6V71.0M297.3,34.4V38.2M289.3,44.5V48.0M275.9,65.2V68.8M281.3,56.3V59.8M279.9,60.1V66.6" stroke="#50f800" stroke-width="1.3" stroke-linecap="butt"/>
<path d="M281.3,59.0V62.3M269.3,73.5V77.3M294.6,42.4V46.3M266.6,79.8V83.2M287.9,51.8V54.8M269.3,75.3V77.2M275.9,70.1V73.4M285.3,54.8V61.3M263.9,78.4V82.0M265.3,75.4V81.1M279.9,60.3V63.8M285.3,60.7V63.7" stroke="#a8f000" stroke-width="1.3" stroke-linecap="butt"/>
<path d="M129.3,86.5V92.5M132.0,84.6V92.7M133.3,86.9V92.4M134.6,86.1V93.5M140.0,84.8V93.7M141.3,87.4V93.9M145.3,87.5V93.3M150.6,87.4V92.8M153.3,85.7V92.0M160.0,82.8V89.1M162.6,81.6V88.4M164.0,82.8V88.6M165.3,81.7V88.0M166.6,79.0V87.2M169.3,77.4V85.5M177.3,75.3V82.1M178.6,75.2V81.6M181.3,74.7V80.8M184.0,72.2V77.7M185.3,71.3V76.3M190.6,66.0V75.2M196.0,61.8V72.3M197.3,59.4V70.9M198.6,60.0V71.2M199.9,59.2V69.6M201.3,57.0V68.4M202.6,56.2V68.1M205.3,51.4V64.8M206.6,52.6V62.6M219.9,36.4V47.7M226.6,27.2V38.4M230.6,22.8V33.8M231.9,19.8V30.8" stroke="#30e800" stroke-width="1.45" stroke-linecap="butt"/>
<path d="M137.3,86.0V93.6M146.6,85.7V92.5M148.0,87.6V93.6M149.3,86.6V93.4M152.0,86.6V91.8M154.6,83.4V92.1M157.3,82.2V90.1M168.0,81.0V87.1M173.3,76.9V84.6M180.0,75.3V80.9M182.6,73.7V80.1M186.6,71.2V75.4M194.6,63.4V73.0M209.3,50.3V60.4M211.9,49.3V54.5M214.6,46.0V52.9M215.9,43.8V51.9M222.6,33.1V44.7M223.9,28.5V42.7M225.3,28.2V41.8M229.3,23.8V35.2" stroke="#58f800" stroke-width="1.45" stroke-linecap="butt"/>
<path d="M136.0,86.7V93.6M138.6,85.2V93.4M142.6,84.4V92.8M156.0,84.2V91.3M161.3,82.0V89.3M170.6,77.7V85.1M172.0,78.6V85.1M174.6,77.9V83.2M176.0,75.2V82.9M188.0,66.6V75.9M189.3,64.9V75.7M192.0,64.3V75.1M193.3,61.1V74.3M210.6,48.8V57.3M213.3,46.4V52.3M218.6,35.6V49.9M221.3,33.7V45.9M227.9,26.0V37.0M233.3,20.2V30.0M234.6,18.7V28.4M235.9,15.4V25.5M237.3,13.9V23.7" stroke="#90f000" stroke-width="1.45" stroke-linecap="butt"/>
<path d="M188.3,72.5L192.3,70.1" stroke="#38f800" stroke-width="5.7"/>
<path d="M192.3,70.1L202.1,63.2" stroke="#38f800" stroke-width="7.9"/>
<path d="M202.1,63.2L209.0,55.3" stroke="#38f800" stroke-width="6.7"/>
<path d="M132.8,90.0L135.6,90.4" stroke="#38f800" stroke-width="3.9"/>
<path d="M144.6,91.0L147.0,90.8" stroke="#38f800" stroke-width="3.9"/>
<path d="M170.6,82.9L174.6,80.9" stroke="#38f800" stroke-width="3.9"/>
<path d="M178.1,79.4L180.5,78.0" stroke="#38f800" stroke-width="3.9"/>
<path d="M151.3,90.0L152.5,89.8" stroke="#38f800" stroke-width="3.9"/>
<path d="M216.9,47.5L225.7,34.7" stroke="#38f800" stroke-width="4.6"/>
<path d="M225.7,34.7L231.6,26.8" stroke="#38f800" stroke-width="4.8"/>
<path d="M231.6,26.8L236.6,20.9" stroke="#38f800" stroke-width="4.1"/>
<path d="M162.6,82.0V84.7M178.6,66.3V69.9M136.0,83.3V89.7M157.3,83.0V87.7M172.0,77.3V82.0M156.0,83.9V87.2M150.6,83.0V89.8M129.3,84.5V86.0M157.3,84.4V87.6M156.0,81.9V85.6M129.3,85.3V89.3M176.0,74.6V78.2M160.0,81.0V82.6M166.6,78.5V84.3M150.6,84.1V87.9M150.6,85.8V89.8M161.3,73.6V75.4M180.0,75.0V78.1M161.3,82.8V86.2M154.6,84.3V88.7M144.0,87.1V90.2M161.3,80.0V84.2M132.0,83.3V84.9M142.6,85.4V87.8M168.0,76.8V83.3M168.0,75.4V77.1M170.6,78.8V81.0M176.0,70.9V75.2M148.0,85.1V86.6M150.6,86.7V89.7M149.3,83.7V87.6M169.3,79.9V81.8M133.3,85.5V88.0M140.0,80.1V83.1M156.0,83.5V85.2" stroke="#25e000" stroke-width="1.3" stroke-linecap="butt"/>
<path d="M142.6,82.7V86.7M144.0,80.1V82.1M138.6,83.8V86.6M145.3,76.2V80.1M160.0,80.6V83.9M130.6,76.6V78.3M180.0,68.8V72.6M148.0,82.9V85.7M162.6,81.1V82.6M136.0,83.6V85.5M178.6,67.9V70.6M130.6,85.3V86.7M142.6,78.5V82.6M162.6,80.8V85.9" stroke="#50f800" stroke-width="1.3" stroke-linecap="butt"/>
<path d="M174.6,75.7V80.2M145.3,85.5V89.1M162.6,79.8V85.4M150.6,83.6V87.4M182.6,70.9V76.4M166.6,78.8V84.2M137.3,86.1V89.7M136.0,84.3V87.5M165.3,79.3V83.8M162.6,82.7V85.9M141.3,83.7V90.1" stroke="#a8f000" stroke-width="1.3" stroke-linecap="butt"/>
<path d="M230.6,22.7V24.7M193.3,60.7V65.0M197.3,60.5V62.9M197.3,61.8V64.4M217.3,39.0V43.2M218.6,36.6V40.2M227.9,27.7V31.2M213.3,49.4V51.5M226.6,25.3V27.4M219.9,36.6V38.5M207.9,50.2V51.6M203.9,52.0V55.9M223.9,29.5V33.5M218.6,40.1V44.2M213.3,47.7V50.0M201.3,59.2V61.6M202.6,54.0V55.4M209.3,47.7V52.1M219.9,35.3V39.0M196.0,57.3V59.9" stroke="#25e000" stroke-width="1.3" stroke-linecap="butt"/>
<path d="M214.6,47.0V48.5M211.9,44.8V47.6M237.3,13.5V17.2M230.6,20.1V22.0M213.3,45.5V49.7M199.9,57.0V59.0M225.3,26.8V28.7M235.9,13.3V17.2M234.6,18.5V19.8M215.9,40.4V44.7M205.3,49.9V54.2M223.9,30.8V33.3" stroke="#50f800" stroke-width="1.3" stroke-linecap="butt"/>
<path d="M211.9,50.0V52.1M207.9,53.4V55.7M209.3,51.1V53.1M221.3,34.1V37.7M194.6,61.9V65.0M201.3,58.7V61.4M202.6,58.6V61.0M206.6,53.6V55.8" stroke="#a8f000" stroke-width="1.3" stroke-linecap="butt"/>
<path d="M138.1,23.9L140.1,23.9" stroke="#38f800" stroke-width="3.7"/>
<path d="M154.5,23.3L156.8,23.3" stroke="#38f800" stroke-width="4.1"/>
<path d="M131.7,20.0V62.0" stroke="#90d000" stroke-width="1.3" stroke-linecap="butt"/>
<path d="M123.8,113.4V139.0" stroke="#40c000" stroke-width="1.3" stroke-linecap="butt"/>
<path d="M104.1,74.0V107.0" stroke="#30c000" stroke-width="1.3" stroke-linecap="butt"/>
<path d="M104.1,111.0V142.0" stroke="#30c000" stroke-width="1.3" stroke-linecap="butt"/>
<path d="M104.1,145.0V149.0" stroke="#2cb000" stroke-width="1.3" stroke-linecap="butt"/>
<path d="M104.1,153.0V157.0" stroke="#2cb000" stroke-width="1.3" stroke-linecap="butt"/>
<path d="M104.1,161.0V165.0" stroke="#2cb000" stroke-width="1.3" stroke-linecap="butt"/>
<path d="M146.0,70.0V143.0" stroke="#40c000" stroke-width="1.3" stroke-linecap="butt"/>
<path d="M124.1,254.6V280.5" stroke="#40c000" stroke-width="1.3" stroke-linecap="butt"/>
<path d="M145.7,159.0V164.0" stroke="#2ca000" stroke-width="1.3" stroke-linecap="butt"/>
<path d="M145.7,168.0V173.0" stroke="#2ca000" stroke-width="1.3" stroke-linecap="butt"/>
<path d="M145.7,177.0V182.0" stroke="#2ca000" stroke-width="1.3" stroke-linecap="butt"/>
<path d="M145.7,186.0V191.0" stroke="#2ca000" stroke-width="1.3" stroke-linecap="butt"/>
<path d="M145.7,195.0V200.0" stroke="#2ca000" stroke-width="1.3" stroke-linecap="butt"/>
<path d="M145.7,204.0V209.0" stroke="#2ca000" stroke-width="1.3" stroke-linecap="butt"/>
<path d="M145.7,213.0V218.0" stroke="#2ca000" stroke-width="1.3" stroke-linecap="butt"/>
<path d="M145.7,222.0V227.0" stroke="#2ca000" stroke-width="1.3" stroke-linecap="butt"/>
<path d="M145.7,231.0V236.0" stroke="#2ca000" stroke-width="1.3" stroke-linecap="butt"/>
<path d="M145.7,240.0V245.0" stroke="#2ca000" stroke-width="1.3" stroke-linecap="butt"/>
<path d="M435.2,20.0V32.7" stroke="#40d000" stroke-width="1.3" stroke-linecap="butt"/>
<path d="M335.2,106.5V127.0" stroke="#40d000" stroke-width="1.3" stroke-linecap="butt"/>
<path d="M274.2,20.0V24.0" stroke="#40d000" stroke-width="1.3" stroke-linecap="butt"/>
<path d="M362.8,122.0V131.0" stroke="#40d000" stroke-width="1.3" stroke-linecap="butt"/>
<path d="M330.8,149.0V176.7" stroke="#70d000" stroke-width="1.3" stroke-linecap="butt"/>
<path d="M330.8,203.4V280.5" stroke="#40c000" stroke-width="1.3" stroke-linecap="butt"/>
<path d="M424.7,172.0V174.6" stroke="#30c000" stroke-width="1.3" stroke-linecap="butt"/>
<path d="M424.7,176.0V178.6" stroke="#30c000" stroke-width="1.3" stroke-linecap="butt"/>
<path d="M424.7,180.0V182.6" stroke="#30c000" stroke-width="1.3" stroke-linecap="butt"/>
<path d="M424.7,184.0V186.6" stroke="#30c000" stroke-width="1.3" stroke-linecap="butt"/>
<path d="M424.7,188.0V190.6" stroke="#30c000" stroke-width="1.3" stroke-linecap="butt"/>
<path d="M424.7,192.0V194.6" stroke="#30c000" stroke-width="1.3" stroke-linecap="butt"/>
<path d="M424.7,196.0V198.6" stroke="#30c000" stroke-width="1.3" stroke-linecap="butt"/>
<path d="M424.7,200.0V202.6" stroke="#30c000" stroke-width="1.3" stroke-linecap="butt"/>
<path d="M424.7,204.0V206.6" stroke="#30c000" stroke-width="1.3" stroke-linecap="butt"/>
<path d="M424.7,208.0V210.6" stroke="#30c000" stroke-width="1.3" stroke-linecap="butt"/>
<path d="M424.7,212.0V214.6" stroke="#30c000" stroke-width="1.3" stroke-linecap="butt"/>
<path d="M424.7,216.0V218.6" stroke="#30c000" stroke-width="1.3" stroke-linecap="butt"/>
<path d="M424.7,220.0V222.6" stroke="#30c000" stroke-width="1.3" stroke-linecap="butt"/>
<path d="M424.7,224.0V226.6" stroke="#30c000" stroke-width="1.3" stroke-linecap="butt"/>
<path d="M424.7,228.0V230.6" stroke="#30c000" stroke-width="1.3" stroke-linecap="butt"/>
<path d="M424.7,232.0V234.6" stroke="#30c000" stroke-width="1.3" stroke-linecap="butt"/>
<path d="M424.7,236.0V238.6" stroke="#30c000" stroke-width="1.3" stroke-linecap="butt"/>
<path d="M424.7,240.0V242.6" stroke="#30c000" stroke-width="1.3" stroke-linecap="butt"/>
<path d="M424.7,244.0V246.6" stroke="#30c000" stroke-width="1.3" stroke-linecap="butt"/>
<path d="M424.7,248.0V250.6" stroke="#30c000" stroke-width="1.3" stroke-linecap="butt"/>
<path d="M424.7,252.0V254.6" stroke="#30c000" stroke-width="1.3" stroke-linecap="butt"/>
<path d="M424.7,256.0V258.6" stroke="#30c000" stroke-width="1.3" stroke-linecap="butt"/>
<path d="M424.7,260.0V262.6" stroke="#30c000" stroke-width="1.3" stroke-linecap="butt"/>
<path d="M424.7,264.0V266.6" stroke="#30c000" stroke-width="1.3" stroke-linecap="butt"/>
<path d="M424.7,268.0V270.6" stroke="#30c000" stroke-width="1.3" stroke-linecap="butt"/>
<path d="M424.7,272.0V274.6" stroke="#30c000" stroke-width="1.3" stroke-linecap="butt"/>
<path d="M424.7,276.0V278.6" stroke="#30c000" stroke-width="1.3" stroke-linecap="butt"/>
<path d="M424.7,217.0V280.5" stroke="#30c000" stroke-width="1.3" stroke-linecap="butt"/>
<path d="M437.4,193.0V197.0" stroke="#30c000" stroke-width="1.3" stroke-linecap="butt"/>
<path d="M437.4,199.0V203.0" stroke="#30c000" stroke-width="1.3" stroke-linecap="butt"/>
<path d="M437.4,205.0V209.0" stroke="#30c000" stroke-width="1.3" stroke-linecap="butt"/>
<path d="M437.4,211.0V215.0" stroke="#30c000" stroke-width="1.3" stroke-linecap="butt"/>
<path d="M94.6,144.5v2.5M298.6,244.3v2.6M330.6,238.1v3.5M112.0,231.8v2.3M349.2,226.8v1.7M85.3,249.0v2.6M391.9,53.8v2.6M287.9,46.1v2.8M168.0,180.0v1.8M338.6,167.2v3.0M319.9,222.2v1.5M102.6,123.9v2.3M259.9,176.0v2.2M180.0,93.8v2.2M263.9,254.3v1.9M381.2,197.5v2.3M302.6,189.9v3.2M88.0,166.7v2.4M176.0,244.6v2.0M329.3,216.4v3.2M121.3,175.6v1.9M379.9,24.3v2.3M414.6,30.0v2.1M329.3,75.6v3.4M182.6,146.0v2.3M299.9,46.4v2.6M281.3,53.0v1.9M82.6,144.5v2.0M270.6,176.1v2.7M158.6,167.6v2.8M286.6,24.4v1.5M180.0,174.8v2.0M362.6,247.3v2.9M98.6,174.5v3.2M423.9,37.2v2.6M161.3,152.4v2.3M413.2,47.9v1.9M350.6,226.9v2.1M457.2,183.5v3.0M81.3,205.9v2.6M97.3,62.5v2.0M458.6,97.3v2.6M166.6,128.3v2.4M72.0,34.2v2.6M134.6,126.1v1.5M275.9,85.9v2.8M362.6,266.0v3.3M309.3,184.6v3.5M263.9,145.9v2.2M194.6,39.8v3.0M302.6,273.2v2.0M162.6,92.5v2.1M128.0,187.7v2.3M90.6,107.3v2.6M86.6,181.0v3.3M298.6,212.1v1.6M85.3,215.1v3.1M133.3,80.8v2.0M326.6,83.5v3.2M367.9,99.8v2.6M394.6,85.2v1.9M301.3,275.7v1.8M253.3,25.6v1.9M387.9,260.8v2.0M180.0,46.2v2.8M227.9,222.4v2.1M258.6,222.5v1.7M162.6,233.8v3.3M437.2,247.1v1.9M168.0,100.1v1.7M291.9,111.9v1.7M359.9,87.7v2.2M239.9,191.0v3.2M439.9,120.2v3.2M374.6,174.3v2.3M74.6,122.4v3.5M176.0,270.2v3.1M377.2,255.2v2.5M406.6,169.9v3.0M93.3,40.5v3.0M114.6,114.5v1.6M430.6,236.7v3.4M443.9,149.7v2.2M177.3,139.3v2.1M351.9,84.5v3.4M274.6,51.7v2.1M134.6,173.3v2.9M197.3,225.8v1.8M299.9,34.0v2.1M313.3,192.8v2.4M373.2,125.4v2.7M110.6,200.8v2.3M295.9,145.4v1.9M389.2,173.9v2.4M76.0,41.3v3.1M241.3,83.0v3.1M86.6,117.2v1.9M445.2,120.8v2.9M100.0,136.9v1.7M291.9,227.6v2.8M274.6,216.5v2.7M86.6,188.5v3.0M311.9,161.4v3.5M194.6,227.5v2.5M247.9,123.1v1.7M337.2,165.2v3.0M439.9,274.4v2.4M182.6,43.6v3.0M305.3,213.9v3.4M162.6,62.0v1.7M124.0,249.0v1.9M189.3,162.3v1.5M315.9,179.8v1.5M109.3,152.7v3.3M251.9,62.0v1.7M122.6,73.0v1.6M353.2,209.7v2.7M101.3,186.7v2.3M206.6,190.4v2.3M76.0,34.6v3.4M425.2,200.2v3.2M325.3,103.5v2.6M233.3,57.6v1.8M414.6,149.3v2.8M165.3,87.1v1.6M249.3,257.5v3.3M307.9,234.6v2.5M350.6,175.1v2.5M126.6,159.3v2.1M389.2,227.0v3.0M215.9,70.0v1.5M130.6,72.8v2.3M65.3,38.0v1.6M255.9,189.8v3.0M409.2,28.4v2.5M265.3,147.4v1.7M133.3,224.3v2.7M168.0,150.1v3.1M273.3,69.6v2.3M427.9,242.1v2.7M279.9,52.7v3.1M160.0,216.7v2.5M386.6,114.9v2.3M158.6,180.1v2.6M274.6,71.3v3.4M157.3,96.0v1.7M269.3,37.9v3.0M114.6,243.6v2.7M246.6,238.5v3.2M144.0,126.2v1.8M105.3,248.9v3.1M189.3,250.9v2.6M310.6,248.8v3.2M66.6,202.8v1.6M180.0,59.1v3.2M112.0,259.7v1.6M98.6,220.0v2.2M218.6,140.9v3.3M194.6,224.6v2.8M251.9,237.2v3.2M305.3,60.0v3.4M154.6,265.5v2.6M413.2,187.3v2.9M387.9,155.9v2.4M402.6,30.2v3.5M190.6,170.4v1.5M76.0,68.0v1.6M326.6,26.1v2.9M283.9,155.0v1.8M90.6,141.7v1.6M265.3,228.7v2.9M101.3,256.7v2.5M110.6,275.5v3.1M398.6,124.7v3.3M86.6,214.5v2.4M393.2,191.5v3.1M303.9,70.1v3.5M140.0,231.0v2.4M422.6,140.6v2.6M401.2,216.4v3.1M277.3,198.2v2.4M438.6,82.6v2.4M124.0,67.2v1.6M223.9,47.6v2.4M85.3,249.4v1.6M160.0,37.4v2.7M243.9,233.0v1.6M214.6,137.1v2.5M230.6,262.1v3.1M398.6,39.3v1.9M331.9,47.7v2.9M178.6,211.3v2.1M257.3,140.7v1.6M230.6,192.0v1.7M458.6,57.2v2.9M334.6,127.7v2.2M113.3,67.6v2.7M231.9,83.6v3.0M74.6,119.2v1.6M125.3,28.4v2.6M318.6,114.2v3.0M399.9,150.9v2.1M379.9,44.6v3.4M375.9,170.0v2.1M81.3,236.0v2.8M315.9,129.3v3.0M307.9,173.9v2.6M353.2,104.9v1.6M387.9,34.8v2.0M430.6,251.1v2.3M247.9,62.4v1.7M387.9,219.5v3.2M358.6,93.7v1.8M251.9,220.5v2.4M102.6,262.1v3.2M317.3,240.5v1.9M154.6,140.1v2.9M153.3,141.7v2.6M413.2,59.7v2.1M225.3,49.7v3.0M134.6,178.9v2.4M168.0,73.3v1.7M442.6,215.1v2.0M426.6,99.3v2.1M302.6,29.6v2.8M214.6,249.9v1.6M390.6,102.3v2.6M100.0,31.6v3.4M402.6,158.0v1.5M213.3,68.9v3.4M429.2,85.3v3.3M338.6,73.2v2.4M410.6,41.8v2.4M375.9,133.8v2.2M196.0,276.2v1.8M323.9,217.5v2.5M121.3,119.2v1.7M73.3,130.6v3.3M109.3,222.2v3.5M263.9,229.7v2.7M109.3,143.9v3.2M259.9,106.5v1.9M318.6,254.6v3.3M258.6,37.5v2.2M351.9,181.3v1.6M249.3,238.6v1.9M423.9,224.4v3.0M425.2,135.9v1.8M389.2,122.5v1.6M385.2,47.8v3.4M454.6,90.0v2.1M441.2,157.6v3.0M141.3,179.1v2.0M317.3,98.5v2.1M223.9,131.8v2.4M246.6,232.7v1.6M335.9,107.3v1.9M108.0,77.1v3.1M405.2,196.3v3.3M337.2,153.0v3.2M377.2,24.7v3.3M221.3,172.6v2.9M334.6,151.5v2.0M86.6,152.5v2.4M289.3,126.5v2.7M382.6,94.0v2.0M192.0,139.4v2.8M410.6,31.9v3.0M323.9,246.9v3.5M120.0,275.7v2.4M172.0,119.0v2.0M361.2,77.6v1.7M80.0,241.4v3.3M285.3,27.6v2.2M104.0,221.2v1.8M181.3,218.7v2.3M146.6,236.0v3.4M226.6,175.9v1.7M207.9,39.6v2.8M425.2,191.1v2.8M72.0,193.3v2.2M215.9,202.3v1.9M411.9,65.9v2.9M310.6,140.9v2.3M96.0,146.1v2.3M136.0,25.8v2.3M298.6,107.9v3.2M286.6,206.6v2.8M227.9,210.4v2.1M152.0,104.4v2.8M113.3,53.9v3.0M253.3,87.9v3.2M418.6,54.5v2.4M374.6,226.9v1.7M197.3,148.2v1.6M419.9,88.8v2.2M176.0,105.0v2.9M379.9,154.9v2.0M451.9,80.7v2.7M410.6,160.1v2.3M369.2,230.3v1.7M150.6,116.5v3.4M157.3,116.5v3.1M321.3,33.6v1.7M398.6,63.5v1.7M136.0,39.9v3.0M104.0,254.4v2.8M394.6,97.7v3.3M78.6,161.9v1.6M454.6,213.3v2.7M386.6,181.3v2.7M192.0,63.7v2.7M185.3,54.0v1.9M138.6,211.0v3.2M214.6,45.8v2.3M70.6,193.3v2.1M439.9,100.7v3.4M203.9,76.1v2.2M310.6,115.8v1.6M120.0,86.4v2.1M430.6,189.9v2.8M243.9,52.2v2.6M277.3,237.3v1.7M370.6,181.6v2.2M283.9,209.8v3.1M434.6,245.0v2.6M169.3,88.7v2.4M358.6,89.9v1.6M311.9,216.0v1.9M369.2,93.0v1.8M275.9,210.3v1.9M186.6,234.7v2.7M209.3,245.5v2.6M101.3,261.2v3.0M168.0,90.4v2.3M438.6,220.5v1.9M403.9,238.0v2.0M193.3,67.9v2.9M126.6,246.0v2.1M254.6,105.7v3.0M449.2,112.5v3.1M446.6,264.0v1.8M437.2,184.5v1.7M161.3,120.5v1.5M333.2,72.6v2.2M124.0,189.3v2.4M330.6,98.7v2.4M371.9,129.0v2.6M286.6,57.5v2.4M258.6,173.6v2.4M206.6,206.8v3.4M185.3,36.0v2.6M219.9,252.5v3.0M401.2,63.7v3.2M69.3,145.2v1.6M157.3,28.7v2.9M434.6,96.8v2.6M80.0,114.3v3.0M166.6,37.0v1.7M435.9,100.2v2.0M164.0,111.1v2.8M74.6,54.4v2.9M221.3,212.8v2.7M245.3,190.9v3.0M94.6,226.5v3.2M338.6,109.9v2.9M237.3,69.7v2.2M137.3,28.8v1.6M214.6,133.7v2.5M121.3,165.6v3.3M169.3,159.6v3.4M152.0,137.1v1.5M251.9,251.9v3.3M202.6,230.8v3.5M359.9,80.0v2.6M213.3,38.3v3.3M419.9,146.8v3.5M104.0,154.0v1.8M413.2,64.7v2.6M347.9,198.8v3.4M387.9,122.0v3.4M366.6,53.8v2.0M192.0,243.1v1.8M371.9,63.4v3.4M459.9,248.0v2.3M286.6,159.9v2.0M209.3,59.0v2.5M246.6,57.5v1.7M406.6,250.5v3.1M281.3,97.2v2.1M90.6,176.8v2.7M205.3,220.4v3.0M338.6,45.3v2.2M401.2,167.2v2.6M309.3,193.0v3.2M430.6,61.7v2.3M337.2,75.4v1.9M454.6,106.7v1.9M73.3,122.8v1.5M274.6,169.2v2.8M313.3,125.3v1.6M254.6,141.1v3.1M349.2,93.2v1.7M445.2,267.9v1.6M101.3,115.2v1.8M190.6,41.9v1.7M82.6,162.1v3.0M458.6,187.4v2.7M258.6,255.7v3.1M354.6,166.5v2.4M172.0,101.6v2.5M461.2,150.3v3.2M373.2,198.4v2.6M202.6,49.7v1.7M141.3,103.6v1.9M86.6,236.4v2.6M169.3,69.2v3.0M350.6,171.7v1.8M425.2,236.6v2.0M385.2,213.7v2.0M314.6,196.0v2.7M160.0,145.5v2.8M265.3,75.4v2.8M201.3,155.5v2.9M299.9,199.8v3.0M218.6,256.2v3.5M85.3,109.5v2.6M305.3,254.2v2.3M255.9,276.0v2.2M128.0,205.8v1.6M207.9,102.0v2.0M162.6,265.8v2.2M177.3,251.1v3.2M145.3,64.5v2.7M329.3,149.3v3.0M207.9,102.6v2.3M149.3,146.4v2.4M257.3,233.9v2.8M149.3,207.8v2.9M327.9,161.0v2.8M97.3,171.0v1.7M239.9,213.6v1.7M375.9,111.1v2.4M459.9,220.2v2.1M121.3,233.5v3.3M455.9,129.9v1.5M69.3,169.1v3.1M333.2,185.5v2.5M373.2,262.1v3.3M289.3,115.4v3.5M445.2,214.8v2.2M418.6,185.0v2.7M180.0,181.4v2.9M188.0,163.9v3.4M426.6,49.3v1.9M315.9,149.0v3.2M154.6,132.6v2.3M231.9,152.7v2.2M405.2,198.8v2.7M226.6,88.1v2.9M254.6,127.6v1.6M150.6,169.2v2.5M299.9,265.4v2.1M417.2,275.8v3.3M68.0,263.5v3.2M430.6,72.7v3.2M241.3,172.8v2.6M274.6,167.5v2.7M314.6,237.9v3.0M197.3,84.9v2.5M86.6,128.0v1.8M82.6,144.0v1.8M411.9,146.3v2.1M339.9,59.2v3.2M426.6,226.7v3.4M215.9,46.7v2.0M102.6,244.7v3.4M217.3,140.7v2.0M278.6,198.6v1.6M259.9,139.2v3.1M366.6,130.7v2.4M269.3,190.5v2.9M72.0,47.1v1.5M181.3,251.3v1.6M442.6,37.3v2.3M188.0,274.1v3.1M130.6,95.6v2.4M128.0,258.5v2.3M102.6,143.4v2.8M158.6,111.0v2.4M146.6,89.0v2.3M282.6,257.7v2.9M205.3,69.5v3.3M206.6,101.4v3.3M193.3,149.5v3.0M219.9,39.3v1.6M199.9,210.4v2.2M430.6,182.5v3.3M89.3,179.3v3.3M128.0,45.4v3.4M429.2,93.0v3.5M133.3,22.3v2.3M427.9,249.5v2.8M405.2,54.5v3.1M434.6,26.8v2.3M273.3,34.5v2.8M306.6,229.5v2.8M257.3,186.4v1.8M342.6,53.6v3.3M90.6,26.5v2.8M152.0,254.6v3.0M199.9,154.8v2.1M142.6,102.9v1.9M126.6,45.3v3.1M306.6,84.6v1.8M237.3,251.7v2.3M294.6,44.4v2.2M439.9,251.5v1.7M117.3,243.8v1.9M203.9,113.0v3.4M129.3,237.8v3.0M246.6,61.6v2.8M397.2,72.3v2.0M101.3,107.6v3.5M275.9,127.1v3.2M68.0,227.1v3.0M105.3,58.0v1.6M126.6,213.4v3.4M378.6,166.8v3.0M362.6,233.1v2.0M227.9,138.0v1.6M128.0,122.7v2.3M130.6,181.8v2.4M291.9,202.0v2.0M421.2,260.9v2.5M251.9,93.7v3.2M192.0,109.0v1.7M287.9,214.7v1.6M207.9,90.6v2.9M226.6,266.9v2.9" stroke="#1fd000" stroke-width="1.4" stroke-linecap="butt"/>
<path d="M218.6,60.0v3.0M265.3,52.1v2.8M379.9,126.3v3.4M331.9,256.7v2.6M239.9,112.0v2.4M275.9,263.0v1.6M359.9,138.3v3.5M345.2,63.3v3.2M295.9,86.3v2.3M347.9,72.6v2.3M201.3,27.3v2.9M355.9,262.5v2.3M363.9,225.5v1.6M350.6,137.7v1.7M398.6,45.2v3.1M218.6,188.5v3.3M261.3,89.0v2.6M274.6,128.0v1.9M290.6,92.2v2.8M271.9,243.7v3.4M227.9,75.4v2.4M379.9,94.1v2.3M287.9,252.0v1.6M289.3,82.1v3.0M366.6,39.1v2.1M325.3,39.8v2.8M258.6,92.4v2.6M251.9,258.9v1.7M374.6,69.4v2.6M225.3,30.8v1.8M346.6,128.6v3.3M311.9,87.3v2.1M358.6,187.1v1.6M226.6,122.2v3.4M394.6,215.5v2.7M231.9,196.0v2.2M381.2,161.2v3.3M347.9,197.7v1.9M193.3,243.7v2.5M298.6,163.0v1.8M333.2,131.6v2.9M303.9,141.5v3.4M222.6,58.3v2.6M205.3,267.5v3.0M261.3,242.2v2.4M329.3,164.2v2.6M306.6,196.4v2.7M283.9,46.6v2.4M271.9,163.9v2.1M346.6,182.2v2.5M325.3,76.6v1.8M366.6,256.5v3.2M291.9,192.8v2.1M314.6,25.0v3.2M239.9,77.2v1.9M281.3,139.6v3.2M305.3,113.2v3.3M274.6,171.3v2.1M289.3,239.7v3.2M373.2,89.8v2.7M301.3,77.8v3.2M338.6,113.3v3.2M399.9,102.2v1.7M269.3,257.0v1.6M249.3,56.7v2.7M225.3,250.7v3.2M346.6,148.0v3.4M334.6,189.7v1.8M282.6,226.1v2.2M239.9,150.7v3.3M342.6,178.0v2.0M347.9,217.9v1.6M319.9,262.4v2.5M270.6,154.2v1.9M245.3,226.0v2.7M206.6,180.7v1.7M270.6,83.5v3.1M203.9,152.7v2.1M190.6,255.8v2.4M397.2,207.0v2.7M262.6,268.5v3.0M193.3,116.1v3.1M201.3,78.7v3.1M326.6,73.7v2.1M395.9,254.7v2.1M349.2,138.9v2.9M397.2,264.3v3.3M269.3,191.7v3.1M238.6,85.1v3.4M234.6,177.2v3.1M283.9,154.1v3.3M286.6,116.8v1.7M358.6,97.4v2.1M381.2,113.7v3.4M217.3,120.1v2.1M323.9,237.0v1.7M343.9,97.8v2.1M211.9,209.3v2.6M274.6,38.4v2.2M223.9,47.1v3.3M190.6,188.7v2.7M251.9,26.2v3.4M277.3,190.5v1.6M286.6,184.2v1.8M261.3,246.8v3.0M359.9,138.9v3.3M237.3,154.5v1.6M291.9,98.8v1.6M330.6,81.4v3.1M399.9,230.7v1.8M192.0,69.4v2.2M219.9,261.5v1.8M267.9,266.2v2.1M335.9,33.1v1.7M366.6,267.8v2.4M302.6,39.0v2.1M322.6,142.1v2.4M357.2,275.7v2.9M247.9,57.2v3.0M345.2,211.8v1.8M255.9,209.3v2.5M287.9,86.9v1.7M235.9,103.8v2.4M374.6,207.1v2.9M323.9,188.9v2.7M211.9,137.2v2.0M270.6,206.4v2.3M305.3,141.2v2.5M355.9,111.4v2.8M354.6,130.5v3.1" stroke="#1fd000" stroke-width="1.4" stroke-linecap="butt"/>
<path d="M105.7,227.9L112.3,223.0" stroke="#f0e000" stroke-width="5.4"/>
<path d="M112.3,223.0L119.0,218.1" stroke="#f0e000" stroke-width="7.5"/>
<path d="M119.0,218.1L125.7,215.9" stroke="#f0e000" stroke-width="9.2"/>
<path d="M125.7,215.9L134.6,217.2" stroke="#f0e000" stroke-width="11.2"/>
<path d="M134.6,217.2L143.5,220.1" stroke="#f0e000" stroke-width="12.6"/>
<path d="M143.5,220.1L154.6,221.2" stroke="#f0e000" stroke-width="13.0"/>
<path d="M154.6,221.2L165.7,221.2" stroke="#f0e000" stroke-width="12.8"/>
<path d="M165.7,221.2L176.9,219.7" stroke="#f0e000" stroke-width="12.6"/>
<path d="M176.9,219.7L192.4,216.3" stroke="#f0e000" stroke-width="12.1"/>
<path d="M192.4,216.3L203.5,212.8" stroke="#f0e000" stroke-width="11.7"/>
<path d="M203.5,212.8L221.3,205.6" stroke="#f0e000" stroke-width="11.5"/>
<path d="M221.3,205.6L232.5,200.1" stroke="#f0e000" stroke-width="11.0"/>
<path d="M232.5,200.1L248.0,192.3" stroke="#f0e000" stroke-width="10.6"/>
<path d="M248.0,192.3L256.9,187.4" stroke="#f0e000" stroke-width="10.1"/>
<path d="M256.9,187.4L264.5,183.4" stroke="#f0e000" stroke-width="9.9"/>
<path d="M264.5,183.4L266.5,181.3" stroke="#f0e000" stroke-width="8.8"/>
<path d="M266.5,181.3L274.9,174.6" stroke="#f0e000" stroke-width="7.3"/>
<path d="M274.9,174.6L283.2,167.1" stroke="#f0e000" stroke-width="6.3"/>
<path d="M283.2,167.1L289.9,160.5" stroke="#f0e000" stroke-width="4.8"/>
<path d="M289.9,160.5L294.9,152.9" stroke="#f0e000" stroke-width="3.3"/>
<path d="M294.9,152.9L299.1,143.8" stroke="#f0e000" stroke-width="2.3"/>
<path d="M299.1,143.8L302.4,133.7" stroke="#f0e000" stroke-width="1.8"/>
<path d="M302.4,133.7L305.0,123.7" stroke="#f0e000" stroke-width="1.6"/>
<path d="M91.4,262.4L98.1,262.6" stroke="#f0e000" stroke-width="5.0"/>
<path d="M104.8,262.6L107.9,262.6" stroke="#f0e000" stroke-width="4.6"/>
<path d="M129.0,153.1L136.8,155.8" stroke="#f0e000" stroke-width="3.7"/>
<path d="M136.8,155.8L147.9,156.9" stroke="#f0e000" stroke-width="5.0"/>
<path d="M147.9,156.9L159.1,155.8" stroke="#f0e000" stroke-width="5.9"/>
<path d="M159.1,155.8L170.2,152.2" stroke="#f0e000" stroke-width="7.5"/>
<path d="M170.2,152.2L179.1,148.9" stroke="#f0e000" stroke-width="8.6"/>
<path d="M179.1,148.9L184.2,146.9" stroke="#f0e000" stroke-width="5.4"/>
<path d="M184.2,146.9L192.4,143.3" stroke="#f0e000" stroke-width="5.9"/>
<path d="M192.4,143.3L201.3,137.8" stroke="#f0e000" stroke-width="9.2"/>
<path d="M201.3,137.8L210.2,132.2" stroke="#f0e000" stroke-width="8.8"/>
<path d="M210.2,132.2L202.1,137.0" stroke="#f0e000" stroke-width="8.1"/>
<path d="M202.1,137.0L210.0,132.1" stroke="#f0e000" stroke-width="7.1"/>
<path d="M210.0,132.1L212.9,130.1" stroke="#f0e000" stroke-width="4.2"/>
<path d="M212.9,130.1L219.8,125.2" stroke="#f0e000" stroke-width="3.9"/>
<path d="M219.8,125.2L227.7,119.3" stroke="#f0e000" stroke-width="5.5"/>
<path d="M227.7,119.3L235.6,112.4" stroke="#f0e000" stroke-width="5.1"/>
<path d="M235.6,112.4L243.4,104.6" stroke="#f0e000" stroke-width="4.9"/>
<path d="M243.4,104.6L251.3,96.7" stroke="#f0e000" stroke-width="4.9"/>
<path d="M251.3,96.7L259.2,89.8" stroke="#f0e000" stroke-width="4.7"/>
<path d="M259.2,89.8L254.5,93.7" stroke="#f0e000" stroke-width="4.0"/>
<path d="M254.5,93.7L260.4,87.8" stroke="#f0e000" stroke-width="2.7"/>
<path d="M263.9,83.4V85.2" stroke="#e0e000" stroke-width="1.45" stroke-linecap="butt"/>
<path d="M266.3,81.9L274.2,74.0L284.0,62.2" stroke="#d8e000" stroke-width="1.2" fill="none"/>
<path d="M188.3,72.5L192.3,70.1" stroke="#f0e000" stroke-width="4.7"/>
<path d="M192.3,70.1L202.1,63.2" stroke="#f0e000" stroke-width="6.9"/>
<path d="M202.1,63.2L209.0,55.3" stroke="#f0e000" stroke-width="5.7"/>
<path d="M132.8,90.0L135.6,90.4" stroke="#f0e000" stroke-width="3.4"/>
<path d="M144.6,91.0L147.0,90.8" stroke="#f0e000" stroke-width="3.4"/>
<path d="M170.6,82.9L174.6,80.9" stroke="#f0e000" stroke-width="3.4"/>
<path d="M178.1,79.4L180.5,78.0" stroke="#f0e000" stroke-width="3.4"/>
<path d="M151.3,90.0L152.5,89.8" stroke="#f0e000" stroke-width="3.4"/>
<path d="M216.9,47.5L225.7,34.7" stroke="#f0e000" stroke-width="4.1"/>
<path d="M225.7,34.7L231.6,26.8" stroke="#f0e000" stroke-width="4.3"/>
<path d="M231.6,26.8L236.6,20.9" stroke="#f0e000" stroke-width="3.6"/>
<path d="M131.7,34.7V61.0" stroke="#d01800" stroke-width="1.3" stroke-linecap="butt"/>
<path d="M123.8,121.0V137.0" stroke="#d01800" stroke-width="1.3" stroke-linecap="butt"/>
<path d="M124.1,267.0V280.5" stroke="#d01800" stroke-width="1.3" stroke-linecap="butt"/>
<path d="M124.1,130.0V139.0" stroke="#d01800" stroke-width="1.3" stroke-linecap="butt"/>
<path d="M131.7,143.0V167.0" stroke="#c01800" stroke-width="0.9" stroke-linecap="butt"/>
<path d="M131.7,176.7V185.6" stroke="#d0c000" stroke-width="1.3" stroke-linecap="butt"/>
<path d="M131.7,185.6V205.6" stroke="#d01800" stroke-width="1.3" stroke-linecap="butt"/>
<path d="M330.8,155.0V169.0" stroke="#e0b000" stroke-width="0.9" stroke-linecap="butt"/>
<path d="M330.8,225.7V252.4" stroke="#e01000" stroke-width="1.3" stroke-linecap="butt"/>
<path d="M105.7,227.9L112.3,223.0" stroke="#ff0800" stroke-width="4.4"/>
<path d="M112.3,223.0L119.0,218.1" stroke="#ff0800" stroke-width="6.5"/>
<path d="M119.0,218.1L125.7,215.9" stroke="#ff0800" stroke-width="8.2"/>
<path d="M125.7,215.9L134.6,217.2" stroke="#ff0800" stroke-width="10.2"/>
<path d="M134.6,217.2L143.5,220.1" stroke="#ff0800" stroke-width="11.6"/>
<path d="M143.5,220.1L154.6,221.2" stroke="#ff0800" stroke-width="12.0"/>
<path d="M154.6,221.2L165.7,221.2" stroke="#ff0800" stroke-width="11.8"/>
<path d="M165.7,221.2L176.9,219.7" stroke="#ff0800" stroke-width="11.6"/>
<path d="M176.9,219.7L192.4,216.3" stroke="#ff0800" stroke-width="11.1"/>
<path d="M192.4,216.3L203.5,212.8" stroke="#ff0800" stroke-width="10.7"/>
<path d="M203.5,212.8L221.3,205.6" stroke="#ff0800" stroke-width="10.5"/>
<path d="M221.3,205.6L232.5,200.1" stroke="#ff0800" stroke-width="10.0"/>
<path d="M232.5,200.1L248.0,192.3" stroke="#ff0800" stroke-width="9.6"/>
<path d="M248.0,192.3L256.9,187.4" stroke="#ff0800" stroke-width="9.1"/>
<path d="M256.9,187.4L264.5,183.4" stroke="#ff0800" stroke-width="8.9"/>
<path d="M264.5,183.4L266.5,181.3" stroke="#ff0800" stroke-width="7.8"/>
<path d="M266.5,181.3L274.9,174.6" stroke="#ff0800" stroke-width="6.3"/>
<path d="M274.9,174.6L283.2,167.1" stroke="#ff0800" stroke-width="5.3"/>
<path d="M283.2,167.1L289.9,160.5" stroke="#ff0800" stroke-width="3.8"/>
<path d="M289.9,160.5L294.9,152.9" stroke="#ff0800" stroke-width="2.3"/>
<path d="M294.9,152.9L299.1,143.8" stroke="#ff0800" stroke-width="1.3"/>
<path d="M299.1,143.8L302.4,133.7" stroke="#ff0800" stroke-width="0.8"/>
<path d="M302.4,133.7L305.0,123.7" stroke="#ff0800" stroke-width="0.6"/>
<path d="M91.4,262.4L98.1,262.6" stroke="#ff0800" stroke-width="4.0"/>
<path d="M104.8,262.6L107.9,262.6" stroke="#ff0800" stroke-width="3.6"/>
<path d="M129.0,153.1L136.8,155.8" stroke="#ff0800" stroke-width="2.7"/>
<path d="M136.8,155.8L147.9,156.9" stroke="#ff0800" stroke-width="4.0"/>
<path d="M147.9,156.9L159.1,155.8" stroke="#ff0800" stroke-width="4.9"/>
<path d="M159.1,155.8L170.2,152.2" stroke="#ff0800" stroke-width="6.5"/>
<path d="M170.2,152.2L179.1,148.9" stroke="#ff0800" stroke-width="7.6"/>
<path d="M179.1,148.9L184.2,146.9" stroke="#ff0800" stroke-width="4.4"/>
<path d="M184.2,146.9L192.4,143.3" stroke="#ff0800" stroke-width="4.9"/>
<path d="M192.4,143.3L201.3,137.8" stroke="#ff0800" stroke-width="8.2"/>
<path d="M201.3,137.8L210.2,132.2" stroke="#ff0800" stroke-width="7.8"/>
<path d="M210.2,132.2L202.1,137.0" stroke="#ff0800" stroke-width="7.1"/>
<path d="M202.1,137.0L210.0,132.1" stroke="#ff0800" stroke-width="6.1"/>
<path d="M210.0,132.1L212.9,130.1" stroke="#ff0800" stroke-width="3.2"/>
<path d="M212.9,130.1L219.8,125.2" stroke="#ff0800" stroke-width="2.9"/>
<path d="M219.8,125.2L227.7,119.3" stroke="#ff0800" stroke-width="4.5"/>
<path d="M227.7,119.3L235.6,112.4" stroke="#ff0800" stroke-width="4.1"/>
<path d="M235.6,112.4L243.4,104.6" stroke="#ff0800" stroke-width="3.9"/>
<path d="M243.4,104.6L251.3,96.7" stroke="#ff0800" stroke-width="3.9"/>
<path d="M251.3,96.7L259.2,89.8" stroke="#ff0800" stroke-width="3.7"/>
<path d="M259.2,89.8L254.5,93.7" stroke="#ff0800" stroke-width="3.0"/>
<path d="M254.5,93.7L260.4,87.8" stroke="#ff0800" stroke-width="1.7"/>
<path d="M188.3,72.5L192.3,70.1" stroke="#ff0800" stroke-width="3.7"/>
<path d="M192.3,70.1L202.1,63.2" stroke="#ff0800" stroke-width="5.9"/>
<path d="M202.1,63.2L209.0,55.3" stroke="#ff0800" stroke-width="4.7"/>
<path d="M132.8,90.0L135.6,90.4" stroke="#ff0800" stroke-width="2.4"/>
<path d="M144.6,91.0L147.0,90.8" stroke="#ff0800" stroke-width="2.4"/>
<path d="M170.6,82.9L174.6,80.9" stroke="#ff0800" stroke-width="2.4"/>
<path d="M178.1,79.4L180.5,78.0" stroke="#ff0800" stroke-width="2.4"/>
<path d="M151.3,90.0L152.5,89.8" stroke="#ff0800" stroke-width="2.4"/>
<path d="M216.9,47.5L225.7,34.7" stroke="#ff3000" stroke-width="3.1"/>
<path d="M225.7,34.7L231.6,26.8" stroke="#ff3000" stroke-width="3.3"/>
<path d="M231.6,26.8L236.6,20.9" stroke="#ff3000" stroke-width="2.6"/>
<path d="M260.7,180.4V190.4" stroke="#c06000" stroke-width="0.8" stroke-linecap="butt"/>
<path d="M264.9,177.0V189.1" stroke="#c06000" stroke-width="0.8" stroke-linecap="butt"/>
<path d="M269.0,175.2V183.5" stroke="#c06000" stroke-width="0.8" stroke-linecap="butt"/>
<path d="M279.1,167.3V174.5" stroke="#c06000" stroke-width="0.8" stroke-linecap="butt"/>
<path d="M184.6,212.3V223.7" stroke="#d08000" stroke-width="0.9" stroke-linecap="butt"/>
<path d="M212.5,203.6V214.8" stroke="#d08000" stroke-width="0.9" stroke-linecap="butt"/>
<path d="M239.1,191.4V202.1" stroke="#d08000" stroke-width="0.9" stroke-linecap="butt"/>
<path d="M259.2,181.2V191.2" stroke="#d08000" stroke-width="0.9" stroke-linecap="butt"/>
<path d="M132.4,150.9V153.6" stroke="#e8d800" stroke-width="1.2" stroke-linecap="butt"/>
<path d="M140.1,153.6V156.2" stroke="#e8d800" stroke-width="1.2" stroke-linecap="butt"/>
<path d="M145.7,156.5V159.1" stroke="#e8d800" stroke-width="1.2" stroke-linecap="butt"/>
<path d="M153.5,153.6V156.2" stroke="#e8d800" stroke-width="1.2" stroke-linecap="butt"/>
<path d="M159.1,155.8V158.5" stroke="#e8d800" stroke-width="1.2" stroke-linecap="butt"/>
<path d="M212.0,124.0V126.4" stroke="#e8d800" stroke-width="1.2" stroke-linecap="butt"/>
<path d="M221.8,118.1V120.5" stroke="#e8d800" stroke-width="1.2" stroke-linecap="butt"/>
<path d="M231.6,112.2V114.6" stroke="#e8d800" stroke-width="1.2" stroke-linecap="butt"/>
<path d="M241.5,104.7V107.1" stroke="#e8d800" stroke-width="1.2" stroke-linecap="butt"/>
<path d="M248.4,99.4V101.8" stroke="#e8d800" stroke-width="1.2" stroke-linecap="butt"/>
<path d="M255.2,91.6V93.9" stroke="#e8d800" stroke-width="1.2" stroke-linecap="butt"/>
<path d="M218.8,42.8V46.3" stroke="#e8e000" stroke-width="1.2" stroke-linecap="butt"/>
<path d="M221.8,37.8V41.4" stroke="#e8e000" stroke-width="1.2" stroke-linecap="butt"/>
<path d="M224.2,35.3V38.8" stroke="#e8e000" stroke-width="1.2" stroke-linecap="butt"/>
<path d="M227.7,30.5V34.1" stroke="#e8e000" stroke-width="1.2" stroke-linecap="butt"/>
<path d="M230.3,27.0V30.5" stroke="#e8e000" stroke-width="1.2" stroke-linecap="butt"/>
<path d="M233.6,22.7V26.2" stroke="#e8e000" stroke-width="1.2" stroke-linecap="butt"/>
<path d="M235.2,20.7V24.3" stroke="#e8e000" stroke-width="1.2" stroke-linecap="butt"/>
</g></g>
<rect x="57.5" y="239.6" width="6.5" height="1.2" fill="#eee"/>
<rect x="57.5" y="184.4" width="6.5" height="1.2" fill="#eee"/>
<rect x="57.5" y="129.2" width="6.5" height="1.2" fill="#eee"/>
<rect x="57.5" y="74.0" width="6.5" height="1.2" fill="#eee"/>
<rect x="64.5" y="289.2" width="1.2" height="5" fill="#eee"/>
<rect x="119.4" y="289.2" width="1.2" height="5" fill="#eee"/>
<rect x="188.0" y="289.2" width="1.2" height="5" fill="#eee"/>
<rect x="256.6" y="289.2" width="1.2" height="5" fill="#eee"/>
<rect x="325.2" y="289.2" width="1.2" height="5" fill="#eee"/>
<rect x="393.8" y="289.2" width="1.2" height="5" fill="#eee"/>
<text class="ax" x="48" y="306.4" text-anchor="end">0</text>
<text class="ax" x="48" y="252.4" text-anchor="end">2</text>
<text class="ax" x="48" y="197.2" text-anchor="end">4</text>
<text class="ax" x="48" y="142.0" text-anchor="end">6</text>
<text class="ax" x="48" y="86.8" text-anchor="end">8</text>
<text class="ax" x="48" y="31.6" text-anchor="end">10</text>
<text class="ax" x="63.8" y="309.8">1</text>
<text class="ax" x="118.7" y="309.8">5</text>
<text class="ax" x="187.3" y="309.8">10</text>
<text class="ax" x="255.9" y="309.8">15</text>
<text class="ax" x="324.5" y="309.8">20</text>
<text class="ax" x="393.1" y="309.8">25</text>
<text class="ax" x="462.6" y="309.8">30</text>
<text class="ax" x="204" y="328.6">FREQUENCY [MHz]</text>
<text class="ax" transform="translate(33,232.5) rotate(-90) scale(0.866,1.16)">HEIGHT [100km]</text>
<text class="st" x="19.6" y="346.3">Okinawa 2025/11/12 12:50:00 (JST=GMT+9)</text>
<g fill="none" stroke="#222" stroke-width="1.1">
<circle cx="437.1" cy="325.8" r="13.6"/>
<path d="M425.70000000000005,318.8 L437.1,325.8 L441.0,318.2"/>
<path d="M437.1,311.4 v1.8 M437.1,338.40000000000003 v1.8 M422.7,325.8 h1.8 M449.70000000000005,325.8 h1.8"/>
</g>
</g>
<rect x="1001" y="85.4" width="23" height="539.4" fill="url(#cbg)"/>
<rect x="1001" y="624.8" width="23" height="11.2" fill="#282828"/>
<rect x="1001" y="636" width="23" height="11" fill="#1a1a1a"/>
<rect x="1001" y="647" width="23" height="1.7" fill="#000"/>
<text class="cb" x="1028" y="658.6">0</text>
<text class="cb" x="1028" y="548.6">50</text>
<text class="cb" x="1028" y="438.6">100</text>
<text class="cb" x="1028" y="328.6">150</text>
<text class="cb" x="1028" y="218.6">200</text>
<text class="cb" x="1028" y="108.6">250</text>
</svg></body></html>
